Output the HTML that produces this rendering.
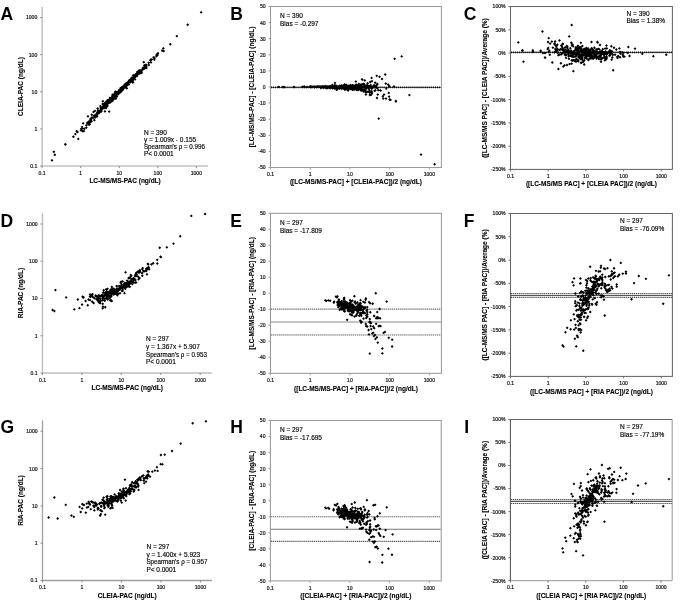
<!DOCTYPE html><html><head><meta charset="utf-8"><style>html,body{margin:0;padding:0;background:#fff}svg{display:block;will-change:transform}text{font-family:"Liberation Sans",sans-serif}</style></head><body>
<svg width="685" height="607" viewBox="0 0 685 607">
<rect width="685" height="607" fill="#fff"/>
<text x="0.60" y="19.80" font-size="17.5" text-anchor="start" font-weight="bold" fill="#000">A</text>
<line x1="42.15" y1="7.00" x2="42.15" y2="166.60" stroke="#c2c2c2" stroke-width="1.5"/>
<line x1="41.65" y1="166.10" x2="208.00" y2="166.10" stroke="#c2c2c2" stroke-width="1.5"/>
<line x1="42.14" y1="166.10" x2="42.14" y2="168.10" stroke="#808080" stroke-width="0.9"/>
<text x="42.14" y="174.54" font-size="5.1" text-anchor="middle" fill="#111" stroke="#111" stroke-width="0.18">0.1</text>
<line x1="80.70" y1="166.10" x2="80.70" y2="168.10" stroke="#808080" stroke-width="0.9"/>
<text x="80.70" y="174.54" font-size="5.1" text-anchor="middle" fill="#111" stroke="#111" stroke-width="0.18">1</text>
<line x1="119.26" y1="166.10" x2="119.26" y2="168.10" stroke="#808080" stroke-width="0.9"/>
<text x="119.26" y="174.54" font-size="5.1" text-anchor="middle" fill="#111" stroke="#111" stroke-width="0.18">10</text>
<line x1="157.82" y1="166.10" x2="157.82" y2="168.10" stroke="#808080" stroke-width="0.9"/>
<text x="157.82" y="174.54" font-size="5.1" text-anchor="middle" fill="#111" stroke="#111" stroke-width="0.18">100</text>
<line x1="196.38" y1="166.10" x2="196.38" y2="168.10" stroke="#808080" stroke-width="0.9"/>
<text x="196.38" y="174.54" font-size="5.1" text-anchor="middle" fill="#111" stroke="#111" stroke-width="0.18">1000</text>
<line x1="40.15" y1="166.10" x2="42.15" y2="166.10" stroke="#808080" stroke-width="0.9"/>
<text x="37.25" y="168.04" font-size="5.1" text-anchor="end" fill="#111" stroke="#111" stroke-width="0.18">0.1</text>
<line x1="40.15" y1="128.95" x2="42.15" y2="128.95" stroke="#808080" stroke-width="0.9"/>
<text x="37.25" y="130.89" font-size="5.1" text-anchor="end" fill="#111" stroke="#111" stroke-width="0.18">1</text>
<line x1="40.15" y1="91.80" x2="42.15" y2="91.80" stroke="#808080" stroke-width="0.9"/>
<text x="37.25" y="93.74" font-size="5.1" text-anchor="end" fill="#111" stroke="#111" stroke-width="0.18">10</text>
<line x1="40.15" y1="54.65" x2="42.15" y2="54.65" stroke="#808080" stroke-width="0.9"/>
<text x="37.25" y="56.59" font-size="5.1" text-anchor="end" fill="#111" stroke="#111" stroke-width="0.18">100</text>
<line x1="40.15" y1="17.50" x2="42.15" y2="17.50" stroke="#808080" stroke-width="0.9"/>
<text x="37.25" y="19.44" font-size="5.1" text-anchor="end" fill="#111" stroke="#111" stroke-width="0.18">1000</text>
<text x="125.08" y="183.34" font-size="6.5" text-anchor="middle" font-weight="bold" stroke="#000" stroke-width="0.1" fill="#000">LC-MS/MS-PAC (ng/dL)</text>
<text x="22.74" y="86.55" font-size="6.5" text-anchor="middle" font-weight="bold" stroke="#000" stroke-width="0.1" transform="rotate(-90 22.74 86.55)" fill="#000">CLEIA-PAC (ng/dL)</text>
<text x="143.90" y="134.80" font-size="6.5" text-anchor="start" stroke="#000" stroke-width="0.15" fill="#000">N = 390</text>
<text x="143.90" y="141.90" font-size="6.5" text-anchor="start" stroke="#000" stroke-width="0.15" fill="#000">y = 1.009x - 0.155</text>
<text x="143.90" y="149.10" font-size="6.5" textLength="61" lengthAdjust="spacingAndGlyphs" stroke="#000" stroke-width="0.15">Spearman's ρ = 0.996</text>
<text x="143.90" y="156.30" font-size="6.5" text-anchor="start" stroke="#000" stroke-width="0.15" fill="#000">P&lt; 0.0001</text>
<text x="0.60" y="226.80" font-size="17.5" text-anchor="start" font-weight="bold" fill="#000">D</text>
<line x1="42.50" y1="213.20" x2="42.50" y2="373.50" stroke="#bdbdbd" stroke-width="1.4"/>
<line x1="42.00" y1="373.00" x2="211.90" y2="373.00" stroke="#bdbdbd" stroke-width="1.4"/>
<line x1="42.47" y1="373.00" x2="42.47" y2="375.00" stroke="#808080" stroke-width="0.9"/>
<text x="42.47" y="381.74" font-size="5.1" text-anchor="middle" fill="#111" stroke="#111" stroke-width="0.18">0.1</text>
<line x1="81.90" y1="373.00" x2="81.90" y2="375.00" stroke="#808080" stroke-width="0.9"/>
<text x="81.90" y="381.74" font-size="5.1" text-anchor="middle" fill="#111" stroke="#111" stroke-width="0.18">1</text>
<line x1="121.33" y1="373.00" x2="121.33" y2="375.00" stroke="#808080" stroke-width="0.9"/>
<text x="121.33" y="381.74" font-size="5.1" text-anchor="middle" fill="#111" stroke="#111" stroke-width="0.18">10</text>
<line x1="160.76" y1="373.00" x2="160.76" y2="375.00" stroke="#808080" stroke-width="0.9"/>
<text x="160.76" y="381.74" font-size="5.1" text-anchor="middle" fill="#111" stroke="#111" stroke-width="0.18">100</text>
<line x1="200.19" y1="373.00" x2="200.19" y2="375.00" stroke="#808080" stroke-width="0.9"/>
<text x="200.19" y="381.74" font-size="5.1" text-anchor="middle" fill="#111" stroke="#111" stroke-width="0.18">1000</text>
<line x1="40.50" y1="373.00" x2="42.50" y2="373.00" stroke="#808080" stroke-width="0.9"/>
<text x="37.60" y="374.94" font-size="5.1" text-anchor="end" fill="#111" stroke="#111" stroke-width="0.18">0.1</text>
<line x1="40.50" y1="335.75" x2="42.50" y2="335.75" stroke="#808080" stroke-width="0.9"/>
<text x="37.60" y="337.69" font-size="5.1" text-anchor="end" fill="#111" stroke="#111" stroke-width="0.18">1</text>
<line x1="40.50" y1="298.50" x2="42.50" y2="298.50" stroke="#808080" stroke-width="0.9"/>
<text x="37.60" y="300.44" font-size="5.1" text-anchor="end" fill="#111" stroke="#111" stroke-width="0.18">10</text>
<line x1="40.50" y1="261.25" x2="42.50" y2="261.25" stroke="#808080" stroke-width="0.9"/>
<text x="37.60" y="263.19" font-size="5.1" text-anchor="end" fill="#111" stroke="#111" stroke-width="0.18">100</text>
<line x1="40.50" y1="224.00" x2="42.50" y2="224.00" stroke="#808080" stroke-width="0.9"/>
<text x="37.60" y="225.94" font-size="5.1" text-anchor="end" fill="#111" stroke="#111" stroke-width="0.18">1000</text>
<text x="127.20" y="390.34" font-size="6.5" text-anchor="middle" font-weight="bold" stroke="#000" stroke-width="0.1" fill="#000">LC-MS/MS-PAC (ng/dL)</text>
<text x="22.74" y="293.10" font-size="6.5" text-anchor="middle" font-weight="bold" stroke="#000" stroke-width="0.1" transform="rotate(-90 22.74 293.10)" fill="#000">RIA-PAC (ng/dL)</text>
<text x="146.00" y="341.30" font-size="6.5" text-anchor="start" stroke="#000" stroke-width="0.15" fill="#000">N = 297</text>
<text x="146.00" y="349.10" font-size="6.5" text-anchor="start" stroke="#000" stroke-width="0.15" fill="#000">y = 1.367x + 5.907</text>
<text x="146.00" y="356.70" font-size="6.5" textLength="61" lengthAdjust="spacingAndGlyphs" stroke="#000" stroke-width="0.15">Spearman's ρ = 0.953</text>
<text x="146.00" y="364.30" font-size="6.5" text-anchor="start" stroke="#000" stroke-width="0.15" fill="#000">P&lt; 0.0001</text>
<text x="0.60" y="433.00" font-size="17.5" text-anchor="start" font-weight="bold" fill="#000">G</text>
<line x1="42.50" y1="420.40" x2="42.50" y2="581.00" stroke="#a0a0a0" stroke-width="1.3"/>
<line x1="42.00" y1="580.50" x2="211.90" y2="580.50" stroke="#a0a0a0" stroke-width="1.3"/>
<line x1="42.50" y1="580.50" x2="42.50" y2="582.50" stroke="#808080" stroke-width="0.9"/>
<text x="42.50" y="589.14" font-size="5.1" text-anchor="middle" fill="#111" stroke="#111" stroke-width="0.18">0.1</text>
<line x1="81.98" y1="580.50" x2="81.98" y2="582.50" stroke="#808080" stroke-width="0.9"/>
<text x="81.98" y="589.14" font-size="5.1" text-anchor="middle" fill="#111" stroke="#111" stroke-width="0.18">1</text>
<line x1="121.46" y1="580.50" x2="121.46" y2="582.50" stroke="#808080" stroke-width="0.9"/>
<text x="121.46" y="589.14" font-size="5.1" text-anchor="middle" fill="#111" stroke="#111" stroke-width="0.18">10</text>
<line x1="160.94" y1="580.50" x2="160.94" y2="582.50" stroke="#808080" stroke-width="0.9"/>
<text x="160.94" y="589.14" font-size="5.1" text-anchor="middle" fill="#111" stroke="#111" stroke-width="0.18">100</text>
<line x1="200.42" y1="580.50" x2="200.42" y2="582.50" stroke="#808080" stroke-width="0.9"/>
<text x="200.42" y="589.14" font-size="5.1" text-anchor="middle" fill="#111" stroke="#111" stroke-width="0.18">1000</text>
<line x1="40.50" y1="580.50" x2="42.50" y2="580.50" stroke="#808080" stroke-width="0.9"/>
<text x="37.60" y="582.44" font-size="5.1" text-anchor="end" fill="#111" stroke="#111" stroke-width="0.18">0.1</text>
<line x1="40.50" y1="543.20" x2="42.50" y2="543.20" stroke="#808080" stroke-width="0.9"/>
<text x="37.60" y="545.14" font-size="5.1" text-anchor="end" fill="#111" stroke="#111" stroke-width="0.18">1</text>
<line x1="40.50" y1="505.90" x2="42.50" y2="505.90" stroke="#808080" stroke-width="0.9"/>
<text x="37.60" y="507.84" font-size="5.1" text-anchor="end" fill="#111" stroke="#111" stroke-width="0.18">10</text>
<line x1="40.50" y1="468.60" x2="42.50" y2="468.60" stroke="#808080" stroke-width="0.9"/>
<text x="37.60" y="470.54" font-size="5.1" text-anchor="end" fill="#111" stroke="#111" stroke-width="0.18">100</text>
<line x1="40.50" y1="431.30" x2="42.50" y2="431.30" stroke="#808080" stroke-width="0.9"/>
<text x="37.60" y="433.24" font-size="5.1" text-anchor="end" fill="#111" stroke="#111" stroke-width="0.18">1000</text>
<text x="127.20" y="597.94" font-size="6.5" text-anchor="middle" font-weight="bold" stroke="#000" stroke-width="0.1" fill="#000">CLEIA-PAC (ng/dL)</text>
<text x="22.74" y="500.45" font-size="6.5" text-anchor="middle" font-weight="bold" stroke="#000" stroke-width="0.1" transform="rotate(-90 22.74 500.45)" fill="#000">RIA-PAC (ng/dL)</text>
<text x="146.40" y="548.70" font-size="6.5" text-anchor="start" stroke="#000" stroke-width="0.15" fill="#000">N = 297</text>
<text x="146.40" y="556.60" font-size="6.5" text-anchor="start" stroke="#000" stroke-width="0.15" fill="#000">y = 1.400x + 5.923</text>
<text x="146.40" y="564.30" font-size="6.5" textLength="61" lengthAdjust="spacingAndGlyphs" stroke="#000" stroke-width="0.15">Spearman's ρ = 0.957</text>
<text x="146.40" y="571.80" font-size="6.5" text-anchor="start" stroke="#000" stroke-width="0.15" fill="#000">P&lt; 0.0001</text>
<text x="230.30" y="19.80" font-size="17.5" text-anchor="start" font-weight="bold" fill="#000">B</text>
<rect x="270.50" y="6.50" width="170.90" height="161.00" fill="none" stroke="#999" stroke-width="1.05"/>
<line x1="270.47" y1="167.50" x2="270.47" y2="169.50" stroke="#999" stroke-width="0.9"/>
<text x="270.47" y="175.74" font-size="5.1" text-anchor="middle" fill="#111" stroke="#111" stroke-width="0.18">0.1</text>
<line x1="310.20" y1="167.50" x2="310.20" y2="169.50" stroke="#999" stroke-width="0.9"/>
<text x="310.20" y="175.74" font-size="5.1" text-anchor="middle" fill="#111" stroke="#111" stroke-width="0.18">1</text>
<line x1="349.93" y1="167.50" x2="349.93" y2="169.50" stroke="#999" stroke-width="0.9"/>
<text x="349.93" y="175.74" font-size="5.1" text-anchor="middle" fill="#111" stroke="#111" stroke-width="0.18">10</text>
<line x1="389.66" y1="167.50" x2="389.66" y2="169.50" stroke="#999" stroke-width="0.9"/>
<text x="389.66" y="175.74" font-size="5.1" text-anchor="middle" fill="#111" stroke="#111" stroke-width="0.18">100</text>
<line x1="429.39" y1="167.50" x2="429.39" y2="169.50" stroke="#999" stroke-width="0.9"/>
<text x="429.39" y="175.74" font-size="5.1" text-anchor="middle" fill="#111" stroke="#111" stroke-width="0.18">1000</text>
<line x1="268.50" y1="6.50" x2="270.50" y2="6.50" stroke="#999" stroke-width="0.9"/>
<text x="265.60" y="8.44" font-size="5.1" text-anchor="end" fill="#111" stroke="#111" stroke-width="0.18">50</text>
<line x1="268.50" y1="22.60" x2="270.50" y2="22.60" stroke="#999" stroke-width="0.9"/>
<text x="265.60" y="24.54" font-size="5.1" text-anchor="end" fill="#111" stroke="#111" stroke-width="0.18">40</text>
<line x1="268.50" y1="38.70" x2="270.50" y2="38.70" stroke="#999" stroke-width="0.9"/>
<text x="265.60" y="40.64" font-size="5.1" text-anchor="end" fill="#111" stroke="#111" stroke-width="0.18">30</text>
<line x1="268.50" y1="54.80" x2="270.50" y2="54.80" stroke="#999" stroke-width="0.9"/>
<text x="265.60" y="56.74" font-size="5.1" text-anchor="end" fill="#111" stroke="#111" stroke-width="0.18">20</text>
<line x1="268.50" y1="70.90" x2="270.50" y2="70.90" stroke="#999" stroke-width="0.9"/>
<text x="265.60" y="72.84" font-size="5.1" text-anchor="end" fill="#111" stroke="#111" stroke-width="0.18">10</text>
<line x1="268.50" y1="87.00" x2="270.50" y2="87.00" stroke="#999" stroke-width="0.9"/>
<text x="265.60" y="88.94" font-size="5.1" text-anchor="end" fill="#111" stroke="#111" stroke-width="0.18">0</text>
<line x1="268.50" y1="103.10" x2="270.50" y2="103.10" stroke="#999" stroke-width="0.9"/>
<text x="265.60" y="105.04" font-size="5.1" text-anchor="end" fill="#111" stroke="#111" stroke-width="0.18">-10</text>
<line x1="268.50" y1="119.20" x2="270.50" y2="119.20" stroke="#999" stroke-width="0.9"/>
<text x="265.60" y="121.14" font-size="5.1" text-anchor="end" fill="#111" stroke="#111" stroke-width="0.18">-20</text>
<line x1="268.50" y1="135.30" x2="270.50" y2="135.30" stroke="#999" stroke-width="0.9"/>
<text x="265.60" y="137.24" font-size="5.1" text-anchor="end" fill="#111" stroke="#111" stroke-width="0.18">-30</text>
<line x1="268.50" y1="151.40" x2="270.50" y2="151.40" stroke="#999" stroke-width="0.9"/>
<text x="265.60" y="153.34" font-size="5.1" text-anchor="end" fill="#111" stroke="#111" stroke-width="0.18">-40</text>
<line x1="268.50" y1="167.50" x2="270.50" y2="167.50" stroke="#999" stroke-width="0.9"/>
<text x="265.60" y="169.44" font-size="5.1" text-anchor="end" fill="#111" stroke="#111" stroke-width="0.18">-50</text>
<text x="355.95" y="184.34" font-size="6.5" text-anchor="middle" font-weight="bold" stroke="#000" stroke-width="0.1" fill="#000">([LC-MS/MS-PAC] + [CLEIA-PAC])/2 (ng/dL)</text>
<text x="254.44" y="87.00" font-size="6.5" text-anchor="middle" font-weight="bold" stroke="#000" stroke-width="0.1" transform="rotate(-90 254.44 87.00)" fill="#000">[LC-MS/MS-PAC] - [CLEIA-PAC] (ng/dL)</text>
<text x="280.00" y="18.30" font-size="6.5" text-anchor="start" stroke="#000" stroke-width="0.15" fill="#000">N = 390</text>
<text x="280.00" y="26.20" font-size="6.5" text-anchor="start" stroke="#000" stroke-width="0.15" fill="#000">Bias = -0.297</text>
<line x1="271.00" y1="87.40" x2="440.90" y2="87.40" stroke="#333" stroke-width="0.9"/>
<line x1="271.00" y1="87.40" x2="440.90" y2="87.40" stroke="#000" stroke-width="1.6" stroke-dasharray="0.9 1.15"/>
<text x="230.30" y="226.80" font-size="17.5" text-anchor="start" font-weight="bold" fill="#000">E</text>
<rect x="270.50" y="213.30" width="170.90" height="160.00" fill="none" stroke="#999" stroke-width="1.05"/>
<line x1="270.47" y1="373.30" x2="270.47" y2="375.30" stroke="#999" stroke-width="0.9"/>
<text x="270.47" y="382.14" font-size="5.1" text-anchor="middle" fill="#111" stroke="#111" stroke-width="0.18">0.1</text>
<line x1="310.20" y1="373.30" x2="310.20" y2="375.30" stroke="#999" stroke-width="0.9"/>
<text x="310.20" y="382.14" font-size="5.1" text-anchor="middle" fill="#111" stroke="#111" stroke-width="0.18">1</text>
<line x1="349.93" y1="373.30" x2="349.93" y2="375.30" stroke="#999" stroke-width="0.9"/>
<text x="349.93" y="382.14" font-size="5.1" text-anchor="middle" fill="#111" stroke="#111" stroke-width="0.18">10</text>
<line x1="389.66" y1="373.30" x2="389.66" y2="375.30" stroke="#999" stroke-width="0.9"/>
<text x="389.66" y="382.14" font-size="5.1" text-anchor="middle" fill="#111" stroke="#111" stroke-width="0.18">100</text>
<line x1="429.39" y1="373.30" x2="429.39" y2="375.30" stroke="#999" stroke-width="0.9"/>
<text x="429.39" y="382.14" font-size="5.1" text-anchor="middle" fill="#111" stroke="#111" stroke-width="0.18">1000</text>
<line x1="268.50" y1="213.30" x2="270.50" y2="213.30" stroke="#999" stroke-width="0.9"/>
<text x="265.60" y="215.24" font-size="5.1" text-anchor="end" fill="#111" stroke="#111" stroke-width="0.18">50</text>
<line x1="268.50" y1="229.30" x2="270.50" y2="229.30" stroke="#999" stroke-width="0.9"/>
<text x="265.60" y="231.24" font-size="5.1" text-anchor="end" fill="#111" stroke="#111" stroke-width="0.18">40</text>
<line x1="268.50" y1="245.30" x2="270.50" y2="245.30" stroke="#999" stroke-width="0.9"/>
<text x="265.60" y="247.24" font-size="5.1" text-anchor="end" fill="#111" stroke="#111" stroke-width="0.18">30</text>
<line x1="268.50" y1="261.30" x2="270.50" y2="261.30" stroke="#999" stroke-width="0.9"/>
<text x="265.60" y="263.24" font-size="5.1" text-anchor="end" fill="#111" stroke="#111" stroke-width="0.18">20</text>
<line x1="268.50" y1="277.30" x2="270.50" y2="277.30" stroke="#999" stroke-width="0.9"/>
<text x="265.60" y="279.24" font-size="5.1" text-anchor="end" fill="#111" stroke="#111" stroke-width="0.18">10</text>
<line x1="268.50" y1="293.30" x2="270.50" y2="293.30" stroke="#999" stroke-width="0.9"/>
<text x="265.60" y="295.24" font-size="5.1" text-anchor="end" fill="#111" stroke="#111" stroke-width="0.18">0</text>
<line x1="268.50" y1="309.30" x2="270.50" y2="309.30" stroke="#999" stroke-width="0.9"/>
<text x="265.60" y="311.24" font-size="5.1" text-anchor="end" fill="#111" stroke="#111" stroke-width="0.18">-10</text>
<line x1="268.50" y1="325.30" x2="270.50" y2="325.30" stroke="#999" stroke-width="0.9"/>
<text x="265.60" y="327.24" font-size="5.1" text-anchor="end" fill="#111" stroke="#111" stroke-width="0.18">-20</text>
<line x1="268.50" y1="341.30" x2="270.50" y2="341.30" stroke="#999" stroke-width="0.9"/>
<text x="265.60" y="343.24" font-size="5.1" text-anchor="end" fill="#111" stroke="#111" stroke-width="0.18">-30</text>
<line x1="268.50" y1="357.30" x2="270.50" y2="357.30" stroke="#999" stroke-width="0.9"/>
<text x="265.60" y="359.24" font-size="5.1" text-anchor="end" fill="#111" stroke="#111" stroke-width="0.18">-40</text>
<line x1="268.50" y1="373.30" x2="270.50" y2="373.30" stroke="#999" stroke-width="0.9"/>
<text x="265.60" y="375.24" font-size="5.1" text-anchor="end" fill="#111" stroke="#111" stroke-width="0.18">-50</text>
<text x="355.95" y="390.74" font-size="6.5" text-anchor="middle" font-weight="bold" stroke="#000" stroke-width="0.1" fill="#000">([LC-MS/MS-PAC] + [RIA-PAC])/2 (ng/dL)</text>
<text x="254.44" y="293.30" font-size="6.5" text-anchor="middle" font-weight="bold" stroke="#000" stroke-width="0.1" transform="rotate(-90 254.44 293.30)" fill="#000">[LC-MS/MS-PAC] - [RIA-PAC] (ng/dL)</text>
<text x="279.90" y="224.90" font-size="6.5" text-anchor="start" stroke="#000" stroke-width="0.15" fill="#000">N = 297</text>
<text x="279.90" y="232.70" font-size="6.5" text-anchor="start" stroke="#000" stroke-width="0.15" fill="#000">Bias = -17.809</text>
<line x1="271.00" y1="309.15" x2="440.90" y2="309.15" stroke="#cdcdcd" stroke-width="1.0"/>
<line x1="271.00" y1="309.15" x2="440.90" y2="309.15" stroke="#707070" stroke-width="1.1" stroke-dasharray="1 1.05"/>
<line x1="271.00" y1="322.00" x2="440.90" y2="322.00" stroke="#8a8a8a" stroke-width="1.1"/>
<line x1="271.00" y1="334.95" x2="440.90" y2="334.95" stroke="#cdcdcd" stroke-width="1.0"/>
<line x1="271.00" y1="334.95" x2="440.90" y2="334.95" stroke="#707070" stroke-width="1.1" stroke-dasharray="1 1.05"/>
<text x="230.30" y="433.00" font-size="17.5" text-anchor="start" font-weight="bold" fill="#000">H</text>
<rect x="270.40" y="420.50" width="170.80" height="160.40" fill="none" stroke="#999" stroke-width="1.05"/>
<line x1="270.37" y1="580.90" x2="270.37" y2="582.90" stroke="#999" stroke-width="0.9"/>
<text x="270.37" y="589.54" font-size="5.1" text-anchor="middle" fill="#111" stroke="#111" stroke-width="0.18">0.1</text>
<line x1="310.10" y1="580.90" x2="310.10" y2="582.90" stroke="#999" stroke-width="0.9"/>
<text x="310.10" y="589.54" font-size="5.1" text-anchor="middle" fill="#111" stroke="#111" stroke-width="0.18">1</text>
<line x1="349.83" y1="580.90" x2="349.83" y2="582.90" stroke="#999" stroke-width="0.9"/>
<text x="349.83" y="589.54" font-size="5.1" text-anchor="middle" fill="#111" stroke="#111" stroke-width="0.18">10</text>
<line x1="389.56" y1="580.90" x2="389.56" y2="582.90" stroke="#999" stroke-width="0.9"/>
<text x="389.56" y="589.54" font-size="5.1" text-anchor="middle" fill="#111" stroke="#111" stroke-width="0.18">100</text>
<line x1="429.29" y1="580.90" x2="429.29" y2="582.90" stroke="#999" stroke-width="0.9"/>
<text x="429.29" y="589.54" font-size="5.1" text-anchor="middle" fill="#111" stroke="#111" stroke-width="0.18">1000</text>
<line x1="268.40" y1="420.50" x2="270.40" y2="420.50" stroke="#999" stroke-width="0.9"/>
<text x="265.50" y="422.44" font-size="5.1" text-anchor="end" fill="#111" stroke="#111" stroke-width="0.18">50</text>
<line x1="268.40" y1="436.54" x2="270.40" y2="436.54" stroke="#999" stroke-width="0.9"/>
<text x="265.50" y="438.48" font-size="5.1" text-anchor="end" fill="#111" stroke="#111" stroke-width="0.18">40</text>
<line x1="268.40" y1="452.58" x2="270.40" y2="452.58" stroke="#999" stroke-width="0.9"/>
<text x="265.50" y="454.52" font-size="5.1" text-anchor="end" fill="#111" stroke="#111" stroke-width="0.18">30</text>
<line x1="268.40" y1="468.62" x2="270.40" y2="468.62" stroke="#999" stroke-width="0.9"/>
<text x="265.50" y="470.56" font-size="5.1" text-anchor="end" fill="#111" stroke="#111" stroke-width="0.18">20</text>
<line x1="268.40" y1="484.66" x2="270.40" y2="484.66" stroke="#999" stroke-width="0.9"/>
<text x="265.50" y="486.60" font-size="5.1" text-anchor="end" fill="#111" stroke="#111" stroke-width="0.18">10</text>
<line x1="268.40" y1="500.70" x2="270.40" y2="500.70" stroke="#999" stroke-width="0.9"/>
<text x="265.50" y="502.64" font-size="5.1" text-anchor="end" fill="#111" stroke="#111" stroke-width="0.18">0</text>
<line x1="268.40" y1="516.74" x2="270.40" y2="516.74" stroke="#999" stroke-width="0.9"/>
<text x="265.50" y="518.68" font-size="5.1" text-anchor="end" fill="#111" stroke="#111" stroke-width="0.18">-10</text>
<line x1="268.40" y1="532.78" x2="270.40" y2="532.78" stroke="#999" stroke-width="0.9"/>
<text x="265.50" y="534.72" font-size="5.1" text-anchor="end" fill="#111" stroke="#111" stroke-width="0.18">-20</text>
<line x1="268.40" y1="548.82" x2="270.40" y2="548.82" stroke="#999" stroke-width="0.9"/>
<text x="265.50" y="550.76" font-size="5.1" text-anchor="end" fill="#111" stroke="#111" stroke-width="0.18">-30</text>
<line x1="268.40" y1="564.86" x2="270.40" y2="564.86" stroke="#999" stroke-width="0.9"/>
<text x="265.50" y="566.80" font-size="5.1" text-anchor="end" fill="#111" stroke="#111" stroke-width="0.18">-40</text>
<line x1="268.40" y1="580.90" x2="270.40" y2="580.90" stroke="#999" stroke-width="0.9"/>
<text x="265.50" y="582.84" font-size="5.1" text-anchor="end" fill="#111" stroke="#111" stroke-width="0.18">-50</text>
<text x="355.80" y="598.34" font-size="6.5" text-anchor="middle" font-weight="bold" stroke="#000" stroke-width="0.1" fill="#000">([CLEIA-PAC] + [RIA-PAC])/2 (ng/dL)</text>
<text x="254.44" y="500.70" font-size="6.5" text-anchor="middle" font-weight="bold" stroke="#000" stroke-width="0.1" transform="rotate(-90 254.44 500.70)" fill="#000">[CLEIA-PAC] - [RIA-PAC] (ng/dL)</text>
<text x="279.90" y="432.30" font-size="6.5" text-anchor="start" stroke="#000" stroke-width="0.15" fill="#000">N = 297</text>
<text x="279.90" y="439.90" font-size="6.5" text-anchor="start" stroke="#000" stroke-width="0.15" fill="#000">Bias = -17.695</text>
<line x1="270.90" y1="516.80" x2="440.70" y2="516.80" stroke="#cdcdcd" stroke-width="1.0"/>
<line x1="270.90" y1="516.80" x2="440.70" y2="516.80" stroke="#707070" stroke-width="1.1" stroke-dasharray="1 1.05"/>
<line x1="270.90" y1="529.20" x2="440.70" y2="529.20" stroke="#777" stroke-width="1.1"/>
<line x1="270.90" y1="541.40" x2="440.70" y2="541.40" stroke="#cdcdcd" stroke-width="1.0"/>
<line x1="270.90" y1="541.40" x2="440.70" y2="541.40" stroke="#505050" stroke-width="1.1" stroke-dasharray="1 1.05"/>
<text x="463.80" y="19.80" font-size="17.5" text-anchor="start" font-weight="bold" fill="#000">C</text>
<rect x="510.50" y="6.50" width="161.90" height="162.90" fill="none" stroke="#666" stroke-width="1.05"/>
<line x1="510.50" y1="169.40" x2="510.50" y2="171.40" stroke="#666" stroke-width="0.9"/>
<text x="510.50" y="177.94" font-size="5.1" text-anchor="middle" fill="#111" stroke="#111" stroke-width="0.18">0.1</text>
<line x1="548.20" y1="169.40" x2="548.20" y2="171.40" stroke="#666" stroke-width="0.9"/>
<text x="548.20" y="177.94" font-size="5.1" text-anchor="middle" fill="#111" stroke="#111" stroke-width="0.18">1</text>
<line x1="585.90" y1="169.40" x2="585.90" y2="171.40" stroke="#666" stroke-width="0.9"/>
<text x="585.90" y="177.94" font-size="5.1" text-anchor="middle" fill="#111" stroke="#111" stroke-width="0.18">10</text>
<line x1="623.60" y1="169.40" x2="623.60" y2="171.40" stroke="#666" stroke-width="0.9"/>
<text x="623.60" y="177.94" font-size="5.1" text-anchor="middle" fill="#111" stroke="#111" stroke-width="0.18">100</text>
<line x1="661.30" y1="169.40" x2="661.30" y2="171.40" stroke="#666" stroke-width="0.9"/>
<text x="661.30" y="177.94" font-size="5.1" text-anchor="middle" fill="#111" stroke="#111" stroke-width="0.18">1000</text>
<line x1="508.50" y1="6.53" x2="510.50" y2="6.53" stroke="#666" stroke-width="0.9"/>
<text x="505.60" y="8.47" font-size="5.1" text-anchor="end" fill="#111" stroke="#111" stroke-width="0.18">100%</text>
<line x1="508.50" y1="29.80" x2="510.50" y2="29.80" stroke="#666" stroke-width="0.9"/>
<text x="505.60" y="31.74" font-size="5.1" text-anchor="end" fill="#111" stroke="#111" stroke-width="0.18">50%</text>
<line x1="508.50" y1="53.07" x2="510.50" y2="53.07" stroke="#666" stroke-width="0.9"/>
<text x="505.60" y="55.01" font-size="5.1" text-anchor="end" fill="#111" stroke="#111" stroke-width="0.18">0%</text>
<line x1="508.50" y1="76.34" x2="510.50" y2="76.34" stroke="#666" stroke-width="0.9"/>
<text x="505.60" y="78.28" font-size="5.1" text-anchor="end" fill="#111" stroke="#111" stroke-width="0.18">-50%</text>
<line x1="508.50" y1="99.61" x2="510.50" y2="99.61" stroke="#666" stroke-width="0.9"/>
<text x="505.60" y="101.55" font-size="5.1" text-anchor="end" fill="#111" stroke="#111" stroke-width="0.18">-100%</text>
<line x1="508.50" y1="122.88" x2="510.50" y2="122.88" stroke="#666" stroke-width="0.9"/>
<text x="505.60" y="124.82" font-size="5.1" text-anchor="end" fill="#111" stroke="#111" stroke-width="0.18">-150%</text>
<line x1="508.50" y1="146.15" x2="510.50" y2="146.15" stroke="#666" stroke-width="0.9"/>
<text x="505.60" y="148.09" font-size="5.1" text-anchor="end" fill="#111" stroke="#111" stroke-width="0.18">-200%</text>
<line x1="508.50" y1="169.42" x2="510.50" y2="169.42" stroke="#666" stroke-width="0.9"/>
<text x="505.60" y="171.36" font-size="5.1" text-anchor="end" fill="#111" stroke="#111" stroke-width="0.18">-250%</text>
<text x="591.45" y="186.34" font-size="6.5" text-anchor="middle" font-weight="bold" stroke="#000" stroke-width="0.1" fill="#000">([LC-MS/MS PAC] + [CLEIA PAC])/2 (ng/dL)</text>
<text x="487.34" y="87.95" font-size="6.5" text-anchor="middle" font-weight="bold" stroke="#000" stroke-width="0.1" transform="rotate(-90 487.34 87.95)" fill="#000">([LC-MS/MS PAC] - [CLEIA PAC])/Average (%)</text>
<text x="626.60" y="15.90" font-size="6.5" text-anchor="start" stroke="#000" stroke-width="0.15" fill="#000">N = 390</text>
<text x="626.60" y="23.30" font-size="6.5" text-anchor="start" stroke="#000" stroke-width="0.15" fill="#000">Bias = 1.38%</text>
<line x1="511.00" y1="52.40" x2="671.90" y2="52.40" stroke="#333" stroke-width="0.9"/>
<line x1="511.00" y1="52.40" x2="671.90" y2="52.40" stroke="#000" stroke-width="1.6" stroke-dasharray="0.9 1.15"/>
<text x="463.80" y="226.80" font-size="17.5" text-anchor="start" font-weight="bold" fill="#000">F</text>
<rect x="510.50" y="213.50" width="161.90" height="162.90" fill="none" stroke="#666" stroke-width="1.05"/>
<line x1="510.50" y1="376.40" x2="510.50" y2="378.40" stroke="#666" stroke-width="0.9"/>
<text x="510.50" y="384.74" font-size="5.1" text-anchor="middle" fill="#111" stroke="#111" stroke-width="0.18">0.1</text>
<line x1="548.20" y1="376.40" x2="548.20" y2="378.40" stroke="#666" stroke-width="0.9"/>
<text x="548.20" y="384.74" font-size="5.1" text-anchor="middle" fill="#111" stroke="#111" stroke-width="0.18">1</text>
<line x1="585.90" y1="376.40" x2="585.90" y2="378.40" stroke="#666" stroke-width="0.9"/>
<text x="585.90" y="384.74" font-size="5.1" text-anchor="middle" fill="#111" stroke="#111" stroke-width="0.18">10</text>
<line x1="623.60" y1="376.40" x2="623.60" y2="378.40" stroke="#666" stroke-width="0.9"/>
<text x="623.60" y="384.74" font-size="5.1" text-anchor="middle" fill="#111" stroke="#111" stroke-width="0.18">100</text>
<line x1="661.30" y1="376.40" x2="661.30" y2="378.40" stroke="#666" stroke-width="0.9"/>
<text x="661.30" y="384.74" font-size="5.1" text-anchor="middle" fill="#111" stroke="#111" stroke-width="0.18">1000</text>
<line x1="508.50" y1="213.50" x2="510.50" y2="213.50" stroke="#666" stroke-width="0.9"/>
<text x="505.60" y="215.44" font-size="5.1" text-anchor="end" fill="#111" stroke="#111" stroke-width="0.18">100%</text>
<line x1="508.50" y1="236.77" x2="510.50" y2="236.77" stroke="#666" stroke-width="0.9"/>
<text x="505.60" y="238.71" font-size="5.1" text-anchor="end" fill="#111" stroke="#111" stroke-width="0.18">50%</text>
<line x1="508.50" y1="260.04" x2="510.50" y2="260.04" stroke="#666" stroke-width="0.9"/>
<text x="505.60" y="261.98" font-size="5.1" text-anchor="end" fill="#111" stroke="#111" stroke-width="0.18">0%</text>
<line x1="508.50" y1="283.31" x2="510.50" y2="283.31" stroke="#666" stroke-width="0.9"/>
<text x="505.60" y="285.25" font-size="5.1" text-anchor="end" fill="#111" stroke="#111" stroke-width="0.18">-50%</text>
<line x1="508.50" y1="306.58" x2="510.50" y2="306.58" stroke="#666" stroke-width="0.9"/>
<text x="505.60" y="308.52" font-size="5.1" text-anchor="end" fill="#111" stroke="#111" stroke-width="0.18">-100%</text>
<line x1="508.50" y1="329.85" x2="510.50" y2="329.85" stroke="#666" stroke-width="0.9"/>
<text x="505.60" y="331.79" font-size="5.1" text-anchor="end" fill="#111" stroke="#111" stroke-width="0.18">-150%</text>
<line x1="508.50" y1="353.12" x2="510.50" y2="353.12" stroke="#666" stroke-width="0.9"/>
<text x="505.60" y="355.06" font-size="5.1" text-anchor="end" fill="#111" stroke="#111" stroke-width="0.18">-200%</text>
<line x1="508.50" y1="376.39" x2="510.50" y2="376.39" stroke="#666" stroke-width="0.9"/>
<text x="505.60" y="378.33" font-size="5.1" text-anchor="end" fill="#111" stroke="#111" stroke-width="0.18">-250%</text>
<text x="591.45" y="393.94" font-size="6.5" text-anchor="middle" font-weight="bold" stroke="#000" stroke-width="0.1" fill="#000">([LC-MS/MS PAC] + [RIA PAC])/2 (ng/dL)</text>
<text x="487.34" y="294.95" font-size="6.5" text-anchor="middle" font-weight="bold" stroke="#000" stroke-width="0.1" transform="rotate(-90 487.34 294.95)" fill="#000">([LC-MS/MS PAC] - [RIA PAC])/Average (%)</text>
<text x="620.00" y="223.30" font-size="6.5" text-anchor="start" stroke="#000" stroke-width="0.15" fill="#000">N = 297</text>
<text x="620.00" y="231.30" font-size="6.5" text-anchor="start" stroke="#000" stroke-width="0.15" fill="#000">Bias = -76.09%</text>
<line x1="511.00" y1="293.65" x2="671.90" y2="293.65" stroke="#cdcdcd" stroke-width="1.0"/>
<line x1="511.00" y1="293.65" x2="671.90" y2="293.65" stroke="#444" stroke-width="1.1" stroke-dasharray="1 1.05"/>
<line x1="511.00" y1="295.50" x2="671.90" y2="295.50" stroke="#555" stroke-width="1.1"/>
<line x1="511.00" y1="297.40" x2="671.90" y2="297.40" stroke="#cdcdcd" stroke-width="1.0"/>
<line x1="511.00" y1="297.40" x2="671.90" y2="297.40" stroke="#444" stroke-width="1.1" stroke-dasharray="1 1.05"/>
<text x="464.20" y="433.00" font-size="17.5" text-anchor="start" font-weight="bold" fill="#000">I</text>
<line x1="510.40" y1="419.50" x2="672.20" y2="419.50" stroke="#666" stroke-width="1.05"/>
<line x1="672.20" y1="419.50" x2="672.20" y2="580.60" stroke="#9a9a9a" stroke-width="1.05"/>
<line x1="510.40" y1="580.60" x2="672.20" y2="580.60" stroke="#aaaaaa" stroke-width="1.3"/>
<line x1="510.40" y1="419.00" x2="510.40" y2="581.10" stroke="#555" stroke-width="1.05"/>
<line x1="510.45" y1="580.60" x2="510.45" y2="582.60" stroke="#666" stroke-width="0.9"/>
<text x="510.45" y="589.14" font-size="5.1" text-anchor="middle" fill="#111" stroke="#111" stroke-width="0.18">0.1</text>
<line x1="548.10" y1="580.60" x2="548.10" y2="582.60" stroke="#666" stroke-width="0.9"/>
<text x="548.10" y="589.14" font-size="5.1" text-anchor="middle" fill="#111" stroke="#111" stroke-width="0.18">1</text>
<line x1="585.75" y1="580.60" x2="585.75" y2="582.60" stroke="#666" stroke-width="0.9"/>
<text x="585.75" y="589.14" font-size="5.1" text-anchor="middle" fill="#111" stroke="#111" stroke-width="0.18">10</text>
<line x1="623.40" y1="580.60" x2="623.40" y2="582.60" stroke="#666" stroke-width="0.9"/>
<text x="623.40" y="589.14" font-size="5.1" text-anchor="middle" fill="#111" stroke="#111" stroke-width="0.18">100</text>
<line x1="661.05" y1="580.60" x2="661.05" y2="582.60" stroke="#666" stroke-width="0.9"/>
<text x="661.05" y="589.14" font-size="5.1" text-anchor="middle" fill="#111" stroke="#111" stroke-width="0.18">1000</text>
<line x1="508.40" y1="419.50" x2="510.40" y2="419.50" stroke="#666" stroke-width="0.9"/>
<text x="505.50" y="421.44" font-size="5.1" text-anchor="end" fill="#111" stroke="#111" stroke-width="0.18">100%</text>
<line x1="508.40" y1="442.51" x2="510.40" y2="442.51" stroke="#666" stroke-width="0.9"/>
<text x="505.50" y="444.45" font-size="5.1" text-anchor="end" fill="#111" stroke="#111" stroke-width="0.18">50%</text>
<line x1="508.40" y1="465.53" x2="510.40" y2="465.53" stroke="#666" stroke-width="0.9"/>
<text x="505.50" y="467.47" font-size="5.1" text-anchor="end" fill="#111" stroke="#111" stroke-width="0.18">0%</text>
<line x1="508.40" y1="488.54" x2="510.40" y2="488.54" stroke="#666" stroke-width="0.9"/>
<text x="505.50" y="490.48" font-size="5.1" text-anchor="end" fill="#111" stroke="#111" stroke-width="0.18">-50%</text>
<line x1="508.40" y1="511.56" x2="510.40" y2="511.56" stroke="#666" stroke-width="0.9"/>
<text x="505.50" y="513.50" font-size="5.1" text-anchor="end" fill="#111" stroke="#111" stroke-width="0.18">-100%</text>
<line x1="508.40" y1="534.57" x2="510.40" y2="534.57" stroke="#666" stroke-width="0.9"/>
<text x="505.50" y="536.51" font-size="5.1" text-anchor="end" fill="#111" stroke="#111" stroke-width="0.18">-150%</text>
<line x1="508.40" y1="557.59" x2="510.40" y2="557.59" stroke="#666" stroke-width="0.9"/>
<text x="505.50" y="559.53" font-size="5.1" text-anchor="end" fill="#111" stroke="#111" stroke-width="0.18">-200%</text>
<line x1="508.40" y1="580.61" x2="510.40" y2="580.61" stroke="#666" stroke-width="0.9"/>
<text x="505.50" y="582.54" font-size="5.1" text-anchor="end" fill="#111" stroke="#111" stroke-width="0.18">-250%</text>
<text x="591.30" y="597.94" font-size="6.5" text-anchor="middle" font-weight="bold" stroke="#000" stroke-width="0.1" fill="#000">([CLEIA PAC] + [RIA PAC])/2 (ng/dL)</text>
<text x="487.34" y="500.05" font-size="6.5" text-anchor="middle" font-weight="bold" stroke="#000" stroke-width="0.1" transform="rotate(-90 487.34 500.05)" fill="#000">([CLEIA PAC] - [RIA PAC])/Average (%)</text>
<text x="620.00" y="429.30" font-size="6.5" text-anchor="start" stroke="#000" stroke-width="0.15" fill="#000">N = 297</text>
<text x="620.00" y="437.30" font-size="6.5" text-anchor="start" stroke="#000" stroke-width="0.15" fill="#000">Bias = -77.19%</text>
<line x1="510.90" y1="499.56" x2="671.70" y2="499.56" stroke="#cdcdcd" stroke-width="1.0"/>
<line x1="510.90" y1="499.56" x2="671.70" y2="499.56" stroke="#444" stroke-width="1.1" stroke-dasharray="1 1.05"/>
<line x1="510.90" y1="501.40" x2="671.70" y2="501.40" stroke="#555" stroke-width="1.1"/>
<line x1="510.90" y1="503.50" x2="671.70" y2="503.50" stroke="#cdcdcd" stroke-width="1.0"/>
<line x1="510.90" y1="503.50" x2="671.70" y2="503.50" stroke="#444" stroke-width="1.1" stroke-dasharray="1 1.05"/>
<path d="M50.56 160.33l1.42 -1.42l1.42 1.42l-1.42 1.42zM52.41 151.84l1.42 -1.42l1.42 1.42l-1.42 1.42zM53.38 154.92l1.42 -1.42l1.42 1.42l-1.42 1.42zM63.89 144.22l1.42 -1.42l1.42 1.42l-1.42 1.42zM71.88 136.69l1.42 -1.42l1.42 1.42l-1.42 1.42zM75.29 131.16l1.42 -1.42l1.42 1.42l-1.42 1.42zM76.87 138.89l1.42 -1.42l1.42 1.42l-1.42 1.42zM199.74 12.33l1.42 -1.42l1.42 1.42l-1.42 1.42zM186.27 24.78l1.42 -1.42l1.42 1.42l-1.42 1.42zM175.40 36.09l1.42 -1.42l1.42 1.42l-1.42 1.42zM168.82 44.21l1.42 -1.42l1.42 1.42l-1.42 1.42zM162.32 51.06l1.42 -1.42l1.42 1.42l-1.42 1.42zM155.36 54.65l1.42 -1.42l1.42 1.42l-1.42 1.42zM156.57 53.26l1.42 -1.42l1.42 1.42l-1.42 1.42zM102.09 107.05l1.42 -1.42l1.42 1.42l-1.42 1.42zM99.58 111.84l1.42 -1.42l1.42 1.42l-1.42 1.42zM99.93 111.26l1.42 -1.42l1.42 1.42l-1.42 1.42zM107.63 100.75l1.42 -1.42l1.42 1.42l-1.42 1.42zM116.59 92.42l1.42 -1.42l1.42 1.42l-1.42 1.42zM119.14 89.64l1.42 -1.42l1.42 1.42l-1.42 1.42zM126.11 84.38l1.42 -1.42l1.42 1.42l-1.42 1.42zM130.20 79.68l1.42 -1.42l1.42 1.42l-1.42 1.42zM134.76 76.06l1.42 -1.42l1.42 1.42l-1.42 1.42zM138.40 70.32l1.42 -1.42l1.42 1.42l-1.42 1.42zM142.91 68.63l1.42 -1.42l1.42 1.42l-1.42 1.42zM153.01 57.71l1.42 -1.42l1.42 1.42l-1.42 1.42zM143.71 67.21l1.42 -1.42l1.42 1.42l-1.42 1.42zM144.25 66.11l1.42 -1.42l1.42 1.42l-1.42 1.42zM138.76 71.18l1.42 -1.42l1.42 1.42l-1.42 1.42zM135.96 74.61l1.42 -1.42l1.42 1.42l-1.42 1.42zM138.33 72.60l1.42 -1.42l1.42 1.42l-1.42 1.42zM135.94 74.03l1.42 -1.42l1.42 1.42l-1.42 1.42zM134.31 75.64l1.42 -1.42l1.42 1.42l-1.42 1.42zM133.96 76.79l1.42 -1.42l1.42 1.42l-1.42 1.42zM127.07 81.72l1.42 -1.42l1.42 1.42l-1.42 1.42zM127.72 80.36l1.42 -1.42l1.42 1.42l-1.42 1.42zM132.02 78.40l1.42 -1.42l1.42 1.42l-1.42 1.42zM147.29 62.83l1.42 -1.42l1.42 1.42l-1.42 1.42zM149.00 60.39l1.42 -1.42l1.42 1.42l-1.42 1.42zM124.94 83.79l1.42 -1.42l1.42 1.42l-1.42 1.42zM126.56 82.69l1.42 -1.42l1.42 1.42l-1.42 1.42zM131.70 77.05l1.42 -1.42l1.42 1.42l-1.42 1.42zM135.17 73.57l1.42 -1.42l1.42 1.42l-1.42 1.42zM142.16 68.25l1.42 -1.42l1.42 1.42l-1.42 1.42zM144.42 66.67l1.42 -1.42l1.42 1.42l-1.42 1.42zM139.31 70.78l1.42 -1.42l1.42 1.42l-1.42 1.42zM125.21 83.63l1.42 -1.42l1.42 1.42l-1.42 1.42zM131.13 79.25l1.42 -1.42l1.42 1.42l-1.42 1.42zM132.98 77.79l1.42 -1.42l1.42 1.42l-1.42 1.42zM119.15 89.96l1.42 -1.42l1.42 1.42l-1.42 1.42zM117.16 93.13l1.42 -1.42l1.42 1.42l-1.42 1.42zM123.50 87.56l1.42 -1.42l1.42 1.42l-1.42 1.42zM127.47 82.13l1.42 -1.42l1.42 1.42l-1.42 1.42zM132.20 76.98l1.42 -1.42l1.42 1.42l-1.42 1.42zM140.09 70.48l1.42 -1.42l1.42 1.42l-1.42 1.42zM143.15 67.45l1.42 -1.42l1.42 1.42l-1.42 1.42zM144.79 66.46l1.42 -1.42l1.42 1.42l-1.42 1.42zM138.30 70.87l1.42 -1.42l1.42 1.42l-1.42 1.42zM145.10 64.93l1.42 -1.42l1.42 1.42l-1.42 1.42zM142.15 67.62l1.42 -1.42l1.42 1.42l-1.42 1.42zM137.96 70.81l1.42 -1.42l1.42 1.42l-1.42 1.42zM142.06 68.41l1.42 -1.42l1.42 1.42l-1.42 1.42zM143.26 67.54l1.42 -1.42l1.42 1.42l-1.42 1.42zM131.18 78.02l1.42 -1.42l1.42 1.42l-1.42 1.42zM132.26 79.17l1.42 -1.42l1.42 1.42l-1.42 1.42zM141.52 69.44l1.42 -1.42l1.42 1.42l-1.42 1.42zM121.96 88.53l1.42 -1.42l1.42 1.42l-1.42 1.42zM156.16 54.96l1.42 -1.42l1.42 1.42l-1.42 1.42zM152.92 58.43l1.42 -1.42l1.42 1.42l-1.42 1.42zM79.97 128.66l1.42 -1.42l1.42 1.42l-1.42 1.42zM80.61 127.05l1.42 -1.42l1.42 1.42l-1.42 1.42zM79.47 130.14l1.42 -1.42l1.42 1.42l-1.42 1.42zM85.75 123.01l1.42 -1.42l1.42 1.42l-1.42 1.42zM82.88 128.78l1.42 -1.42l1.42 1.42l-1.42 1.42zM84.98 125.34l1.42 -1.42l1.42 1.42l-1.42 1.42zM80.79 128.31l1.42 -1.42l1.42 1.42l-1.42 1.42zM91.61 118.16l1.42 -1.42l1.42 1.42l-1.42 1.42zM93.90 117.45l1.42 -1.42l1.42 1.42l-1.42 1.42zM87.20 122.71l1.42 -1.42l1.42 1.42l-1.42 1.42zM87.71 121.69l1.42 -1.42l1.42 1.42l-1.42 1.42zM87.13 121.82l1.42 -1.42l1.42 1.42l-1.42 1.42zM89.25 118.62l1.42 -1.42l1.42 1.42l-1.42 1.42zM92.60 115.64l1.42 -1.42l1.42 1.42l-1.42 1.42zM90.80 117.35l1.42 -1.42l1.42 1.42l-1.42 1.42zM93.57 110.92l1.42 -1.42l1.42 1.42l-1.42 1.42zM88.67 122.09l1.42 -1.42l1.42 1.42l-1.42 1.42zM89.42 120.66l1.42 -1.42l1.42 1.42l-1.42 1.42zM94.54 116.39l1.42 -1.42l1.42 1.42l-1.42 1.42zM94.25 115.66l1.42 -1.42l1.42 1.42l-1.42 1.42zM89.62 120.15l1.42 -1.42l1.42 1.42l-1.42 1.42zM89.42 119.36l1.42 -1.42l1.42 1.42l-1.42 1.42zM92.75 117.33l1.42 -1.42l1.42 1.42l-1.42 1.42zM87.30 124.29l1.42 -1.42l1.42 1.42l-1.42 1.42zM87.51 124.46l1.42 -1.42l1.42 1.42l-1.42 1.42zM90.11 121.43l1.42 -1.42l1.42 1.42l-1.42 1.42zM101.22 104.12l1.42 -1.42l1.42 1.42l-1.42 1.42zM100.42 109.65l1.42 -1.42l1.42 1.42l-1.42 1.42zM98.91 110.25l1.42 -1.42l1.42 1.42l-1.42 1.42zM99.81 110.94l1.42 -1.42l1.42 1.42l-1.42 1.42zM100.04 108.85l1.42 -1.42l1.42 1.42l-1.42 1.42zM100.73 108.74l1.42 -1.42l1.42 1.42l-1.42 1.42zM101.86 104.66l1.42 -1.42l1.42 1.42l-1.42 1.42zM95.86 114.05l1.42 -1.42l1.42 1.42l-1.42 1.42zM99.53 108.82l1.42 -1.42l1.42 1.42l-1.42 1.42zM95.81 113.93l1.42 -1.42l1.42 1.42l-1.42 1.42zM100.77 108.13l1.42 -1.42l1.42 1.42l-1.42 1.42zM101.60 108.02l1.42 -1.42l1.42 1.42l-1.42 1.42zM100.56 108.52l1.42 -1.42l1.42 1.42l-1.42 1.42zM94.98 115.46l1.42 -1.42l1.42 1.42l-1.42 1.42zM97.48 112.51l1.42 -1.42l1.42 1.42l-1.42 1.42zM102.41 105.66l1.42 -1.42l1.42 1.42l-1.42 1.42zM95.81 116.28l1.42 -1.42l1.42 1.42l-1.42 1.42zM96.59 112.38l1.42 -1.42l1.42 1.42l-1.42 1.42zM97.46 113.35l1.42 -1.42l1.42 1.42l-1.42 1.42zM101.42 106.71l1.42 -1.42l1.42 1.42l-1.42 1.42zM99.61 108.22l1.42 -1.42l1.42 1.42l-1.42 1.42zM98.55 111.01l1.42 -1.42l1.42 1.42l-1.42 1.42zM95.31 114.88l1.42 -1.42l1.42 1.42l-1.42 1.42zM99.42 107.54l1.42 -1.42l1.42 1.42l-1.42 1.42zM96.49 111.65l1.42 -1.42l1.42 1.42l-1.42 1.42zM95.00 114.00l1.42 -1.42l1.42 1.42l-1.42 1.42zM95.59 116.26l1.42 -1.42l1.42 1.42l-1.42 1.42zM98.99 106.12l1.42 -1.42l1.42 1.42l-1.42 1.42zM99.62 110.24l1.42 -1.42l1.42 1.42l-1.42 1.42zM97.21 111.01l1.42 -1.42l1.42 1.42l-1.42 1.42zM99.67 110.17l1.42 -1.42l1.42 1.42l-1.42 1.42zM97.42 110.88l1.42 -1.42l1.42 1.42l-1.42 1.42zM103.42 106.30l1.42 -1.42l1.42 1.42l-1.42 1.42zM104.85 106.91l1.42 -1.42l1.42 1.42l-1.42 1.42zM109.45 100.51l1.42 -1.42l1.42 1.42l-1.42 1.42zM103.31 106.42l1.42 -1.42l1.42 1.42l-1.42 1.42zM103.08 104.74l1.42 -1.42l1.42 1.42l-1.42 1.42zM106.75 103.34l1.42 -1.42l1.42 1.42l-1.42 1.42zM109.85 99.10l1.42 -1.42l1.42 1.42l-1.42 1.42zM109.41 98.55l1.42 -1.42l1.42 1.42l-1.42 1.42zM107.82 101.34l1.42 -1.42l1.42 1.42l-1.42 1.42zM102.93 105.77l1.42 -1.42l1.42 1.42l-1.42 1.42zM108.63 101.83l1.42 -1.42l1.42 1.42l-1.42 1.42zM107.69 101.46l1.42 -1.42l1.42 1.42l-1.42 1.42zM103.53 104.68l1.42 -1.42l1.42 1.42l-1.42 1.42zM106.00 105.58l1.42 -1.42l1.42 1.42l-1.42 1.42zM102.80 107.97l1.42 -1.42l1.42 1.42l-1.42 1.42zM108.60 102.70l1.42 -1.42l1.42 1.42l-1.42 1.42zM107.96 102.26l1.42 -1.42l1.42 1.42l-1.42 1.42zM108.62 100.44l1.42 -1.42l1.42 1.42l-1.42 1.42zM108.28 100.27l1.42 -1.42l1.42 1.42l-1.42 1.42zM104.48 104.19l1.42 -1.42l1.42 1.42l-1.42 1.42zM108.51 102.27l1.42 -1.42l1.42 1.42l-1.42 1.42zM104.34 104.98l1.42 -1.42l1.42 1.42l-1.42 1.42zM103.48 103.11l1.42 -1.42l1.42 1.42l-1.42 1.42zM105.43 103.67l1.42 -1.42l1.42 1.42l-1.42 1.42zM106.26 100.58l1.42 -1.42l1.42 1.42l-1.42 1.42zM104.62 104.79l1.42 -1.42l1.42 1.42l-1.42 1.42zM107.09 100.14l1.42 -1.42l1.42 1.42l-1.42 1.42zM107.06 100.06l1.42 -1.42l1.42 1.42l-1.42 1.42zM104.27 105.06l1.42 -1.42l1.42 1.42l-1.42 1.42zM107.22 101.86l1.42 -1.42l1.42 1.42l-1.42 1.42zM105.17 101.21l1.42 -1.42l1.42 1.42l-1.42 1.42zM108.08 102.36l1.42 -1.42l1.42 1.42l-1.42 1.42zM104.66 108.11l1.42 -1.42l1.42 1.42l-1.42 1.42zM108.58 98.27l1.42 -1.42l1.42 1.42l-1.42 1.42zM106.68 101.38l1.42 -1.42l1.42 1.42l-1.42 1.42zM107.61 100.80l1.42 -1.42l1.42 1.42l-1.42 1.42zM106.41 102.47l1.42 -1.42l1.42 1.42l-1.42 1.42zM109.97 101.39l1.42 -1.42l1.42 1.42l-1.42 1.42zM103.16 106.78l1.42 -1.42l1.42 1.42l-1.42 1.42zM104.92 102.96l1.42 -1.42l1.42 1.42l-1.42 1.42zM106.65 102.08l1.42 -1.42l1.42 1.42l-1.42 1.42zM102.64 103.86l1.42 -1.42l1.42 1.42l-1.42 1.42zM103.61 104.91l1.42 -1.42l1.42 1.42l-1.42 1.42zM108.58 102.18l1.42 -1.42l1.42 1.42l-1.42 1.42zM107.33 101.17l1.42 -1.42l1.42 1.42l-1.42 1.42zM109.37 100.13l1.42 -1.42l1.42 1.42l-1.42 1.42zM108.24 102.69l1.42 -1.42l1.42 1.42l-1.42 1.42zM112.43 99.02l1.42 -1.42l1.42 1.42l-1.42 1.42zM115.10 93.62l1.42 -1.42l1.42 1.42l-1.42 1.42zM112.75 95.45l1.42 -1.42l1.42 1.42l-1.42 1.42zM115.91 94.21l1.42 -1.42l1.42 1.42l-1.42 1.42zM113.10 95.70l1.42 -1.42l1.42 1.42l-1.42 1.42zM116.89 94.20l1.42 -1.42l1.42 1.42l-1.42 1.42zM115.45 96.54l1.42 -1.42l1.42 1.42l-1.42 1.42zM115.87 93.97l1.42 -1.42l1.42 1.42l-1.42 1.42zM114.44 94.66l1.42 -1.42l1.42 1.42l-1.42 1.42zM116.17 94.14l1.42 -1.42l1.42 1.42l-1.42 1.42zM113.58 92.87l1.42 -1.42l1.42 1.42l-1.42 1.42zM114.49 94.88l1.42 -1.42l1.42 1.42l-1.42 1.42zM110.61 97.00l1.42 -1.42l1.42 1.42l-1.42 1.42zM114.41 98.66l1.42 -1.42l1.42 1.42l-1.42 1.42zM115.57 94.08l1.42 -1.42l1.42 1.42l-1.42 1.42zM116.32 92.84l1.42 -1.42l1.42 1.42l-1.42 1.42zM113.95 91.55l1.42 -1.42l1.42 1.42l-1.42 1.42zM116.88 91.49l1.42 -1.42l1.42 1.42l-1.42 1.42zM112.99 97.43l1.42 -1.42l1.42 1.42l-1.42 1.42zM110.83 99.62l1.42 -1.42l1.42 1.42l-1.42 1.42zM114.90 92.14l1.42 -1.42l1.42 1.42l-1.42 1.42zM113.64 97.19l1.42 -1.42l1.42 1.42l-1.42 1.42zM113.43 98.04l1.42 -1.42l1.42 1.42l-1.42 1.42zM116.70 93.11l1.42 -1.42l1.42 1.42l-1.42 1.42zM111.19 98.02l1.42 -1.42l1.42 1.42l-1.42 1.42zM114.89 95.73l1.42 -1.42l1.42 1.42l-1.42 1.42zM113.32 93.66l1.42 -1.42l1.42 1.42l-1.42 1.42zM114.20 95.34l1.42 -1.42l1.42 1.42l-1.42 1.42zM113.98 97.03l1.42 -1.42l1.42 1.42l-1.42 1.42zM114.08 96.84l1.42 -1.42l1.42 1.42l-1.42 1.42zM116.78 92.06l1.42 -1.42l1.42 1.42l-1.42 1.42zM111.45 94.59l1.42 -1.42l1.42 1.42l-1.42 1.42zM110.22 98.90l1.42 -1.42l1.42 1.42l-1.42 1.42zM110.65 97.10l1.42 -1.42l1.42 1.42l-1.42 1.42zM113.67 96.20l1.42 -1.42l1.42 1.42l-1.42 1.42zM117.64 90.10l1.42 -1.42l1.42 1.42l-1.42 1.42zM110.47 100.50l1.42 -1.42l1.42 1.42l-1.42 1.42zM117.77 90.62l1.42 -1.42l1.42 1.42l-1.42 1.42zM114.26 95.68l1.42 -1.42l1.42 1.42l-1.42 1.42zM111.05 97.31l1.42 -1.42l1.42 1.42l-1.42 1.42zM111.73 99.48l1.42 -1.42l1.42 1.42l-1.42 1.42zM115.64 94.12l1.42 -1.42l1.42 1.42l-1.42 1.42zM114.30 94.48l1.42 -1.42l1.42 1.42l-1.42 1.42zM112.35 95.04l1.42 -1.42l1.42 1.42l-1.42 1.42zM116.81 93.75l1.42 -1.42l1.42 1.42l-1.42 1.42zM113.49 96.26l1.42 -1.42l1.42 1.42l-1.42 1.42zM113.26 94.51l1.42 -1.42l1.42 1.42l-1.42 1.42zM117.61 90.64l1.42 -1.42l1.42 1.42l-1.42 1.42zM110.74 99.12l1.42 -1.42l1.42 1.42l-1.42 1.42zM111.35 98.43l1.42 -1.42l1.42 1.42l-1.42 1.42zM120.63 87.92l1.42 -1.42l1.42 1.42l-1.42 1.42zM121.76 88.88l1.42 -1.42l1.42 1.42l-1.42 1.42zM118.39 92.27l1.42 -1.42l1.42 1.42l-1.42 1.42zM118.25 91.51l1.42 -1.42l1.42 1.42l-1.42 1.42zM119.53 91.51l1.42 -1.42l1.42 1.42l-1.42 1.42zM123.54 86.01l1.42 -1.42l1.42 1.42l-1.42 1.42zM122.54 87.75l1.42 -1.42l1.42 1.42l-1.42 1.42zM118.07 91.38l1.42 -1.42l1.42 1.42l-1.42 1.42zM118.19 92.49l1.42 -1.42l1.42 1.42l-1.42 1.42zM121.33 86.57l1.42 -1.42l1.42 1.42l-1.42 1.42zM124.59 86.96l1.42 -1.42l1.42 1.42l-1.42 1.42zM124.90 83.87l1.42 -1.42l1.42 1.42l-1.42 1.42zM124.68 83.31l1.42 -1.42l1.42 1.42l-1.42 1.42zM125.01 85.50l1.42 -1.42l1.42 1.42l-1.42 1.42zM120.66 90.10l1.42 -1.42l1.42 1.42l-1.42 1.42zM119.02 88.26l1.42 -1.42l1.42 1.42l-1.42 1.42zM122.28 86.33l1.42 -1.42l1.42 1.42l-1.42 1.42zM122.96 85.49l1.42 -1.42l1.42 1.42l-1.42 1.42zM124.08 87.08l1.42 -1.42l1.42 1.42l-1.42 1.42zM124.90 85.08l1.42 -1.42l1.42 1.42l-1.42 1.42zM121.30 88.29l1.42 -1.42l1.42 1.42l-1.42 1.42zM118.75 91.49l1.42 -1.42l1.42 1.42l-1.42 1.42zM124.80 83.74l1.42 -1.42l1.42 1.42l-1.42 1.42zM124.55 84.03l1.42 -1.42l1.42 1.42l-1.42 1.42zM125.30 83.36l1.42 -1.42l1.42 1.42l-1.42 1.42zM122.42 87.90l1.42 -1.42l1.42 1.42l-1.42 1.42zM123.03 87.10l1.42 -1.42l1.42 1.42l-1.42 1.42zM120.72 89.68l1.42 -1.42l1.42 1.42l-1.42 1.42zM119.25 91.84l1.42 -1.42l1.42 1.42l-1.42 1.42zM120.09 87.57l1.42 -1.42l1.42 1.42l-1.42 1.42zM123.40 85.56l1.42 -1.42l1.42 1.42l-1.42 1.42zM120.35 89.44l1.42 -1.42l1.42 1.42l-1.42 1.42zM121.71 87.20l1.42 -1.42l1.42 1.42l-1.42 1.42zM121.30 89.71l1.42 -1.42l1.42 1.42l-1.42 1.42zM125.30 85.84l1.42 -1.42l1.42 1.42l-1.42 1.42zM119.12 91.97l1.42 -1.42l1.42 1.42l-1.42 1.42zM121.60 88.09l1.42 -1.42l1.42 1.42l-1.42 1.42zM119.07 90.16l1.42 -1.42l1.42 1.42l-1.42 1.42zM125.07 86.04l1.42 -1.42l1.42 1.42l-1.42 1.42zM121.61 87.51l1.42 -1.42l1.42 1.42l-1.42 1.42zM120.40 89.66l1.42 -1.42l1.42 1.42l-1.42 1.42zM119.14 92.31l1.42 -1.42l1.42 1.42l-1.42 1.42zM120.92 87.84l1.42 -1.42l1.42 1.42l-1.42 1.42zM118.82 90.69l1.42 -1.42l1.42 1.42l-1.42 1.42zM118.09 92.30l1.42 -1.42l1.42 1.42l-1.42 1.42zM120.86 89.41l1.42 -1.42l1.42 1.42l-1.42 1.42zM129.55 80.98l1.42 -1.42l1.42 1.42l-1.42 1.42zM132.49 75.91l1.42 -1.42l1.42 1.42l-1.42 1.42zM132.77 77.43l1.42 -1.42l1.42 1.42l-1.42 1.42zM131.72 77.31l1.42 -1.42l1.42 1.42l-1.42 1.42zM129.59 78.99l1.42 -1.42l1.42 1.42l-1.42 1.42zM128.62 80.22l1.42 -1.42l1.42 1.42l-1.42 1.42zM128.63 81.05l1.42 -1.42l1.42 1.42l-1.42 1.42zM125.87 82.66l1.42 -1.42l1.42 1.42l-1.42 1.42zM131.71 78.53l1.42 -1.42l1.42 1.42l-1.42 1.42zM127.45 84.39l1.42 -1.42l1.42 1.42l-1.42 1.42zM125.78 83.82l1.42 -1.42l1.42 1.42l-1.42 1.42zM129.15 82.19l1.42 -1.42l1.42 1.42l-1.42 1.42zM131.09 79.19l1.42 -1.42l1.42 1.42l-1.42 1.42zM128.36 81.22l1.42 -1.42l1.42 1.42l-1.42 1.42zM130.63 78.27l1.42 -1.42l1.42 1.42l-1.42 1.42zM126.81 83.93l1.42 -1.42l1.42 1.42l-1.42 1.42zM130.12 81.26l1.42 -1.42l1.42 1.42l-1.42 1.42zM132.23 75.72l1.42 -1.42l1.42 1.42l-1.42 1.42zM128.76 82.02l1.42 -1.42l1.42 1.42l-1.42 1.42zM131.61 80.00l1.42 -1.42l1.42 1.42l-1.42 1.42zM125.69 83.11l1.42 -1.42l1.42 1.42l-1.42 1.42zM125.76 85.23l1.42 -1.42l1.42 1.42l-1.42 1.42zM130.17 77.81l1.42 -1.42l1.42 1.42l-1.42 1.42zM127.30 82.84l1.42 -1.42l1.42 1.42l-1.42 1.42zM134.25 76.30l1.42 -1.42l1.42 1.42l-1.42 1.42zM136.23 74.48l1.42 -1.42l1.42 1.42l-1.42 1.42zM135.71 75.93l1.42 -1.42l1.42 1.42l-1.42 1.42zM161.91 48.32l1.42 -1.42l1.42 1.42l-1.42 1.42zM142.34 62.16l1.42 -1.42l1.42 1.42l-1.42 1.42zM107.73 111.58l1.42 -1.42l1.42 1.42l-1.42 1.42zM103.52 111.44l1.42 -1.42l1.42 1.42l-1.42 1.42zM82.38 131.17l1.42 -1.42l1.42 1.42l-1.42 1.42zM88.32 124.31l1.42 -1.42l1.42 1.42l-1.42 1.42zM92.96 120.16l1.42 -1.42l1.42 1.42l-1.42 1.42zM84.91 127.52l1.42 -1.42l1.42 1.42l-1.42 1.42zM80.96 131.19l1.42 -1.42l1.42 1.42l-1.42 1.42zM53.41 154.69l1.42 -1.42l1.42 1.42l-1.42 1.42zM64.02 144.61l1.42 -1.42l1.42 1.42l-1.42 1.42zM72.03 136.76l1.42 -1.42l1.42 1.42l-1.42 1.42zM75.21 131.37l1.42 -1.42l1.42 1.42l-1.42 1.42zM86.57 116.35l1.42 -1.42l1.42 1.42l-1.42 1.42zM92.09 111.88l1.42 -1.42l1.42 1.42l-1.42 1.42zM96.21 108.48l1.42 -1.42l1.42 1.42l-1.42 1.42zM101.43 101.25l1.42 -1.42l1.42 1.42l-1.42 1.42zM106.08 100.13l1.42 -1.42l1.42 1.42l-1.42 1.42zM110.88 95.12l1.42 -1.42l1.42 1.42l-1.42 1.42zM125.45 88.32l1.42 -1.42l1.42 1.42l-1.42 1.42zM131.68 82.08l1.42 -1.42l1.42 1.42l-1.42 1.42zM152.89 59.65l1.42 -1.42l1.42 1.42l-1.42 1.42zM145.01 68.00l1.42 -1.42l1.42 1.42l-1.42 1.42zM147.47 65.10l1.42 -1.42l1.42 1.42l-1.42 1.42zM149.60 62.45l1.42 -1.42l1.42 1.42l-1.42 1.42zM140.17 72.89l1.42 -1.42l1.42 1.42l-1.42 1.42zM131.43 82.55l1.42 -1.42l1.42 1.42l-1.42 1.42zM133.66 79.36l1.42 -1.42l1.42 1.42l-1.42 1.42zM138.30 73.64l1.42 -1.42l1.42 1.42l-1.42 1.42zM155.12 56.15l1.42 -1.42l1.42 1.42l-1.42 1.42zM131.70 75.42l1.42 -1.42l1.42 1.42l-1.42 1.42zM137.39 70.75l1.42 -1.42l1.42 1.42l-1.42 1.42zM144.08 65.00l1.42 -1.42l1.42 1.42l-1.42 1.42zM142.88 65.38l1.42 -1.42l1.42 1.42l-1.42 1.42zM150.35 59.42l1.42 -1.42l1.42 1.42l-1.42 1.42zM149.33 59.78l1.42 -1.42l1.42 1.42l-1.42 1.42zM152.08 57.37l1.42 -1.42l1.42 1.42l-1.42 1.42zM155.14 55.24l1.42 -1.42l1.42 1.42l-1.42 1.42zM155.68 54.09l1.42 -1.42l1.42 1.42l-1.42 1.42zM161.84 48.43l1.42 -1.42l1.42 1.42l-1.42 1.42zM141.30 68.28l1.42 -1.42l1.42 1.42l-1.42 1.42zM76.10 132.01l1.42 -1.42l1.42 1.42l-1.42 1.42zM73.95 134.09l1.42 -1.42l1.42 1.42l-1.42 1.42zM81.73 123.31l1.42 -1.42l1.42 1.42l-1.42 1.42zM80.26 129.80l1.42 -1.42l1.42 1.42l-1.42 1.42zM87.47 121.55l1.42 -1.42l1.42 1.42l-1.42 1.42zM93.20 115.39l1.42 -1.42l1.42 1.42l-1.42 1.42zM88.46 122.70l1.42 -1.42l1.42 1.42l-1.42 1.42zM88.98 119.81l1.42 -1.42l1.42 1.42l-1.42 1.42zM90.35 114.74l1.42 -1.42l1.42 1.42l-1.42 1.42zM96.59 110.59l1.42 -1.42l1.42 1.42l-1.42 1.42zM98.12 111.78l1.42 -1.42l1.42 1.42l-1.42 1.42zM95.96 112.27l1.42 -1.42l1.42 1.42l-1.42 1.42zM95.17 114.65l1.42 -1.42l1.42 1.42l-1.42 1.42zM95.94 113.42l1.42 -1.42l1.42 1.42l-1.42 1.42zM105.46 104.28l1.42 -1.42l1.42 1.42l-1.42 1.42zM105.62 106.57l1.42 -1.42l1.42 1.42l-1.42 1.42zM104.40 102.30l1.42 -1.42l1.42 1.42l-1.42 1.42zM108.46 98.00l1.42 -1.42l1.42 1.42l-1.42 1.42zM111.31 97.52l1.42 -1.42l1.42 1.42l-1.42 1.42zM116.41 94.13l1.42 -1.42l1.42 1.42l-1.42 1.42zM116.92 93.61l1.42 -1.42l1.42 1.42l-1.42 1.42zM110.96 100.93l1.42 -1.42l1.42 1.42l-1.42 1.42zM111.16 96.18l1.42 -1.42l1.42 1.42l-1.42 1.42zM113.36 95.51l1.42 -1.42l1.42 1.42l-1.42 1.42zM112.10 99.06l1.42 -1.42l1.42 1.42l-1.42 1.42zM116.04 92.91l1.42 -1.42l1.42 1.42l-1.42 1.42zM115.82 92.08l1.42 -1.42l1.42 1.42l-1.42 1.42zM120.82 88.38l1.42 -1.42l1.42 1.42l-1.42 1.42zM120.66 88.71l1.42 -1.42l1.42 1.42l-1.42 1.42zM120.98 90.39l1.42 -1.42l1.42 1.42l-1.42 1.42zM123.59 87.50l1.42 -1.42l1.42 1.42l-1.42 1.42zM118.51 90.33l1.42 -1.42l1.42 1.42l-1.42 1.42zM123.17 84.74l1.42 -1.42l1.42 1.42l-1.42 1.42zM122.42 86.75l1.42 -1.42l1.42 1.42l-1.42 1.42zM122.34 87.53l1.42 -1.42l1.42 1.42l-1.42 1.42zM132.58 76.58l1.42 -1.42l1.42 1.42l-1.42 1.42zM129.24 79.17l1.42 -1.42l1.42 1.42l-1.42 1.42zM128.91 79.72l1.42 -1.42l1.42 1.42l-1.42 1.42zM125.64 82.71l1.42 -1.42l1.42 1.42l-1.42 1.42zM129.64 80.92l1.42 -1.42l1.42 1.42l-1.42 1.42zM133.78 74.67l1.42 -1.42l1.42 1.42l-1.42 1.42zM136.15 72.40l1.42 -1.42l1.42 1.42l-1.42 1.42zM135.86 71.90l1.42 -1.42l1.42 1.42l-1.42 1.42zM137.61 72.94l1.42 -1.42l1.42 1.42l-1.42 1.42zM140.11 71.96l1.42 -1.42l1.42 1.42l-1.42 1.42zM136.08 73.54l1.42 -1.42l1.42 1.42l-1.42 1.42zM134.68 76.21l1.42 -1.42l1.42 1.42l-1.42 1.42zM137.72 72.59l1.42 -1.42l1.42 1.42l-1.42 1.42zM133.28 76.46l1.42 -1.42l1.42 1.42l-1.42 1.42zM136.25 72.81l1.42 -1.42l1.42 1.42l-1.42 1.42zM141.37 69.40l1.42 -1.42l1.42 1.42l-1.42 1.42zM160.67 50.58l1.42 -1.42l1.42 1.42l-1.42 1.42z" fill="#000"/>
<path d="M51.12 310.04l1.42 -1.42l1.42 1.42l-1.42 1.42zM53.01 311.06l1.42 -1.42l1.42 1.42l-1.42 1.42zM54.00 290.11l1.42 -1.42l1.42 1.42l-1.42 1.42zM64.75 297.41l1.42 -1.42l1.42 1.42l-1.42 1.42zM72.92 309.39l1.42 -1.42l1.42 1.42l-1.42 1.42zM76.40 299.50l1.42 -1.42l1.42 1.42l-1.42 1.42zM78.02 308.17l1.42 -1.42l1.42 1.42l-1.42 1.42zM203.65 214.01l1.42 -1.42l1.42 1.42l-1.42 1.42zM189.88 215.92l1.42 -1.42l1.42 1.42l-1.42 1.42zM178.77 236.28l1.42 -1.42l1.42 1.42l-1.42 1.42zM172.05 243.64l1.42 -1.42l1.42 1.42l-1.42 1.42zM165.39 247.36l1.42 -1.42l1.42 1.42l-1.42 1.42zM158.28 247.71l1.42 -1.42l1.42 1.42l-1.42 1.42zM159.51 257.01l1.42 -1.42l1.42 1.42l-1.42 1.42zM103.81 307.25l1.42 -1.42l1.42 1.42l-1.42 1.42zM101.24 308.29l1.42 -1.42l1.42 1.42l-1.42 1.42zM101.60 306.76l1.42 -1.42l1.42 1.42l-1.42 1.42zM109.47 300.14l1.42 -1.42l1.42 1.42l-1.42 1.42zM118.63 293.20l1.42 -1.42l1.42 1.42l-1.42 1.42zM121.24 290.89l1.42 -1.42l1.42 1.42l-1.42 1.42zM128.37 286.75l1.42 -1.42l1.42 1.42l-1.42 1.42zM132.55 282.62l1.42 -1.42l1.42 1.42l-1.42 1.42zM137.21 279.21l1.42 -1.42l1.42 1.42l-1.42 1.42zM140.93 275.80l1.42 -1.42l1.42 1.42l-1.42 1.42zM145.54 274.30l1.42 -1.42l1.42 1.42l-1.42 1.42zM155.88 263.53l1.42 -1.42l1.42 1.42l-1.42 1.42zM146.36 263.99l1.42 -1.42l1.42 1.42l-1.42 1.42zM146.92 264.28l1.42 -1.42l1.42 1.42l-1.42 1.42zM141.31 268.05l1.42 -1.42l1.42 1.42l-1.42 1.42zM138.44 270.06l1.42 -1.42l1.42 1.42l-1.42 1.42zM140.86 269.12l1.42 -1.42l1.42 1.42l-1.42 1.42zM138.42 270.76l1.42 -1.42l1.42 1.42l-1.42 1.42zM136.75 271.37l1.42 -1.42l1.42 1.42l-1.42 1.42zM136.39 272.19l1.42 -1.42l1.42 1.42l-1.42 1.42zM129.35 274.89l1.42 -1.42l1.42 1.42l-1.42 1.42zM130.01 275.68l1.42 -1.42l1.42 1.42l-1.42 1.42zM134.41 273.92l1.42 -1.42l1.42 1.42l-1.42 1.42zM150.02 264.32l1.42 -1.42l1.42 1.42l-1.42 1.42zM151.77 263.25l1.42 -1.42l1.42 1.42l-1.42 1.42zM127.17 277.88l1.42 -1.42l1.42 1.42l-1.42 1.42zM128.83 277.08l1.42 -1.42l1.42 1.42l-1.42 1.42zM134.09 274.76l1.42 -1.42l1.42 1.42l-1.42 1.42zM137.63 272.82l1.42 -1.42l1.42 1.42l-1.42 1.42zM144.78 268.66l1.42 -1.42l1.42 1.42l-1.42 1.42zM147.09 267.16l1.42 -1.42l1.42 1.42l-1.42 1.42zM141.86 270.89l1.42 -1.42l1.42 1.42l-1.42 1.42zM127.44 278.40l1.42 -1.42l1.42 1.42l-1.42 1.42zM133.50 276.05l1.42 -1.42l1.42 1.42l-1.42 1.42zM135.39 274.85l1.42 -1.42l1.42 1.42l-1.42 1.42zM121.25 281.42l1.42 -1.42l1.42 1.42l-1.42 1.42zM119.22 282.63l1.42 -1.42l1.42 1.42l-1.42 1.42zM125.69 280.78l1.42 -1.42l1.42 1.42l-1.42 1.42zM129.76 279.05l1.42 -1.42l1.42 1.42l-1.42 1.42zM134.59 276.20l1.42 -1.42l1.42 1.42l-1.42 1.42zM142.66 271.40l1.42 -1.42l1.42 1.42l-1.42 1.42zM145.79 269.34l1.42 -1.42l1.42 1.42l-1.42 1.42zM147.46 268.07l1.42 -1.42l1.42 1.42l-1.42 1.42zM140.83 273.06l1.42 -1.42l1.42 1.42l-1.42 1.42zM147.78 269.32l1.42 -1.42l1.42 1.42l-1.42 1.42zM144.77 271.09l1.42 -1.42l1.42 1.42l-1.42 1.42zM140.49 273.31l1.42 -1.42l1.42 1.42l-1.42 1.42zM144.68 270.03l1.42 -1.42l1.42 1.42l-1.42 1.42zM145.91 267.97l1.42 -1.42l1.42 1.42l-1.42 1.42zM133.55 275.93l1.42 -1.42l1.42 1.42l-1.42 1.42zM134.66 275.20l1.42 -1.42l1.42 1.42l-1.42 1.42zM144.13 270.63l1.42 -1.42l1.42 1.42l-1.42 1.42zM124.12 272.31l1.42 -1.42l1.42 1.42l-1.42 1.42zM159.09 256.78l1.42 -1.42l1.42 1.42l-1.42 1.42zM155.78 259.85l1.42 -1.42l1.42 1.42l-1.42 1.42zM81.18 296.78l1.42 -1.42l1.42 1.42l-1.42 1.42zM81.84 297.63l1.42 -1.42l1.42 1.42l-1.42 1.42zM80.67 304.59l1.42 -1.42l1.42 1.42l-1.42 1.42zM87.10 299.52l1.42 -1.42l1.42 1.42l-1.42 1.42zM84.16 301.03l1.42 -1.42l1.42 1.42l-1.42 1.42zM86.31 305.26l1.42 -1.42l1.42 1.42l-1.42 1.42zM82.02 297.05l1.42 -1.42l1.42 1.42l-1.42 1.42zM93.08 298.32l1.42 -1.42l1.42 1.42l-1.42 1.42zM95.43 299.58l1.42 -1.42l1.42 1.42l-1.42 1.42zM88.58 294.45l1.42 -1.42l1.42 1.42l-1.42 1.42zM89.10 296.73l1.42 -1.42l1.42 1.42l-1.42 1.42zM88.51 296.48l1.42 -1.42l1.42 1.42l-1.42 1.42zM90.68 294.98l1.42 -1.42l1.42 1.42l-1.42 1.42zM94.10 296.05l1.42 -1.42l1.42 1.42l-1.42 1.42zM92.26 303.04l1.42 -1.42l1.42 1.42l-1.42 1.42zM95.09 299.37l1.42 -1.42l1.42 1.42l-1.42 1.42zM90.08 295.75l1.42 -1.42l1.42 1.42l-1.42 1.42zM90.85 301.74l1.42 -1.42l1.42 1.42l-1.42 1.42zM96.08 297.77l1.42 -1.42l1.42 1.42l-1.42 1.42zM95.79 296.71l1.42 -1.42l1.42 1.42l-1.42 1.42zM91.05 294.11l1.42 -1.42l1.42 1.42l-1.42 1.42zM90.84 294.63l1.42 -1.42l1.42 1.42l-1.42 1.42zM94.25 295.44l1.42 -1.42l1.42 1.42l-1.42 1.42zM88.68 300.19l1.42 -1.42l1.42 1.42l-1.42 1.42zM88.90 296.22l1.42 -1.42l1.42 1.42l-1.42 1.42zM91.55 297.16l1.42 -1.42l1.42 1.42l-1.42 1.42zM102.92 296.27l1.42 -1.42l1.42 1.42l-1.42 1.42zM102.10 292.40l1.42 -1.42l1.42 1.42l-1.42 1.42zM100.56 295.21l1.42 -1.42l1.42 1.42l-1.42 1.42zM101.47 298.42l1.42 -1.42l1.42 1.42l-1.42 1.42zM101.71 292.74l1.42 -1.42l1.42 1.42l-1.42 1.42zM102.41 296.70l1.42 -1.42l1.42 1.42l-1.42 1.42zM103.57 294.04l1.42 -1.42l1.42 1.42l-1.42 1.42zM97.43 302.15l1.42 -1.42l1.42 1.42l-1.42 1.42zM101.19 296.47l1.42 -1.42l1.42 1.42l-1.42 1.42zM97.38 300.41l1.42 -1.42l1.42 1.42l-1.42 1.42zM102.45 298.64l1.42 -1.42l1.42 1.42l-1.42 1.42zM103.31 300.79l1.42 -1.42l1.42 1.42l-1.42 1.42zM102.24 290.23l1.42 -1.42l1.42 1.42l-1.42 1.42zM96.53 298.24l1.42 -1.42l1.42 1.42l-1.42 1.42zM99.09 296.36l1.42 -1.42l1.42 1.42l-1.42 1.42zM104.13 292.53l1.42 -1.42l1.42 1.42l-1.42 1.42zM97.39 297.92l1.42 -1.42l1.42 1.42l-1.42 1.42zM98.18 295.79l1.42 -1.42l1.42 1.42l-1.42 1.42zM99.07 301.05l1.42 -1.42l1.42 1.42l-1.42 1.42zM103.12 295.25l1.42 -1.42l1.42 1.42l-1.42 1.42zM101.27 297.55l1.42 -1.42l1.42 1.42l-1.42 1.42zM100.18 295.31l1.42 -1.42l1.42 1.42l-1.42 1.42zM96.87 297.13l1.42 -1.42l1.42 1.42l-1.42 1.42zM101.07 300.34l1.42 -1.42l1.42 1.42l-1.42 1.42zM98.08 302.89l1.42 -1.42l1.42 1.42l-1.42 1.42zM96.56 300.91l1.42 -1.42l1.42 1.42l-1.42 1.42zM97.16 295.37l1.42 -1.42l1.42 1.42l-1.42 1.42zM100.63 295.40l1.42 -1.42l1.42 1.42l-1.42 1.42zM101.28 295.27l1.42 -1.42l1.42 1.42l-1.42 1.42zM98.81 303.09l1.42 -1.42l1.42 1.42l-1.42 1.42zM101.33 303.87l1.42 -1.42l1.42 1.42l-1.42 1.42zM99.03 298.92l1.42 -1.42l1.42 1.42l-1.42 1.42zM105.17 295.91l1.42 -1.42l1.42 1.42l-1.42 1.42zM106.62 296.04l1.42 -1.42l1.42 1.42l-1.42 1.42zM111.34 291.64l1.42 -1.42l1.42 1.42l-1.42 1.42zM105.05 295.54l1.42 -1.42l1.42 1.42l-1.42 1.42zM104.82 298.26l1.42 -1.42l1.42 1.42l-1.42 1.42zM108.57 295.92l1.42 -1.42l1.42 1.42l-1.42 1.42zM111.74 291.98l1.42 -1.42l1.42 1.42l-1.42 1.42zM111.29 292.35l1.42 -1.42l1.42 1.42l-1.42 1.42zM109.66 293.44l1.42 -1.42l1.42 1.42l-1.42 1.42zM104.66 289.36l1.42 -1.42l1.42 1.42l-1.42 1.42zM110.50 293.53l1.42 -1.42l1.42 1.42l-1.42 1.42zM109.53 293.02l1.42 -1.42l1.42 1.42l-1.42 1.42zM105.27 297.59l1.42 -1.42l1.42 1.42l-1.42 1.42zM107.80 294.94l1.42 -1.42l1.42 1.42l-1.42 1.42zM104.53 293.94l1.42 -1.42l1.42 1.42l-1.42 1.42zM110.46 291.51l1.42 -1.42l1.42 1.42l-1.42 1.42zM109.81 293.59l1.42 -1.42l1.42 1.42l-1.42 1.42zM110.48 291.93l1.42 -1.42l1.42 1.42l-1.42 1.42zM110.13 292.92l1.42 -1.42l1.42 1.42l-1.42 1.42zM106.25 299.47l1.42 -1.42l1.42 1.42l-1.42 1.42zM110.37 301.01l1.42 -1.42l1.42 1.42l-1.42 1.42zM106.10 288.80l1.42 -1.42l1.42 1.42l-1.42 1.42zM105.23 292.90l1.42 -1.42l1.42 1.42l-1.42 1.42zM107.22 294.42l1.42 -1.42l1.42 1.42l-1.42 1.42zM108.06 298.31l1.42 -1.42l1.42 1.42l-1.42 1.42zM106.39 297.86l1.42 -1.42l1.42 1.42l-1.42 1.42zM108.92 290.20l1.42 -1.42l1.42 1.42l-1.42 1.42zM108.89 300.55l1.42 -1.42l1.42 1.42l-1.42 1.42zM106.03 295.58l1.42 -1.42l1.42 1.42l-1.42 1.42zM109.05 291.36l1.42 -1.42l1.42 1.42l-1.42 1.42zM106.96 294.02l1.42 -1.42l1.42 1.42l-1.42 1.42zM109.93 291.28l1.42 -1.42l1.42 1.42l-1.42 1.42zM106.43 294.93l1.42 -1.42l1.42 1.42l-1.42 1.42zM110.44 287.04l1.42 -1.42l1.42 1.42l-1.42 1.42zM108.50 296.33l1.42 -1.42l1.42 1.42l-1.42 1.42zM109.45 296.74l1.42 -1.42l1.42 1.42l-1.42 1.42zM108.23 293.18l1.42 -1.42l1.42 1.42l-1.42 1.42zM111.86 288.81l1.42 -1.42l1.42 1.42l-1.42 1.42zM104.90 295.32l1.42 -1.42l1.42 1.42l-1.42 1.42zM106.70 291.81l1.42 -1.42l1.42 1.42l-1.42 1.42zM108.47 295.10l1.42 -1.42l1.42 1.42l-1.42 1.42zM104.36 298.45l1.42 -1.42l1.42 1.42l-1.42 1.42zM105.36 291.39l1.42 -1.42l1.42 1.42l-1.42 1.42zM110.44 289.07l1.42 -1.42l1.42 1.42l-1.42 1.42zM109.16 289.66l1.42 -1.42l1.42 1.42l-1.42 1.42zM111.25 293.63l1.42 -1.42l1.42 1.42l-1.42 1.42zM110.10 295.93l1.42 -1.42l1.42 1.42l-1.42 1.42zM114.38 293.84l1.42 -1.42l1.42 1.42l-1.42 1.42zM117.11 290.18l1.42 -1.42l1.42 1.42l-1.42 1.42zM114.71 289.54l1.42 -1.42l1.42 1.42l-1.42 1.42zM117.94 288.06l1.42 -1.42l1.42 1.42l-1.42 1.42zM115.06 294.10l1.42 -1.42l1.42 1.42l-1.42 1.42zM118.94 288.23l1.42 -1.42l1.42 1.42l-1.42 1.42zM117.47 289.43l1.42 -1.42l1.42 1.42l-1.42 1.42zM117.90 289.04l1.42 -1.42l1.42 1.42l-1.42 1.42zM116.44 290.08l1.42 -1.42l1.42 1.42l-1.42 1.42zM118.20 289.54l1.42 -1.42l1.42 1.42l-1.42 1.42zM115.56 289.09l1.42 -1.42l1.42 1.42l-1.42 1.42zM116.49 289.70l1.42 -1.42l1.42 1.42l-1.42 1.42zM112.52 291.43l1.42 -1.42l1.42 1.42l-1.42 1.42zM116.40 291.64l1.42 -1.42l1.42 1.42l-1.42 1.42zM117.59 288.50l1.42 -1.42l1.42 1.42l-1.42 1.42zM118.36 289.26l1.42 -1.42l1.42 1.42l-1.42 1.42zM115.94 295.21l1.42 -1.42l1.42 1.42l-1.42 1.42zM118.93 287.58l1.42 -1.42l1.42 1.42l-1.42 1.42zM114.95 291.41l1.42 -1.42l1.42 1.42l-1.42 1.42zM112.74 289.64l1.42 -1.42l1.42 1.42l-1.42 1.42zM116.91 290.15l1.42 -1.42l1.42 1.42l-1.42 1.42zM115.61 290.67l1.42 -1.42l1.42 1.42l-1.42 1.42zM115.40 290.06l1.42 -1.42l1.42 1.42l-1.42 1.42zM118.74 288.80l1.42 -1.42l1.42 1.42l-1.42 1.42zM113.11 292.76l1.42 -1.42l1.42 1.42l-1.42 1.42zM116.89 293.92l1.42 -1.42l1.42 1.42l-1.42 1.42zM115.29 286.30l1.42 -1.42l1.42 1.42l-1.42 1.42zM116.19 293.82l1.42 -1.42l1.42 1.42l-1.42 1.42zM115.96 291.06l1.42 -1.42l1.42 1.42l-1.42 1.42zM116.06 288.70l1.42 -1.42l1.42 1.42l-1.42 1.42zM118.82 287.87l1.42 -1.42l1.42 1.42l-1.42 1.42zM113.37 290.21l1.42 -1.42l1.42 1.42l-1.42 1.42zM112.11 290.30l1.42 -1.42l1.42 1.42l-1.42 1.42zM112.56 288.91l1.42 -1.42l1.42 1.42l-1.42 1.42zM115.65 289.74l1.42 -1.42l1.42 1.42l-1.42 1.42zM119.71 281.72l1.42 -1.42l1.42 1.42l-1.42 1.42zM112.37 294.49l1.42 -1.42l1.42 1.42l-1.42 1.42zM119.84 287.65l1.42 -1.42l1.42 1.42l-1.42 1.42zM116.25 290.96l1.42 -1.42l1.42 1.42l-1.42 1.42zM112.97 293.07l1.42 -1.42l1.42 1.42l-1.42 1.42zM113.66 290.74l1.42 -1.42l1.42 1.42l-1.42 1.42zM117.66 286.03l1.42 -1.42l1.42 1.42l-1.42 1.42zM116.29 291.74l1.42 -1.42l1.42 1.42l-1.42 1.42zM114.29 292.80l1.42 -1.42l1.42 1.42l-1.42 1.42zM118.86 287.07l1.42 -1.42l1.42 1.42l-1.42 1.42zM115.46 289.25l1.42 -1.42l1.42 1.42l-1.42 1.42zM115.22 286.06l1.42 -1.42l1.42 1.42l-1.42 1.42zM119.68 285.95l1.42 -1.42l1.42 1.42l-1.42 1.42zM112.65 291.36l1.42 -1.42l1.42 1.42l-1.42 1.42zM113.28 292.40l1.42 -1.42l1.42 1.42l-1.42 1.42zM122.77 285.95l1.42 -1.42l1.42 1.42l-1.42 1.42zM123.91 286.11l1.42 -1.42l1.42 1.42l-1.42 1.42zM120.47 290.84l1.42 -1.42l1.42 1.42l-1.42 1.42zM120.33 287.86l1.42 -1.42l1.42 1.42l-1.42 1.42zM121.64 287.50l1.42 -1.42l1.42 1.42l-1.42 1.42zM125.74 285.08l1.42 -1.42l1.42 1.42l-1.42 1.42zM124.72 286.17l1.42 -1.42l1.42 1.42l-1.42 1.42zM120.14 284.21l1.42 -1.42l1.42 1.42l-1.42 1.42zM120.26 286.36l1.42 -1.42l1.42 1.42l-1.42 1.42zM123.47 283.91l1.42 -1.42l1.42 1.42l-1.42 1.42zM126.81 285.21l1.42 -1.42l1.42 1.42l-1.42 1.42zM127.13 285.92l1.42 -1.42l1.42 1.42l-1.42 1.42zM126.91 284.43l1.42 -1.42l1.42 1.42l-1.42 1.42zM127.24 283.05l1.42 -1.42l1.42 1.42l-1.42 1.42zM122.79 287.18l1.42 -1.42l1.42 1.42l-1.42 1.42zM121.12 287.83l1.42 -1.42l1.42 1.42l-1.42 1.42zM124.45 283.26l1.42 -1.42l1.42 1.42l-1.42 1.42zM125.14 284.29l1.42 -1.42l1.42 1.42l-1.42 1.42zM126.29 286.38l1.42 -1.42l1.42 1.42l-1.42 1.42zM127.13 284.60l1.42 -1.42l1.42 1.42l-1.42 1.42zM123.44 287.48l1.42 -1.42l1.42 1.42l-1.42 1.42zM120.84 287.18l1.42 -1.42l1.42 1.42l-1.42 1.42zM127.03 286.30l1.42 -1.42l1.42 1.42l-1.42 1.42zM126.77 284.29l1.42 -1.42l1.42 1.42l-1.42 1.42zM127.54 281.86l1.42 -1.42l1.42 1.42l-1.42 1.42zM124.59 285.23l1.42 -1.42l1.42 1.42l-1.42 1.42zM125.22 286.92l1.42 -1.42l1.42 1.42l-1.42 1.42zM122.85 287.75l1.42 -1.42l1.42 1.42l-1.42 1.42zM121.35 287.00l1.42 -1.42l1.42 1.42l-1.42 1.42zM122.21 285.69l1.42 -1.42l1.42 1.42l-1.42 1.42zM125.59 282.81l1.42 -1.42l1.42 1.42l-1.42 1.42zM122.47 286.93l1.42 -1.42l1.42 1.42l-1.42 1.42zM123.87 288.67l1.42 -1.42l1.42 1.42l-1.42 1.42zM123.45 282.84l1.42 -1.42l1.42 1.42l-1.42 1.42zM127.54 282.73l1.42 -1.42l1.42 1.42l-1.42 1.42zM121.22 286.45l1.42 -1.42l1.42 1.42l-1.42 1.42zM123.75 285.15l1.42 -1.42l1.42 1.42l-1.42 1.42zM121.17 289.70l1.42 -1.42l1.42 1.42l-1.42 1.42zM127.30 284.25l1.42 -1.42l1.42 1.42l-1.42 1.42zM123.76 285.25l1.42 -1.42l1.42 1.42l-1.42 1.42zM122.53 284.28l1.42 -1.42l1.42 1.42l-1.42 1.42zM121.24 287.21l1.42 -1.42l1.42 1.42l-1.42 1.42zM123.06 293.19l1.42 -1.42l1.42 1.42l-1.42 1.42zM120.91 288.07l1.42 -1.42l1.42 1.42l-1.42 1.42zM120.17 287.18l1.42 -1.42l1.42 1.42l-1.42 1.42zM123.00 283.41l1.42 -1.42l1.42 1.42l-1.42 1.42zM131.89 278.83l1.42 -1.42l1.42 1.42l-1.42 1.42zM134.89 272.77l1.42 -1.42l1.42 1.42l-1.42 1.42zM135.18 274.88l1.42 -1.42l1.42 1.42l-1.42 1.42zM134.10 275.84l1.42 -1.42l1.42 1.42l-1.42 1.42zM131.93 278.29l1.42 -1.42l1.42 1.42l-1.42 1.42zM130.93 284.09l1.42 -1.42l1.42 1.42l-1.42 1.42zM130.95 279.19l1.42 -1.42l1.42 1.42l-1.42 1.42zM128.12 281.67l1.42 -1.42l1.42 1.42l-1.42 1.42zM134.10 279.93l1.42 -1.42l1.42 1.42l-1.42 1.42zM129.74 280.60l1.42 -1.42l1.42 1.42l-1.42 1.42zM128.03 282.14l1.42 -1.42l1.42 1.42l-1.42 1.42zM131.47 281.70l1.42 -1.42l1.42 1.42l-1.42 1.42zM133.46 279.52l1.42 -1.42l1.42 1.42l-1.42 1.42zM130.67 281.82l1.42 -1.42l1.42 1.42l-1.42 1.42zM132.99 279.09l1.42 -1.42l1.42 1.42l-1.42 1.42zM129.08 283.28l1.42 -1.42l1.42 1.42l-1.42 1.42zM132.47 278.78l1.42 -1.42l1.42 1.42l-1.42 1.42zM134.62 282.57l1.42 -1.42l1.42 1.42l-1.42 1.42zM131.08 281.58l1.42 -1.42l1.42 1.42l-1.42 1.42zM134.00 282.53l1.42 -1.42l1.42 1.42l-1.42 1.42zM127.94 284.18l1.42 -1.42l1.42 1.42l-1.42 1.42zM128.01 281.93l1.42 -1.42l1.42 1.42l-1.42 1.42zM132.52 279.88l1.42 -1.42l1.42 1.42l-1.42 1.42zM129.58 282.24l1.42 -1.42l1.42 1.42l-1.42 1.42zM136.69 276.70l1.42 -1.42l1.42 1.42l-1.42 1.42zM138.72 271.89l1.42 -1.42l1.42 1.42l-1.42 1.42zM138.18 278.10l1.42 -1.42l1.42 1.42l-1.42 1.42z" fill="#000"/>
<path d="M47.21 517.46l1.42 -1.42l1.42 1.42l-1.42 1.42zM56.23 518.48l1.42 -1.42l1.42 1.42l-1.42 1.42zM52.96 497.50l1.42 -1.42l1.42 1.42l-1.42 1.42zM64.33 504.80l1.42 -1.42l1.42 1.42l-1.42 1.42zM72.34 516.81l1.42 -1.42l1.42 1.42l-1.42 1.42zM78.21 506.90l1.42 -1.42l1.42 1.42l-1.42 1.42zM69.99 515.58l1.42 -1.42l1.42 1.42l-1.42 1.42zM204.50 421.30l1.42 -1.42l1.42 1.42l-1.42 1.42zM191.27 423.21l1.42 -1.42l1.42 1.42l-1.42 1.42zM179.25 443.60l1.42 -1.42l1.42 1.42l-1.42 1.42zM170.62 450.97l1.42 -1.42l1.42 1.42l-1.42 1.42zM163.33 454.69l1.42 -1.42l1.42 1.42l-1.42 1.42zM159.52 455.04l1.42 -1.42l1.42 1.42l-1.42 1.42zM161.00 464.35l1.42 -1.42l1.42 1.42l-1.42 1.42zM103.84 514.66l1.42 -1.42l1.42 1.42l-1.42 1.42zM98.74 515.70l1.42 -1.42l1.42 1.42l-1.42 1.42zM99.36 514.17l1.42 -1.42l1.42 1.42l-1.42 1.42zM110.52 507.54l1.42 -1.42l1.42 1.42l-1.42 1.42zM119.38 500.59l1.42 -1.42l1.42 1.42l-1.42 1.42zM122.34 498.28l1.42 -1.42l1.42 1.42l-1.42 1.42zM127.93 494.14l1.42 -1.42l1.42 1.42l-1.42 1.42zM132.92 490.00l1.42 -1.42l1.42 1.42l-1.42 1.42zM136.77 486.58l1.42 -1.42l1.42 1.42l-1.42 1.42zM142.87 483.17l1.42 -1.42l1.42 1.42l-1.42 1.42zM144.66 481.67l1.42 -1.42l1.42 1.42l-1.42 1.42zM156.27 470.88l1.42 -1.42l1.42 1.42l-1.42 1.42zM146.17 471.34l1.42 -1.42l1.42 1.42l-1.42 1.42zM147.34 471.64l1.42 -1.42l1.42 1.42l-1.42 1.42zM141.95 475.41l1.42 -1.42l1.42 1.42l-1.42 1.42zM138.31 477.42l1.42 -1.42l1.42 1.42l-1.42 1.42zM140.45 476.48l1.42 -1.42l1.42 1.42l-1.42 1.42zM138.93 478.13l1.42 -1.42l1.42 1.42l-1.42 1.42zM137.22 478.73l1.42 -1.42l1.42 1.42l-1.42 1.42zM135.99 479.55l1.42 -1.42l1.42 1.42l-1.42 1.42zM130.75 482.26l1.42 -1.42l1.42 1.42l-1.42 1.42zM132.19 483.05l1.42 -1.42l1.42 1.42l-1.42 1.42zM134.28 481.29l1.42 -1.42l1.42 1.42l-1.42 1.42zM150.83 471.67l1.42 -1.42l1.42 1.42l-1.42 1.42zM153.42 470.60l1.42 -1.42l1.42 1.42l-1.42 1.42zM128.55 485.25l1.42 -1.42l1.42 1.42l-1.42 1.42zM129.73 484.45l1.42 -1.42l1.42 1.42l-1.42 1.42zM135.71 482.13l1.42 -1.42l1.42 1.42l-1.42 1.42zM139.42 480.19l1.42 -1.42l1.42 1.42l-1.42 1.42zM145.07 476.02l1.42 -1.42l1.42 1.42l-1.42 1.42zM146.74 474.52l1.42 -1.42l1.42 1.42l-1.42 1.42zM142.38 478.25l1.42 -1.42l1.42 1.42l-1.42 1.42zM128.73 485.77l1.42 -1.42l1.42 1.42l-1.42 1.42zM133.38 483.42l1.42 -1.42l1.42 1.42l-1.42 1.42zM134.93 482.22l1.42 -1.42l1.42 1.42l-1.42 1.42zM122.00 488.79l1.42 -1.42l1.42 1.42l-1.42 1.42zM118.63 490.01l1.42 -1.42l1.42 1.42l-1.42 1.42zM124.54 488.16l1.42 -1.42l1.42 1.42l-1.42 1.42zM130.32 486.42l1.42 -1.42l1.42 1.42l-1.42 1.42zM135.78 483.57l1.42 -1.42l1.42 1.42l-1.42 1.42zM142.69 478.77l1.42 -1.42l1.42 1.42l-1.42 1.42zM145.92 476.70l1.42 -1.42l1.42 1.42l-1.42 1.42zM146.97 475.43l1.42 -1.42l1.42 1.42l-1.42 1.42zM142.28 480.43l1.42 -1.42l1.42 1.42l-1.42 1.42zM148.59 476.68l1.42 -1.42l1.42 1.42l-1.42 1.42zM145.74 478.45l1.42 -1.42l1.42 1.42l-1.42 1.42zM142.35 480.68l1.42 -1.42l1.42 1.42l-1.42 1.42zM144.90 477.40l1.42 -1.42l1.42 1.42l-1.42 1.42zM145.82 475.33l1.42 -1.42l1.42 1.42l-1.42 1.42zM134.68 483.30l1.42 -1.42l1.42 1.42l-1.42 1.42zM133.46 482.57l1.42 -1.42l1.42 1.42l-1.42 1.42zM143.80 477.99l1.42 -1.42l1.42 1.42l-1.42 1.42zM123.51 479.68l1.42 -1.42l1.42 1.42l-1.42 1.42zM159.19 464.13l1.42 -1.42l1.42 1.42l-1.42 1.42zM155.51 467.20l1.42 -1.42l1.42 1.42l-1.42 1.42zM80.87 504.18l1.42 -1.42l1.42 1.42l-1.42 1.42zM82.58 505.03l1.42 -1.42l1.42 1.42l-1.42 1.42zM79.30 512.00l1.42 -1.42l1.42 1.42l-1.42 1.42zM86.87 506.93l1.42 -1.42l1.42 1.42l-1.42 1.42zM80.74 508.43l1.42 -1.42l1.42 1.42l-1.42 1.42zM84.40 512.67l1.42 -1.42l1.42 1.42l-1.42 1.42zM81.25 504.45l1.42 -1.42l1.42 1.42l-1.42 1.42zM92.02 505.72l1.42 -1.42l1.42 1.42l-1.42 1.42zM92.78 506.98l1.42 -1.42l1.42 1.42l-1.42 1.42zM87.19 501.85l1.42 -1.42l1.42 1.42l-1.42 1.42zM88.28 504.12l1.42 -1.42l1.42 1.42l-1.42 1.42zM88.13 503.88l1.42 -1.42l1.42 1.42l-1.42 1.42zM91.54 502.38l1.42 -1.42l1.42 1.42l-1.42 1.42zM94.70 503.44l1.42 -1.42l1.42 1.42l-1.42 1.42zM92.89 510.45l1.42 -1.42l1.42 1.42l-1.42 1.42zM99.72 506.77l1.42 -1.42l1.42 1.42l-1.42 1.42zM87.85 503.14l1.42 -1.42l1.42 1.42l-1.42 1.42zM89.37 509.15l1.42 -1.42l1.42 1.42l-1.42 1.42zM93.91 505.17l1.42 -1.42l1.42 1.42l-1.42 1.42zM94.68 504.11l1.42 -1.42l1.42 1.42l-1.42 1.42zM89.91 501.50l1.42 -1.42l1.42 1.42l-1.42 1.42zM90.75 502.02l1.42 -1.42l1.42 1.42l-1.42 1.42zM92.91 502.83l1.42 -1.42l1.42 1.42l-1.42 1.42zM85.51 507.59l1.42 -1.42l1.42 1.42l-1.42 1.42zM85.34 503.62l1.42 -1.42l1.42 1.42l-1.42 1.42zM88.56 504.56l1.42 -1.42l1.42 1.42l-1.42 1.42zM106.95 503.67l1.42 -1.42l1.42 1.42l-1.42 1.42zM101.08 499.79l1.42 -1.42l1.42 1.42l-1.42 1.42zM100.43 502.60l1.42 -1.42l1.42 1.42l-1.42 1.42zM99.70 505.82l1.42 -1.42l1.42 1.42l-1.42 1.42zM101.92 500.14l1.42 -1.42l1.42 1.42l-1.42 1.42zM102.03 504.10l1.42 -1.42l1.42 1.42l-1.42 1.42zM106.37 501.44l1.42 -1.42l1.42 1.42l-1.42 1.42zM96.40 509.55l1.42 -1.42l1.42 1.42l-1.42 1.42zM101.95 503.86l1.42 -1.42l1.42 1.42l-1.42 1.42zM96.52 507.81l1.42 -1.42l1.42 1.42l-1.42 1.42zM102.69 506.04l1.42 -1.42l1.42 1.42l-1.42 1.42zM102.80 508.19l1.42 -1.42l1.42 1.42l-1.42 1.42zM102.28 497.62l1.42 -1.42l1.42 1.42l-1.42 1.42zM94.89 505.64l1.42 -1.42l1.42 1.42l-1.42 1.42zM98.03 503.76l1.42 -1.42l1.42 1.42l-1.42 1.42zM105.31 499.92l1.42 -1.42l1.42 1.42l-1.42 1.42zM94.02 505.31l1.42 -1.42l1.42 1.42l-1.42 1.42zM98.17 503.19l1.42 -1.42l1.42 1.42l-1.42 1.42zM97.13 508.45l1.42 -1.42l1.42 1.42l-1.42 1.42zM104.20 502.65l1.42 -1.42l1.42 1.42l-1.42 1.42zM102.59 504.95l1.42 -1.42l1.42 1.42l-1.42 1.42zM99.63 502.70l1.42 -1.42l1.42 1.42l-1.42 1.42zM95.51 504.53l1.42 -1.42l1.42 1.42l-1.42 1.42zM103.31 507.74l1.42 -1.42l1.42 1.42l-1.42 1.42zM98.95 510.30l1.42 -1.42l1.42 1.42l-1.42 1.42zM96.45 508.31l1.42 -1.42l1.42 1.42l-1.42 1.42zM94.04 502.76l1.42 -1.42l1.42 1.42l-1.42 1.42zM104.82 502.79l1.42 -1.42l1.42 1.42l-1.42 1.42zM100.45 502.67l1.42 -1.42l1.42 1.42l-1.42 1.42zM99.62 510.50l1.42 -1.42l1.42 1.42l-1.42 1.42zM100.51 511.28l1.42 -1.42l1.42 1.42l-1.42 1.42zM99.76 506.32l1.42 -1.42l1.42 1.42l-1.42 1.42zM104.63 503.31l1.42 -1.42l1.42 1.42l-1.42 1.42zM103.98 503.43l1.42 -1.42l1.42 1.42l-1.42 1.42zM110.79 499.03l1.42 -1.42l1.42 1.42l-1.42 1.42zM104.50 502.94l1.42 -1.42l1.42 1.42l-1.42 1.42zM106.29 505.66l1.42 -1.42l1.42 1.42l-1.42 1.42zM107.78 503.32l1.42 -1.42l1.42 1.42l-1.42 1.42zM112.29 499.37l1.42 -1.42l1.42 1.42l-1.42 1.42zM112.87 499.74l1.42 -1.42l1.42 1.42l-1.42 1.42zM109.90 500.83l1.42 -1.42l1.42 1.42l-1.42 1.42zM105.19 496.75l1.42 -1.42l1.42 1.42l-1.42 1.42zM109.38 500.93l1.42 -1.42l1.42 1.42l-1.42 1.42zM109.77 500.41l1.42 -1.42l1.42 1.42l-1.42 1.42zM106.35 504.99l1.42 -1.42l1.42 1.42l-1.42 1.42zM105.39 502.34l1.42 -1.42l1.42 1.42l-1.42 1.42zM102.85 501.33l1.42 -1.42l1.42 1.42l-1.42 1.42zM108.46 498.91l1.42 -1.42l1.42 1.42l-1.42 1.42zM108.93 500.98l1.42 -1.42l1.42 1.42l-1.42 1.42zM110.85 499.32l1.42 -1.42l1.42 1.42l-1.42 1.42zM111.04 500.31l1.42 -1.42l1.42 1.42l-1.42 1.42zM106.88 506.87l1.42 -1.42l1.42 1.42l-1.42 1.42zM108.91 508.42l1.42 -1.42l1.42 1.42l-1.42 1.42zM106.04 496.18l1.42 -1.42l1.42 1.42l-1.42 1.42zM108.02 500.30l1.42 -1.42l1.42 1.42l-1.42 1.42zM107.43 501.82l1.42 -1.42l1.42 1.42l-1.42 1.42zM110.71 505.71l1.42 -1.42l1.42 1.42l-1.42 1.42zM106.23 505.26l1.42 -1.42l1.42 1.42l-1.42 1.42zM111.18 497.59l1.42 -1.42l1.42 1.42l-1.42 1.42zM111.26 507.95l1.42 -1.42l1.42 1.42l-1.42 1.42zM105.95 502.97l1.42 -1.42l1.42 1.42l-1.42 1.42zM109.35 498.75l1.42 -1.42l1.42 1.42l-1.42 1.42zM110.04 501.41l1.42 -1.42l1.42 1.42l-1.42 1.42zM108.81 498.67l1.42 -1.42l1.42 1.42l-1.42 1.42zM102.71 502.32l1.42 -1.42l1.42 1.42l-1.42 1.42zM113.17 494.43l1.42 -1.42l1.42 1.42l-1.42 1.42zM109.86 503.73l1.42 -1.42l1.42 1.42l-1.42 1.42zM110.48 504.14l1.42 -1.42l1.42 1.42l-1.42 1.42zM108.70 500.57l1.42 -1.42l1.42 1.42l-1.42 1.42zM109.85 496.20l1.42 -1.42l1.42 1.42l-1.42 1.42zM104.12 502.71l1.42 -1.42l1.42 1.42l-1.42 1.42zM108.18 499.20l1.42 -1.42l1.42 1.42l-1.42 1.42zM109.11 502.50l1.42 -1.42l1.42 1.42l-1.42 1.42zM107.23 505.85l1.42 -1.42l1.42 1.42l-1.42 1.42zM106.11 498.78l1.42 -1.42l1.42 1.42l-1.42 1.42zM109.01 496.45l1.42 -1.42l1.42 1.42l-1.42 1.42zM110.09 497.05l1.42 -1.42l1.42 1.42l-1.42 1.42zM111.19 501.02l1.42 -1.42l1.42 1.42l-1.42 1.42zM108.46 503.32l1.42 -1.42l1.42 1.42l-1.42 1.42zM112.36 501.23l1.42 -1.42l1.42 1.42l-1.42 1.42zM118.11 497.57l1.42 -1.42l1.42 1.42l-1.42 1.42zM116.16 496.93l1.42 -1.42l1.42 1.42l-1.42 1.42zM117.48 495.44l1.42 -1.42l1.42 1.42l-1.42 1.42zM115.89 501.50l1.42 -1.42l1.42 1.42l-1.42 1.42zM117.49 495.61l1.42 -1.42l1.42 1.42l-1.42 1.42zM115.00 496.82l1.42 -1.42l1.42 1.42l-1.42 1.42zM117.73 496.42l1.42 -1.42l1.42 1.42l-1.42 1.42zM117.00 497.47l1.42 -1.42l1.42 1.42l-1.42 1.42zM117.55 496.92l1.42 -1.42l1.42 1.42l-1.42 1.42zM118.90 496.48l1.42 -1.42l1.42 1.42l-1.42 1.42zM116.76 497.09l1.42 -1.42l1.42 1.42l-1.42 1.42zM114.51 498.82l1.42 -1.42l1.42 1.42l-1.42 1.42zM112.75 499.03l1.42 -1.42l1.42 1.42l-1.42 1.42zM117.62 495.89l1.42 -1.42l1.42 1.42l-1.42 1.42zM118.94 496.65l1.42 -1.42l1.42 1.42l-1.42 1.42zM120.30 502.60l1.42 -1.42l1.42 1.42l-1.42 1.42zM120.37 494.96l1.42 -1.42l1.42 1.42l-1.42 1.42zM114.05 498.80l1.42 -1.42l1.42 1.42l-1.42 1.42zM111.73 497.03l1.42 -1.42l1.42 1.42l-1.42 1.42zM119.68 497.54l1.42 -1.42l1.42 1.42l-1.42 1.42zM114.31 498.06l1.42 -1.42l1.42 1.42l-1.42 1.42zM113.41 497.45l1.42 -1.42l1.42 1.42l-1.42 1.42zM118.65 496.19l1.42 -1.42l1.42 1.42l-1.42 1.42zM113.43 500.16l1.42 -1.42l1.42 1.42l-1.42 1.42zM115.86 501.31l1.42 -1.42l1.42 1.42l-1.42 1.42zM118.06 493.68l1.42 -1.42l1.42 1.42l-1.42 1.42zM116.28 501.21l1.42 -1.42l1.42 1.42l-1.42 1.42zM114.48 498.45l1.42 -1.42l1.42 1.42l-1.42 1.42zM114.68 496.09l1.42 -1.42l1.42 1.42l-1.42 1.42zM119.77 495.26l1.42 -1.42l1.42 1.42l-1.42 1.42zM117.08 497.60l1.42 -1.42l1.42 1.42l-1.42 1.42zM112.49 497.69l1.42 -1.42l1.42 1.42l-1.42 1.42zM114.40 496.30l1.42 -1.42l1.42 1.42l-1.42 1.42zM115.37 497.12l1.42 -1.42l1.42 1.42l-1.42 1.42zM121.85 489.10l1.42 -1.42l1.42 1.42l-1.42 1.42zM110.80 501.88l1.42 -1.42l1.42 1.42l-1.42 1.42zM121.29 495.03l1.42 -1.42l1.42 1.42l-1.42 1.42zM115.92 498.35l1.42 -1.42l1.42 1.42l-1.42 1.42zM114.18 500.46l1.42 -1.42l1.42 1.42l-1.42 1.42zM111.88 498.13l1.42 -1.42l1.42 1.42l-1.42 1.42zM117.57 493.42l1.42 -1.42l1.42 1.42l-1.42 1.42zM117.19 499.14l1.42 -1.42l1.42 1.42l-1.42 1.42zM116.60 500.19l1.42 -1.42l1.42 1.42l-1.42 1.42zM117.97 494.46l1.42 -1.42l1.42 1.42l-1.42 1.42zM115.30 496.64l1.42 -1.42l1.42 1.42l-1.42 1.42zM117.16 493.44l1.42 -1.42l1.42 1.42l-1.42 1.42zM121.27 493.33l1.42 -1.42l1.42 1.42l-1.42 1.42zM112.26 498.75l1.42 -1.42l1.42 1.42l-1.42 1.42zM112.99 499.79l1.42 -1.42l1.42 1.42l-1.42 1.42zM124.16 493.33l1.42 -1.42l1.42 1.42l-1.42 1.42zM123.14 493.50l1.42 -1.42l1.42 1.42l-1.42 1.42zM119.54 498.23l1.42 -1.42l1.42 1.42l-1.42 1.42zM120.35 495.24l1.42 -1.42l1.42 1.42l-1.42 1.42zM120.35 494.88l1.42 -1.42l1.42 1.42l-1.42 1.42zM126.19 492.46l1.42 -1.42l1.42 1.42l-1.42 1.42zM124.34 493.55l1.42 -1.42l1.42 1.42l-1.42 1.42zM120.48 491.59l1.42 -1.42l1.42 1.42l-1.42 1.42zM119.31 493.74l1.42 -1.42l1.42 1.42l-1.42 1.42zM125.60 491.29l1.42 -1.42l1.42 1.42l-1.42 1.42zM125.18 492.59l1.42 -1.42l1.42 1.42l-1.42 1.42zM128.47 493.30l1.42 -1.42l1.42 1.42l-1.42 1.42zM129.06 491.81l1.42 -1.42l1.42 1.42l-1.42 1.42zM126.73 490.43l1.42 -1.42l1.42 1.42l-1.42 1.42zM121.85 494.57l1.42 -1.42l1.42 1.42l-1.42 1.42zM123.81 495.22l1.42 -1.42l1.42 1.42l-1.42 1.42zM125.86 490.64l1.42 -1.42l1.42 1.42l-1.42 1.42zM126.75 491.67l1.42 -1.42l1.42 1.42l-1.42 1.42zM125.05 493.77l1.42 -1.42l1.42 1.42l-1.42 1.42zM127.18 491.98l1.42 -1.42l1.42 1.42l-1.42 1.42zM123.77 494.86l1.42 -1.42l1.42 1.42l-1.42 1.42zM120.37 494.56l1.42 -1.42l1.42 1.42l-1.42 1.42zM128.60 493.69l1.42 -1.42l1.42 1.42l-1.42 1.42zM128.30 491.67l1.42 -1.42l1.42 1.42l-1.42 1.42zM129.01 489.23l1.42 -1.42l1.42 1.42l-1.42 1.42zM124.18 492.62l1.42 -1.42l1.42 1.42l-1.42 1.42zM125.04 494.31l1.42 -1.42l1.42 1.42l-1.42 1.42zM122.29 495.13l1.42 -1.42l1.42 1.42l-1.42 1.42zM119.99 494.38l1.42 -1.42l1.42 1.42l-1.42 1.42zM124.54 493.07l1.42 -1.42l1.42 1.42l-1.42 1.42zM126.67 490.19l1.42 -1.42l1.42 1.42l-1.42 1.42zM122.54 494.32l1.42 -1.42l1.42 1.42l-1.42 1.42zM124.93 496.06l1.42 -1.42l1.42 1.42l-1.42 1.42zM122.26 490.22l1.42 -1.42l1.42 1.42l-1.42 1.42zM126.38 490.11l1.42 -1.42l1.42 1.42l-1.42 1.42zM119.86 493.83l1.42 -1.42l1.42 1.42l-1.42 1.42zM123.98 492.53l1.42 -1.42l1.42 1.42l-1.42 1.42zM121.78 497.09l1.42 -1.42l1.42 1.42l-1.42 1.42zM126.16 491.63l1.42 -1.42l1.42 1.42l-1.42 1.42zM124.60 492.63l1.42 -1.42l1.42 1.42l-1.42 1.42zM122.31 491.66l1.42 -1.42l1.42 1.42l-1.42 1.42zM119.49 494.60l1.42 -1.42l1.42 1.42l-1.42 1.42zM124.25 500.58l1.42 -1.42l1.42 1.42l-1.42 1.42zM121.22 495.46l1.42 -1.42l1.42 1.42l-1.42 1.42zM119.51 494.57l1.42 -1.42l1.42 1.42l-1.42 1.42zM122.58 490.79l1.42 -1.42l1.42 1.42l-1.42 1.42zM131.53 486.20l1.42 -1.42l1.42 1.42l-1.42 1.42zM136.93 480.13l1.42 -1.42l1.42 1.42l-1.42 1.42zM135.31 482.25l1.42 -1.42l1.42 1.42l-1.42 1.42zM135.43 483.21l1.42 -1.42l1.42 1.42l-1.42 1.42zM133.65 485.66l1.42 -1.42l1.42 1.42l-1.42 1.42zM132.34 491.47l1.42 -1.42l1.42 1.42l-1.42 1.42zM131.46 486.57l1.42 -1.42l1.42 1.42l-1.42 1.42zM129.76 489.05l1.42 -1.42l1.42 1.42l-1.42 1.42zM134.14 487.31l1.42 -1.42l1.42 1.42l-1.42 1.42zM127.91 487.98l1.42 -1.42l1.42 1.42l-1.42 1.42zM128.52 489.51l1.42 -1.42l1.42 1.42l-1.42 1.42zM130.26 489.07l1.42 -1.42l1.42 1.42l-1.42 1.42zM133.44 486.89l1.42 -1.42l1.42 1.42l-1.42 1.42zM131.28 489.20l1.42 -1.42l1.42 1.42l-1.42 1.42zM134.42 486.46l1.42 -1.42l1.42 1.42l-1.42 1.42zM128.40 490.66l1.42 -1.42l1.42 1.42l-1.42 1.42zM131.24 486.15l1.42 -1.42l1.42 1.42l-1.42 1.42zM137.13 489.95l1.42 -1.42l1.42 1.42l-1.42 1.42zM130.43 488.95l1.42 -1.42l1.42 1.42l-1.42 1.42zM132.58 489.91l1.42 -1.42l1.42 1.42l-1.42 1.42zM129.27 491.56l1.42 -1.42l1.42 1.42l-1.42 1.42zM127.02 489.31l1.42 -1.42l1.42 1.42l-1.42 1.42zM134.90 487.26l1.42 -1.42l1.42 1.42l-1.42 1.42zM129.56 489.62l1.42 -1.42l1.42 1.42l-1.42 1.42zM136.51 484.07l1.42 -1.42l1.42 1.42l-1.42 1.42zM138.44 479.26l1.42 -1.42l1.42 1.42l-1.42 1.42zM136.90 485.47l1.42 -1.42l1.42 1.42l-1.42 1.42z" fill="#000"/>
<path d="M277.32 86.94l1.42 -1.42l1.42 1.42l-1.42 1.42zM282.77 87.07l1.42 -1.42l1.42 1.42l-1.42 1.42zM281.56 86.98l1.42 -1.42l1.42 1.42l-1.42 1.42zM292.69 86.98l1.42 -1.42l1.42 1.42l-1.42 1.42zM300.84 86.96l1.42 -1.42l1.42 1.42l-1.42 1.42zM305.56 87.14l1.42 -1.42l1.42 1.42l-1.42 1.42zM302.70 86.48l1.42 -1.42l1.42 1.42l-1.42 1.42zM433.20 164.28l1.42 -1.42l1.42 1.42l-1.42 1.42zM419.61 154.62l1.42 -1.42l1.42 1.42l-1.42 1.42zM407.96 95.05l1.42 -1.42l1.42 1.42l-1.42 1.42zM400.24 56.41l1.42 -1.42l1.42 1.42l-1.42 1.42zM393.24 58.83l1.42 -1.42l1.42 1.42l-1.42 1.42zM387.71 96.66l1.42 -1.42l1.42 1.42l-1.42 1.42zM389.08 99.88l1.42 -1.42l1.42 1.42l-1.42 1.42zM332.24 86.97l1.42 -1.42l1.42 1.42l-1.42 1.42zM328.44 86.24l1.42 -1.42l1.42 1.42l-1.42 1.42zM328.92 86.29l1.42 -1.42l1.42 1.42l-1.42 1.42zM338.47 87.49l1.42 -1.42l1.42 1.42l-1.42 1.42zM347.54 87.55l1.42 -1.42l1.42 1.42l-1.42 1.42zM350.34 88.01l1.42 -1.42l1.42 1.42l-1.42 1.42zM356.74 86.12l1.42 -1.42l1.42 1.42l-1.42 1.42zM361.36 87.44l1.42 -1.42l1.42 1.42l-1.42 1.42zM365.65 85.50l1.42 -1.42l1.42 1.42l-1.42 1.42zM370.61 93.01l1.42 -1.42l1.42 1.42l-1.42 1.42zM373.82 82.77l1.42 -1.42l1.42 1.42l-1.42 1.42zM384.86 88.69l1.42 -1.42l1.42 1.42l-1.42 1.42zM374.99 85.45l1.42 -1.42l1.42 1.42l-1.42 1.42zM375.85 88.19l1.42 -1.42l1.42 1.42l-1.42 1.42zM370.31 88.61l1.42 -1.42l1.42 1.42l-1.42 1.42zM367.04 86.21l1.42 -1.42l1.42 1.42l-1.42 1.42zM369.33 85.22l1.42 -1.42l1.42 1.42l-1.42 1.42zM367.34 87.99l1.42 -1.42l1.42 1.42l-1.42 1.42zM365.64 87.79l1.42 -1.42l1.42 1.42l-1.42 1.42zM364.84 85.67l1.42 -1.42l1.42 1.42l-1.42 1.42zM358.67 89.13l1.42 -1.42l1.42 1.42l-1.42 1.42zM359.74 90.67l1.42 -1.42l1.42 1.42l-1.42 1.42zM362.98 86.40l1.42 -1.42l1.42 1.42l-1.42 1.42zM379.17 90.52l1.42 -1.42l1.42 1.42l-1.42 1.42zM381.37 96.31l1.42 -1.42l1.42 1.42l-1.42 1.42zM356.46 88.85l1.42 -1.42l1.42 1.42l-1.42 1.42zM357.88 88.22l1.42 -1.42l1.42 1.42l-1.42 1.42zM363.55 90.32l1.42 -1.42l1.42 1.42l-1.42 1.42zM367.21 91.53l1.42 -1.42l1.42 1.42l-1.42 1.42zM373.64 87.52l1.42 -1.42l1.42 1.42l-1.42 1.42zM375.64 84.69l1.42 -1.42l1.42 1.42l-1.42 1.42zM370.81 88.21l1.42 -1.42l1.42 1.42l-1.42 1.42zM356.68 88.73l1.42 -1.42l1.42 1.42l-1.42 1.42zM362.07 86.43l1.42 -1.42l1.42 1.42l-1.42 1.42zM363.80 85.62l1.42 -1.42l1.42 1.42l-1.42 1.42zM350.17 87.64l1.42 -1.42l1.42 1.42l-1.42 1.42zM347.45 86.37l1.42 -1.42l1.42 1.42l-1.42 1.42zM353.70 85.37l1.42 -1.42l1.42 1.42l-1.42 1.42zM358.65 87.70l1.42 -1.42l1.42 1.42l-1.42 1.42zM363.84 89.38l1.42 -1.42l1.42 1.42l-1.42 1.42zM371.37 86.55l1.42 -1.42l1.42 1.42l-1.42 1.42zM374.57 86.87l1.42 -1.42l1.42 1.42l-1.42 1.42zM375.95 83.98l1.42 -1.42l1.42 1.42l-1.42 1.42zM370.25 91.27l1.42 -1.42l1.42 1.42l-1.42 1.42zM376.92 90.14l1.42 -1.42l1.42 1.42l-1.42 1.42zM373.97 90.31l1.42 -1.42l1.42 1.42l-1.42 1.42zM370.12 92.60l1.42 -1.42l1.42 1.42l-1.42 1.42zM373.50 87.24l1.42 -1.42l1.42 1.42l-1.42 1.42zM374.58 85.96l1.42 -1.42l1.42 1.42l-1.42 1.42zM362.75 89.12l1.42 -1.42l1.42 1.42l-1.42 1.42zM362.70 84.12l1.42 -1.42l1.42 1.42l-1.42 1.42zM372.67 85.15l1.42 -1.42l1.42 1.42l-1.42 1.42zM352.38 86.12l1.42 -1.42l1.42 1.42l-1.42 1.42zM387.95 86.25l1.42 -1.42l1.42 1.42l-1.42 1.42zM384.43 83.61l1.42 -1.42l1.42 1.42l-1.42 1.42zM309.29 86.96l1.42 -1.42l1.42 1.42l-1.42 1.42zM310.49 87.07l1.42 -1.42l1.42 1.42l-1.42 1.42zM308.26 86.87l1.42 -1.42l1.42 1.42l-1.42 1.42zM315.29 86.96l1.42 -1.42l1.42 1.42l-1.42 1.42zM310.81 86.63l1.42 -1.42l1.42 1.42l-1.42 1.42zM313.68 86.75l1.42 -1.42l1.42 1.42l-1.42 1.42zM309.91 86.91l1.42 -1.42l1.42 1.42l-1.42 1.42zM320.91 86.78l1.42 -1.42l1.42 1.42l-1.42 1.42zM322.52 86.43l1.42 -1.42l1.42 1.42l-1.42 1.42zM316.21 86.79l1.42 -1.42l1.42 1.42l-1.42 1.42zM317.01 86.86l1.42 -1.42l1.42 1.42l-1.42 1.42zM316.64 86.93l1.42 -1.42l1.42 1.42l-1.42 1.42zM319.45 87.13l1.42 -1.42l1.42 1.42l-1.42 1.42zM322.76 87.11l1.42 -1.42l1.42 1.42l-1.42 1.42zM320.92 87.10l1.42 -1.42l1.42 1.42l-1.42 1.42zM325.94 88.14l1.42 -1.42l1.42 1.42l-1.42 1.42zM317.32 86.64l1.42 -1.42l1.42 1.42l-1.42 1.42zM318.46 86.74l1.42 -1.42l1.42 1.42l-1.42 1.42zM323.39 86.50l1.42 -1.42l1.42 1.42l-1.42 1.42zM323.61 86.73l1.42 -1.42l1.42 1.42l-1.42 1.42zM318.82 86.79l1.42 -1.42l1.42 1.42l-1.42 1.42zM319.13 86.97l1.42 -1.42l1.42 1.42l-1.42 1.42zM321.95 86.71l1.42 -1.42l1.42 1.42l-1.42 1.42zM315.48 86.55l1.42 -1.42l1.42 1.42l-1.42 1.42zM315.52 86.50l1.42 -1.42l1.42 1.42l-1.42 1.42zM318.45 86.49l1.42 -1.42l1.42 1.42l-1.42 1.42zM333.47 88.53l1.42 -1.42l1.42 1.42l-1.42 1.42zM330.01 86.64l1.42 -1.42l1.42 1.42l-1.42 1.42zM328.89 86.93l1.42 -1.42l1.42 1.42l-1.42 1.42zM329.01 86.43l1.42 -1.42l1.42 1.42l-1.42 1.42zM330.23 87.03l1.42 -1.42l1.42 1.42l-1.42 1.42zM330.64 86.84l1.42 -1.42l1.42 1.42l-1.42 1.42zM333.45 88.05l1.42 -1.42l1.42 1.42l-1.42 1.42zM325.30 86.72l1.42 -1.42l1.42 1.42l-1.42 1.42zM329.98 87.21l1.42 -1.42l1.42 1.42l-1.42 1.42zM325.33 86.76l1.42 -1.42l1.42 1.42l-1.42 1.42zM330.98 87.04l1.42 -1.42l1.42 1.42l-1.42 1.42zM331.47 86.78l1.42 -1.42l1.42 1.42l-1.42 1.42zM330.67 86.98l1.42 -1.42l1.42 1.42l-1.42 1.42zM324.10 86.60l1.42 -1.42l1.42 1.42l-1.42 1.42zM326.96 86.69l1.42 -1.42l1.42 1.42l-1.42 1.42zM333.15 87.41l1.42 -1.42l1.42 1.42l-1.42 1.42zM324.16 86.21l1.42 -1.42l1.42 1.42l-1.42 1.42zM326.56 86.97l1.42 -1.42l1.42 1.42l-1.42 1.42zM326.52 86.47l1.42 -1.42l1.42 1.42l-1.42 1.42zM332.08 87.35l1.42 -1.42l1.42 1.42l-1.42 1.42zM330.35 87.40l1.42 -1.42l1.42 1.42l-1.42 1.42zM328.30 86.81l1.42 -1.42l1.42 1.42l-1.42 1.42zM324.58 86.66l1.42 -1.42l1.42 1.42l-1.42 1.42zM330.63 87.71l1.42 -1.42l1.42 1.42l-1.42 1.42zM326.90 87.21l1.42 -1.42l1.42 1.42l-1.42 1.42zM324.87 86.95l1.42 -1.42l1.42 1.42l-1.42 1.42zM324.04 86.27l1.42 -1.42l1.42 1.42l-1.42 1.42zM331.26 88.40l1.42 -1.42l1.42 1.42l-1.42 1.42zM329.27 86.71l1.42 -1.42l1.42 1.42l-1.42 1.42zM327.61 87.20l1.42 -1.42l1.42 1.42l-1.42 1.42zM329.33 86.72l1.42 -1.42l1.42 1.42l-1.42 1.42zM327.79 87.18l1.42 -1.42l1.42 1.42l-1.42 1.42zM333.33 86.75l1.42 -1.42l1.42 1.42l-1.42 1.42zM333.79 85.90l1.42 -1.42l1.42 1.42l-1.42 1.42zM339.54 86.63l1.42 -1.42l1.42 1.42l-1.42 1.42zM333.21 86.74l1.42 -1.42l1.42 1.42l-1.42 1.42zM334.00 87.55l1.42 -1.42l1.42 1.42l-1.42 1.42zM336.63 86.57l1.42 -1.42l1.42 1.42l-1.42 1.42zM340.49 87.25l1.42 -1.42l1.42 1.42l-1.42 1.42zM340.58 87.86l1.42 -1.42l1.42 1.42l-1.42 1.42zM338.24 87.06l1.42 -1.42l1.42 1.42l-1.42 1.42zM333.36 87.16l1.42 -1.42l1.42 1.42l-1.42 1.42zM338.42 86.36l1.42 -1.42l1.42 1.42l-1.42 1.42zM338.11 87.07l1.42 -1.42l1.42 1.42l-1.42 1.42zM334.25 87.40l1.42 -1.42l1.42 1.42l-1.42 1.42zM335.09 85.91l1.42 -1.42l1.42 1.42l-1.42 1.42zM332.13 86.35l1.42 -1.42l1.42 1.42l-1.42 1.42zM337.95 85.92l1.42 -1.42l1.42 1.42l-1.42 1.42zM337.83 86.50l1.42 -1.42l1.42 1.42l-1.42 1.42zM339.14 87.14l1.42 -1.42l1.42 1.42l-1.42 1.42zM339.06 87.43l1.42 -1.42l1.42 1.42l-1.42 1.42zM335.01 87.22l1.42 -1.42l1.42 1.42l-1.42 1.42zM338.12 86.19l1.42 -1.42l1.42 1.42l-1.42 1.42zM334.51 86.92l1.42 -1.42l1.42 1.42l-1.42 1.42zM335.11 88.16l1.42 -1.42l1.42 1.42l-1.42 1.42zM335.77 87.04l1.42 -1.42l1.42 1.42l-1.42 1.42zM337.89 88.28l1.42 -1.42l1.42 1.42l-1.42 1.42zM334.75 86.88l1.42 -1.42l1.42 1.42l-1.42 1.42zM338.55 88.13l1.42 -1.42l1.42 1.42l-1.42 1.42zM338.58 88.19l1.42 -1.42l1.42 1.42l-1.42 1.42zM334.43 86.92l1.42 -1.42l1.42 1.42l-1.42 1.42zM337.66 87.09l1.42 -1.42l1.42 1.42l-1.42 1.42zM337.02 88.43l1.42 -1.42l1.42 1.42l-1.42 1.42zM337.85 86.37l1.42 -1.42l1.42 1.42l-1.42 1.42zM333.11 85.53l1.42 -1.42l1.42 1.42l-1.42 1.42zM340.33 88.52l1.42 -1.42l1.42 1.42l-1.42 1.42zM337.65 87.62l1.42 -1.42l1.42 1.42l-1.42 1.42zM338.43 87.48l1.42 -1.42l1.42 1.42l-1.42 1.42zM336.92 87.17l1.42 -1.42l1.42 1.42l-1.42 1.42zM339.36 85.82l1.42 -1.42l1.42 1.42l-1.42 1.42zM332.94 86.66l1.42 -1.42l1.42 1.42l-1.42 1.42zM335.90 87.62l1.42 -1.42l1.42 1.42l-1.42 1.42zM337.25 87.26l1.42 -1.42l1.42 1.42l-1.42 1.42zM334.29 88.13l1.42 -1.42l1.42 1.42l-1.42 1.42zM334.17 87.26l1.42 -1.42l1.42 1.42l-1.42 1.42zM338.21 86.20l1.42 -1.42l1.42 1.42l-1.42 1.42zM338.09 87.42l1.42 -1.42l1.42 1.42l-1.42 1.42zM339.69 86.90l1.42 -1.42l1.42 1.42l-1.42 1.42zM337.76 86.12l1.42 -1.42l1.42 1.42l-1.42 1.42zM341.89 85.63l1.42 -1.42l1.42 1.42l-1.42 1.42zM346.13 87.71l1.42 -1.42l1.42 1.42l-1.42 1.42zM343.95 87.96l1.42 -1.42l1.42 1.42l-1.42 1.42zM346.23 86.52l1.42 -1.42l1.42 1.42l-1.42 1.42zM343.98 87.51l1.42 -1.42l1.42 1.42l-1.42 1.42zM346.75 85.67l1.42 -1.42l1.42 1.42l-1.42 1.42zM344.79 85.04l1.42 -1.42l1.42 1.42l-1.42 1.42zM346.34 86.76l1.42 -1.42l1.42 1.42l-1.42 1.42zM345.23 87.34l1.42 -1.42l1.42 1.42l-1.42 1.42zM346.40 86.36l1.42 -1.42l1.42 1.42l-1.42 1.42zM345.82 89.58l1.42 -1.42l1.42 1.42l-1.42 1.42zM345.14 87.12l1.42 -1.42l1.42 1.42l-1.42 1.42zM342.03 88.21l1.42 -1.42l1.42 1.42l-1.42 1.42zM343.18 84.41l1.42 -1.42l1.42 1.42l-1.42 1.42zM346.12 86.92l1.42 -1.42l1.42 1.42l-1.42 1.42zM347.18 87.39l1.42 -1.42l1.42 1.42l-1.42 1.42zM346.77 90.58l1.42 -1.42l1.42 1.42l-1.42 1.42zM348.19 88.21l1.42 -1.42l1.42 1.42l-1.42 1.42zM343.01 86.30l1.42 -1.42l1.42 1.42l-1.42 1.42zM340.73 86.32l1.42 -1.42l1.42 1.42l-1.42 1.42zM346.87 89.25l1.42 -1.42l1.42 1.42l-1.42 1.42zM343.48 86.00l1.42 -1.42l1.42 1.42l-1.42 1.42zM342.93 85.56l1.42 -1.42l1.42 1.42l-1.42 1.42zM347.22 86.81l1.42 -1.42l1.42 1.42l-1.42 1.42zM341.76 87.12l1.42 -1.42l1.42 1.42l-1.42 1.42zM344.90 86.12l1.42 -1.42l1.42 1.42l-1.42 1.42zM345.24 89.06l1.42 -1.42l1.42 1.42l-1.42 1.42zM344.75 86.98l1.42 -1.42l1.42 1.42l-1.42 1.42zM343.74 85.85l1.42 -1.42l1.42 1.42l-1.42 1.42zM343.89 85.92l1.42 -1.42l1.42 1.42l-1.42 1.42zM347.83 87.73l1.42 -1.42l1.42 1.42l-1.42 1.42zM343.82 89.55l1.42 -1.42l1.42 1.42l-1.42 1.42zM340.79 87.16l1.42 -1.42l1.42 1.42l-1.42 1.42zM341.99 88.11l1.42 -1.42l1.42 1.42l-1.42 1.42zM344.01 86.70l1.42 -1.42l1.42 1.42l-1.42 1.42zM349.35 88.98l1.42 -1.42l1.42 1.42l-1.42 1.42zM340.08 86.02l1.42 -1.42l1.42 1.42l-1.42 1.42zM349.12 88.29l1.42 -1.42l1.42 1.42l-1.42 1.42zM344.59 86.66l1.42 -1.42l1.42 1.42l-1.42 1.42zM342.07 87.70l1.42 -1.42l1.42 1.42l-1.42 1.42zM341.28 85.83l1.42 -1.42l1.42 1.42l-1.42 1.42zM346.13 86.83l1.42 -1.42l1.42 1.42l-1.42 1.42zM345.26 87.60l1.42 -1.42l1.42 1.42l-1.42 1.42zM343.99 88.58l1.42 -1.42l1.42 1.42l-1.42 1.42zM346.95 86.12l1.42 -1.42l1.42 1.42l-1.42 1.42zM343.89 86.79l1.42 -1.42l1.42 1.42l-1.42 1.42zM344.72 88.36l1.42 -1.42l1.42 1.42l-1.42 1.42zM349.03 88.42l1.42 -1.42l1.42 1.42l-1.42 1.42zM340.94 86.69l1.42 -1.42l1.42 1.42l-1.42 1.42zM341.63 86.74l1.42 -1.42l1.42 1.42l-1.42 1.42zM352.04 88.46l1.42 -1.42l1.42 1.42l-1.42 1.42zM352.09 85.95l1.42 -1.42l1.42 1.42l-1.42 1.42zM348.55 86.00l1.42 -1.42l1.42 1.42l-1.42 1.42zM348.88 86.89l1.42 -1.42l1.42 1.42l-1.42 1.42zM349.55 85.58l1.42 -1.42l1.42 1.42l-1.42 1.42zM354.54 87.42l1.42 -1.42l1.42 1.42l-1.42 1.42zM353.10 86.37l1.42 -1.42l1.42 1.42l-1.42 1.42zM348.85 87.20l1.42 -1.42l1.42 1.42l-1.42 1.42zM348.33 85.99l1.42 -1.42l1.42 1.42l-1.42 1.42zM353.13 89.44l1.42 -1.42l1.42 1.42l-1.42 1.42zM354.60 84.64l1.42 -1.42l1.42 1.42l-1.42 1.42zM356.40 88.78l1.42 -1.42l1.42 1.42l-1.42 1.42zM356.60 90.02l1.42 -1.42l1.42 1.42l-1.42 1.42zM355.57 86.09l1.42 -1.42l1.42 1.42l-1.42 1.42zM350.88 85.84l1.42 -1.42l1.42 1.42l-1.42 1.42zM351.06 89.78l1.42 -1.42l1.42 1.42l-1.42 1.42zM353.73 88.62l1.42 -1.42l1.42 1.42l-1.42 1.42zM354.54 88.96l1.42 -1.42l1.42 1.42l-1.42 1.42zM354.26 85.20l1.42 -1.42l1.42 1.42l-1.42 1.42zM355.74 86.87l1.42 -1.42l1.42 1.42l-1.42 1.42zM352.17 87.22l1.42 -1.42l1.42 1.42l-1.42 1.42zM349.14 86.42l1.42 -1.42l1.42 1.42l-1.42 1.42zM356.42 89.13l1.42 -1.42l1.42 1.42l-1.42 1.42zM356.14 89.02l1.42 -1.42l1.42 1.42l-1.42 1.42zM356.88 89.02l1.42 -1.42l1.42 1.42l-1.42 1.42zM352.96 86.33l1.42 -1.42l1.42 1.42l-1.42 1.42zM353.70 86.59l1.42 -1.42l1.42 1.42l-1.42 1.42zM351.13 86.24l1.42 -1.42l1.42 1.42l-1.42 1.42zM349.23 85.54l1.42 -1.42l1.42 1.42l-1.42 1.42zM351.97 89.52l1.42 -1.42l1.42 1.42l-1.42 1.42zM354.71 88.26l1.42 -1.42l1.42 1.42l-1.42 1.42zM351.06 86.93l1.42 -1.42l1.42 1.42l-1.42 1.42zM352.97 88.13l1.42 -1.42l1.42 1.42l-1.42 1.42zM351.42 85.53l1.42 -1.42l1.42 1.42l-1.42 1.42zM355.56 85.16l1.42 -1.42l1.42 1.42l-1.42 1.42zM349.09 85.55l1.42 -1.42l1.42 1.42l-1.42 1.42zM352.43 87.11l1.42 -1.42l1.42 1.42l-1.42 1.42zM350.02 87.50l1.42 -1.42l1.42 1.42l-1.42 1.42zM355.33 85.22l1.42 -1.42l1.42 1.42l-1.42 1.42zM352.75 87.84l1.42 -1.42l1.42 1.42l-1.42 1.42zM350.97 86.62l1.42 -1.42l1.42 1.42l-1.42 1.42zM348.93 85.20l1.42 -1.42l1.42 1.42l-1.42 1.42zM352.22 88.23l1.42 -1.42l1.42 1.42l-1.42 1.42zM349.61 87.17l1.42 -1.42l1.42 1.42l-1.42 1.42zM348.38 86.27l1.42 -1.42l1.42 1.42l-1.42 1.42zM351.34 86.39l1.42 -1.42l1.42 1.42l-1.42 1.42zM360.33 86.07l1.42 -1.42l1.42 1.42l-1.42 1.42zM364.58 91.49l1.42 -1.42l1.42 1.42l-1.42 1.42zM363.89 86.96l1.42 -1.42l1.42 1.42l-1.42 1.42zM363.42 89.64l1.42 -1.42l1.42 1.42l-1.42 1.42zM361.43 90.14l1.42 -1.42l1.42 1.42l-1.42 1.42zM360.26 89.36l1.42 -1.42l1.42 1.42l-1.42 1.42zM359.82 87.68l1.42 -1.42l1.42 1.42l-1.42 1.42zM357.55 89.37l1.42 -1.42l1.42 1.42l-1.42 1.42zM362.75 86.78l1.42 -1.42l1.42 1.42l-1.42 1.42zM357.45 83.91l1.42 -1.42l1.42 1.42l-1.42 1.42zM356.87 87.54l1.42 -1.42l1.42 1.42l-1.42 1.42zM359.49 84.58l1.42 -1.42l1.42 1.42l-1.42 1.42zM362.08 86.66l1.42 -1.42l1.42 1.42l-1.42 1.42zM359.59 87.84l1.42 -1.42l1.42 1.42l-1.42 1.42zM362.34 89.68l1.42 -1.42l1.42 1.42l-1.42 1.42zM357.34 85.72l1.42 -1.42l1.42 1.42l-1.42 1.42zM360.48 84.41l1.42 -1.42l1.42 1.42l-1.42 1.42zM364.56 92.61l1.42 -1.42l1.42 1.42l-1.42 1.42zM359.37 85.61l1.42 -1.42l1.42 1.42l-1.42 1.42zM361.93 83.80l1.42 -1.42l1.42 1.42l-1.42 1.42zM357.21 88.86l1.42 -1.42l1.42 1.42l-1.42 1.42zM356.11 85.35l1.42 -1.42l1.42 1.42l-1.42 1.42zM362.38 91.69l1.42 -1.42l1.42 1.42l-1.42 1.42zM358.17 86.74l1.42 -1.42l1.42 1.42l-1.42 1.42zM365.25 86.17l1.42 -1.42l1.42 1.42l-1.42 1.42zM367.25 85.81l1.42 -1.42l1.42 1.42l-1.42 1.42zM366.22 83.24l1.42 -1.42l1.42 1.42l-1.42 1.42zM394.47 101.49l1.42 -1.42l1.42 1.42l-1.42 1.42zM377.29 118.56l1.42 -1.42l1.42 1.42l-1.42 1.42zM333.55 82.92l1.42 -1.42l1.42 1.42l-1.42 1.42zM330.91 84.92l1.42 -1.42l1.42 1.42l-1.42 1.42zM309.41 86.47l1.42 -1.42l1.42 1.42l-1.42 1.42zM316.05 86.38l1.42 -1.42l1.42 1.42l-1.42 1.42zM320.69 86.13l1.42 -1.42l1.42 1.42l-1.42 1.42zM312.57 86.51l1.42 -1.42l1.42 1.42l-1.42 1.42zM308.57 86.62l1.42 -1.42l1.42 1.42l-1.42 1.42zM281.70 86.98l1.42 -1.42l1.42 1.42l-1.42 1.42zM292.55 86.96l1.42 -1.42l1.42 1.42l-1.42 1.42zM300.88 86.95l1.42 -1.42l1.42 1.42l-1.42 1.42zM305.41 87.12l1.42 -1.42l1.42 1.42l-1.42 1.42zM319.53 88.03l1.42 -1.42l1.42 1.42l-1.42 1.42zM324.69 88.18l1.42 -1.42l1.42 1.42l-1.42 1.42zM328.59 88.30l1.42 -1.42l1.42 1.42l-1.42 1.42zM335.34 89.92l1.42 -1.42l1.42 1.42l-1.42 1.42zM338.08 88.63l1.42 -1.42l1.42 1.42l-1.42 1.42zM343.24 89.48l1.42 -1.42l1.42 1.42l-1.42 1.42zM354.41 81.61l1.42 -1.42l1.42 1.42l-1.42 1.42zM360.95 79.62l1.42 -1.42l1.42 1.42l-1.42 1.42zM383.78 74.50l1.42 -1.42l1.42 1.42l-1.42 1.42zM375.28 75.80l1.42 -1.42l1.42 1.42l-1.42 1.42zM378.08 76.80l1.42 -1.42l1.42 1.42l-1.42 1.42zM380.58 79.00l1.42 -1.42l1.42 1.42l-1.42 1.42zM370.18 77.90l1.42 -1.42l1.42 1.42l-1.42 1.42zM360.58 79.30l1.42 -1.42l1.42 1.42l-1.42 1.42zM363.38 80.40l1.42 -1.42l1.42 1.42l-1.42 1.42zM368.78 82.00l1.42 -1.42l1.42 1.42l-1.42 1.42zM386.78 84.60l1.42 -1.42l1.42 1.42l-1.42 1.42zM364.48 94.60l1.42 -1.42l1.42 1.42l-1.42 1.42zM369.88 94.60l1.42 -1.42l1.42 1.42l-1.42 1.42zM376.38 94.60l1.42 -1.42l1.42 1.42l-1.42 1.42zM375.58 98.00l1.42 -1.42l1.42 1.42l-1.42 1.42zM382.58 94.60l1.42 -1.42l1.42 1.42l-1.42 1.42zM381.88 98.60l1.42 -1.42l1.42 1.42l-1.42 1.42zM384.58 98.60l1.42 -1.42l1.42 1.42l-1.42 1.42zM387.28 92.90l1.42 -1.42l1.42 1.42l-1.42 1.42zM388.18 99.50l1.42 -1.42l1.42 1.42l-1.42 1.42zM394.38 100.90l1.42 -1.42l1.42 1.42l-1.42 1.42zM373.18 90.80l1.42 -1.42l1.42 1.42l-1.42 1.42zM305.51 87.00l1.42 -1.42l1.42 1.42l-1.42 1.42zM303.29 87.00l1.42 -1.42l1.42 1.42l-1.42 1.42zM313.14 87.42l1.42 -1.42l1.42 1.42l-1.42 1.42zM308.86 86.82l1.42 -1.42l1.42 1.42l-1.42 1.42zM316.96 86.92l1.42 -1.42l1.42 1.42l-1.42 1.42zM323.20 87.03l1.42 -1.42l1.42 1.42l-1.42 1.42zM316.91 86.59l1.42 -1.42l1.42 1.42l-1.42 1.42zM318.66 86.96l1.42 -1.42l1.42 1.42l-1.42 1.42zM322.19 87.77l1.42 -1.42l1.42 1.42l-1.42 1.42zM327.54 87.50l1.42 -1.42l1.42 1.42l-1.42 1.42zM327.67 86.71l1.42 -1.42l1.42 1.42l-1.42 1.42zM326.30 87.17l1.42 -1.42l1.42 1.42l-1.42 1.42zM324.62 86.75l1.42 -1.42l1.42 1.42l-1.42 1.42zM325.67 86.86l1.42 -1.42l1.42 1.42l-1.42 1.42zM335.46 86.74l1.42 -1.42l1.42 1.42l-1.42 1.42zM334.39 85.69l1.42 -1.42l1.42 1.42l-1.42 1.42zM336.02 88.18l1.42 -1.42l1.42 1.42l-1.42 1.42zM340.43 88.77l1.42 -1.42l1.42 1.42l-1.42 1.42zM342.09 87.40l1.42 -1.42l1.42 1.42l-1.42 1.42zM346.54 86.15l1.42 -1.42l1.42 1.42l-1.42 1.42zM347.08 86.15l1.42 -1.42l1.42 1.42l-1.42 1.42zM340.14 85.47l1.42 -1.42l1.42 1.42l-1.42 1.42zM342.76 88.46l1.42 -1.42l1.42 1.42l-1.42 1.42zM344.22 87.47l1.42 -1.42l1.42 1.42l-1.42 1.42zM341.69 85.84l1.42 -1.42l1.42 1.42l-1.42 1.42zM346.99 87.57l1.42 -1.42l1.42 1.42l-1.42 1.42zM347.34 88.55l1.42 -1.42l1.42 1.42l-1.42 1.42zM351.87 87.66l1.42 -1.42l1.42 1.42l-1.42 1.42zM351.61 87.45l1.42 -1.42l1.42 1.42l-1.42 1.42zM350.90 85.15l1.42 -1.42l1.42 1.42l-1.42 1.42zM353.79 85.31l1.42 -1.42l1.42 1.42l-1.42 1.42zM349.64 87.88l1.42 -1.42l1.42 1.42l-1.42 1.42zM355.06 89.80l1.42 -1.42l1.42 1.42l-1.42 1.42zM353.58 87.86l1.42 -1.42l1.42 1.42l-1.42 1.42zM353.11 86.92l1.42 -1.42l1.42 1.42l-1.42 1.42zM364.25 89.53l1.42 -1.42l1.42 1.42l-1.42 1.42zM361.16 90.43l1.42 -1.42l1.42 1.42l-1.42 1.42zM360.69 89.86l1.42 -1.42l1.42 1.42l-1.42 1.42zM357.41 89.63l1.42 -1.42l1.42 1.42l-1.42 1.42zM360.41 86.02l1.42 -1.42l1.42 1.42l-1.42 1.42zM365.91 91.83l1.42 -1.42l1.42 1.42l-1.42 1.42zM368.34 92.52l1.42 -1.42l1.42 1.42l-1.42 1.42zM368.49 95.04l1.42 -1.42l1.42 1.42l-1.42 1.42zM368.78 86.39l1.42 -1.42l1.42 1.42l-1.42 1.42zM370.61 81.20l1.42 -1.42l1.42 1.42l-1.42 1.42zM367.68 89.07l1.42 -1.42l1.42 1.42l-1.42 1.42zM365.53 85.30l1.42 -1.42l1.42 1.42l-1.42 1.42zM369.02 87.18l1.42 -1.42l1.42 1.42l-1.42 1.42zM364.67 88.19l1.42 -1.42l1.42 1.42l-1.42 1.42zM368.16 90.91l1.42 -1.42l1.42 1.42l-1.42 1.42zM372.61 85.92l1.42 -1.42l1.42 1.42l-1.42 1.42zM392.62 86.44l1.42 -1.42l1.42 1.42l-1.42 1.42z" fill="#000"/>
<path d="M324.86 300.85l1.42 -1.42l1.42 1.42l-1.42 1.42zM323.89 300.34l1.42 -1.42l1.42 1.42l-1.42 1.42zM345.72 319.84l1.42 -1.42l1.42 1.42l-1.42 1.42zM338.35 309.78l1.42 -1.42l1.42 1.42l-1.42 1.42zM326.98 300.43l1.42 -1.42l1.42 1.42l-1.42 1.42zM336.87 307.08l1.42 -1.42l1.42 1.42l-1.42 1.42zM328.76 300.71l1.42 -1.42l1.42 1.42l-1.42 1.42zM390.73 339.70l1.42 -1.42l1.42 1.42l-1.42 1.42zM336.07 296.37l1.42 -1.42l1.42 1.42l-1.42 1.42zM334.39 296.66l1.42 -1.42l1.42 1.42l-1.42 1.42zM335.55 297.41l1.42 -1.42l1.42 1.42l-1.42 1.42zM342.92 299.06l1.42 -1.42l1.42 1.42l-1.42 1.42zM351.04 300.65l1.42 -1.42l1.42 1.42l-1.42 1.42zM353.57 301.62l1.42 -1.42l1.42 1.42l-1.42 1.42zM359.15 300.16l1.42 -1.42l1.42 1.42l-1.42 1.42zM363.47 302.51l1.42 -1.42l1.42 1.42l-1.42 1.42zM367.58 302.09l1.42 -1.42l1.42 1.42l-1.42 1.42zM371.27 303.79l1.42 -1.42l1.42 1.42l-1.42 1.42zM374.33 293.24l1.42 -1.42l1.42 1.42l-1.42 1.42zM385.29 301.59l1.42 -1.42l1.42 1.42l-1.42 1.42zM380.98 353.40l1.42 -1.42l1.42 1.42l-1.42 1.42zM380.98 348.50l1.42 -1.42l1.42 1.42l-1.42 1.42zM376.38 342.60l1.42 -1.42l1.42 1.42l-1.42 1.42zM373.98 338.90l1.42 -1.42l1.42 1.42l-1.42 1.42zM375.48 337.30l1.42 -1.42l1.42 1.42l-1.42 1.42zM373.48 335.00l1.42 -1.42l1.42 1.42l-1.42 1.42zM372.48 336.10l1.42 -1.42l1.42 1.42l-1.42 1.42zM371.78 332.80l1.42 -1.42l1.42 1.42l-1.42 1.42zM367.58 334.40l1.42 -1.42l1.42 1.42l-1.42 1.42zM367.18 330.00l1.42 -1.42l1.42 1.42l-1.42 1.42zM369.88 329.10l1.42 -1.42l1.42 1.42l-1.42 1.42zM382.18 332.80l1.42 -1.42l1.42 1.42l-1.42 1.42zM383.58 331.90l1.42 -1.42l1.42 1.42l-1.42 1.42zM364.68 326.10l1.42 -1.42l1.42 1.42l-1.42 1.42zM365.78 326.50l1.42 -1.42l1.42 1.42l-1.42 1.42zM369.18 326.10l1.42 -1.42l1.42 1.42l-1.42 1.42zM371.78 326.50l1.42 -1.42l1.42 1.42l-1.42 1.42zM377.28 326.10l1.42 -1.42l1.42 1.42l-1.42 1.42zM379.18 326.10l1.42 -1.42l1.42 1.42l-1.42 1.42zM374.68 323.80l1.42 -1.42l1.42 1.42l-1.42 1.42zM364.38 323.90l1.42 -1.42l1.42 1.42l-1.42 1.42zM368.08 322.00l1.42 -1.42l1.42 1.42l-1.42 1.42zM369.58 322.80l1.42 -1.42l1.42 1.42l-1.42 1.42zM360.28 322.00l1.42 -1.42l1.42 1.42l-1.42 1.42zM358.78 320.60l1.42 -1.42l1.42 1.42l-1.42 1.42zM362.08 318.70l1.42 -1.42l1.42 1.42l-1.42 1.42zM364.68 318.10l1.42 -1.42l1.42 1.42l-1.42 1.42zM368.38 319.10l1.42 -1.42l1.42 1.42l-1.42 1.42zM374.68 318.30l1.42 -1.42l1.42 1.42l-1.42 1.42zM377.28 317.80l1.42 -1.42l1.42 1.42l-1.42 1.42zM378.78 318.30l1.42 -1.42l1.42 1.42l-1.42 1.42zM372.88 316.10l1.42 -1.42l1.42 1.42l-1.42 1.42zM378.18 309.00l1.42 -1.42l1.42 1.42l-1.42 1.42zM375.78 312.10l1.42 -1.42l1.42 1.42l-1.42 1.42zM372.58 316.00l1.42 -1.42l1.42 1.42l-1.42 1.42zM376.38 318.30l1.42 -1.42l1.42 1.42l-1.42 1.42zM378.18 325.90l1.42 -1.42l1.42 1.42l-1.42 1.42zM368.18 322.40l1.42 -1.42l1.42 1.42l-1.42 1.42zM369.08 323.00l1.42 -1.42l1.42 1.42l-1.42 1.42zM375.78 317.10l1.42 -1.42l1.42 1.42l-1.42 1.42zM368.38 353.60l1.42 -1.42l1.42 1.42l-1.42 1.42zM390.68 346.50l1.42 -1.42l1.42 1.42l-1.42 1.42zM387.38 337.80l1.42 -1.42l1.42 1.42l-1.42 1.42zM339.93 309.43l1.42 -1.42l1.42 1.42l-1.42 1.42zM339.16 308.45l1.42 -1.42l1.42 1.42l-1.42 1.42zM332.43 302.66l1.42 -1.42l1.42 1.42l-1.42 1.42zM337.97 305.96l1.42 -1.42l1.42 1.42l-1.42 1.42zM336.19 305.00l1.42 -1.42l1.42 1.42l-1.42 1.42zM332.67 301.58l1.42 -1.42l1.42 1.42l-1.42 1.42zM339.74 309.05l1.42 -1.42l1.42 1.42l-1.42 1.42zM339.98 306.14l1.42 -1.42l1.42 1.42l-1.42 1.42zM339.33 304.44l1.42 -1.42l1.42 1.42l-1.42 1.42zM342.90 311.28l1.42 -1.42l1.42 1.42l-1.42 1.42zM340.83 308.51l1.42 -1.42l1.42 1.42l-1.42 1.42zM340.98 308.87l1.42 -1.42l1.42 1.42l-1.42 1.42zM342.65 310.28l1.42 -1.42l1.42 1.42l-1.42 1.42zM342.17 308.37l1.42 -1.42l1.42 1.42l-1.42 1.42zM335.74 302.20l1.42 -1.42l1.42 1.42l-1.42 1.42zM339.44 304.71l1.42 -1.42l1.42 1.42l-1.42 1.42zM341.86 309.46l1.42 -1.42l1.42 1.42l-1.42 1.42zM336.58 303.46l1.42 -1.42l1.42 1.42l-1.42 1.42zM341.01 306.06l1.42 -1.42l1.42 1.42l-1.42 1.42zM341.87 307.26l1.42 -1.42l1.42 1.42l-1.42 1.42zM343.51 311.32l1.42 -1.42l1.42 1.42l-1.42 1.42zM343.01 310.70l1.42 -1.42l1.42 1.42l-1.42 1.42zM342.74 309.06l1.42 -1.42l1.42 1.42l-1.42 1.42zM337.59 305.13l1.42 -1.42l1.42 1.42l-1.42 1.42zM341.27 309.10l1.42 -1.42l1.42 1.42l-1.42 1.42zM340.77 307.63l1.42 -1.42l1.42 1.42l-1.42 1.42zM343.76 305.73l1.42 -1.42l1.42 1.42l-1.42 1.42zM346.81 310.98l1.42 -1.42l1.42 1.42l-1.42 1.42zM344.10 307.74l1.42 -1.42l1.42 1.42l-1.42 1.42zM341.67 303.93l1.42 -1.42l1.42 1.42l-1.42 1.42zM346.43 310.61l1.42 -1.42l1.42 1.42l-1.42 1.42zM343.29 305.42l1.42 -1.42l1.42 1.42l-1.42 1.42zM345.73 308.21l1.42 -1.42l1.42 1.42l-1.42 1.42zM337.67 301.77l1.42 -1.42l1.42 1.42l-1.42 1.42zM343.19 306.08l1.42 -1.42l1.42 1.42l-1.42 1.42zM339.06 303.22l1.42 -1.42l1.42 1.42l-1.42 1.42zM341.76 303.39l1.42 -1.42l1.42 1.42l-1.42 1.42zM340.36 301.12l1.42 -1.42l1.42 1.42l-1.42 1.42zM348.72 314.28l1.42 -1.42l1.42 1.42l-1.42 1.42zM340.70 305.48l1.42 -1.42l1.42 1.42l-1.42 1.42zM342.81 306.81l1.42 -1.42l1.42 1.42l-1.42 1.42zM347.11 310.07l1.42 -1.42l1.42 1.42l-1.42 1.42zM341.15 305.59l1.42 -1.42l1.42 1.42l-1.42 1.42zM343.12 307.72l1.42 -1.42l1.42 1.42l-1.42 1.42zM338.97 302.23l1.42 -1.42l1.42 1.42l-1.42 1.42zM344.63 306.85l1.42 -1.42l1.42 1.42l-1.42 1.42zM342.32 304.88l1.42 -1.42l1.42 1.42l-1.42 1.42zM343.94 307.74l1.42 -1.42l1.42 1.42l-1.42 1.42zM341.71 306.54l1.42 -1.42l1.42 1.42l-1.42 1.42zM340.06 302.26l1.42 -1.42l1.42 1.42l-1.42 1.42zM337.25 301.02l1.42 -1.42l1.42 1.42l-1.42 1.42zM338.47 303.00l1.42 -1.42l1.42 1.42l-1.42 1.42zM343.30 308.48l1.42 -1.42l1.42 1.42l-1.42 1.42zM343.95 307.49l1.42 -1.42l1.42 1.42l-1.42 1.42zM344.20 307.45l1.42 -1.42l1.42 1.42l-1.42 1.42zM337.30 300.68l1.42 -1.42l1.42 1.42l-1.42 1.42zM337.48 299.38l1.42 -1.42l1.42 1.42l-1.42 1.42zM340.67 304.17l1.42 -1.42l1.42 1.42l-1.42 1.42zM344.62 305.31l1.42 -1.42l1.42 1.42l-1.42 1.42zM344.93 304.57l1.42 -1.42l1.42 1.42l-1.42 1.42zM349.63 308.05l1.42 -1.42l1.42 1.42l-1.42 1.42zM344.88 305.79l1.42 -1.42l1.42 1.42l-1.42 1.42zM342.71 302.91l1.42 -1.42l1.42 1.42l-1.42 1.42zM345.59 303.82l1.42 -1.42l1.42 1.42l-1.42 1.42zM349.49 307.32l1.42 -1.42l1.42 1.42l-1.42 1.42zM349.08 307.02l1.42 -1.42l1.42 1.42l-1.42 1.42zM347.78 306.38l1.42 -1.42l1.42 1.42l-1.42 1.42zM349.92 314.88l1.42 -1.42l1.42 1.42l-1.42 1.42zM347.95 305.81l1.42 -1.42l1.42 1.42l-1.42 1.42zM348.06 307.03l1.42 -1.42l1.42 1.42l-1.42 1.42zM343.35 303.42l1.42 -1.42l1.42 1.42l-1.42 1.42zM346.10 305.35l1.42 -1.42l1.42 1.42l-1.42 1.42zM346.04 308.00l1.42 -1.42l1.42 1.42l-1.42 1.42zM349.48 308.72l1.42 -1.42l1.42 1.42l-1.42 1.42zM347.71 306.11l1.42 -1.42l1.42 1.42l-1.42 1.42zM349.17 308.09l1.42 -1.42l1.42 1.42l-1.42 1.42zM348.31 306.85l1.42 -1.42l1.42 1.42l-1.42 1.42zM342.26 301.16l1.42 -1.42l1.42 1.42l-1.42 1.42zM342.71 297.83l1.42 -1.42l1.42 1.42l-1.42 1.42zM350.68 315.30l1.42 -1.42l1.42 1.42l-1.42 1.42zM347.05 309.13l1.42 -1.42l1.42 1.42l-1.42 1.42zM346.33 306.26l1.42 -1.42l1.42 1.42l-1.42 1.42zM343.69 301.48l1.42 -1.42l1.42 1.42l-1.42 1.42zM343.48 302.68l1.42 -1.42l1.42 1.42l-1.42 1.42zM350.13 311.61l1.42 -1.42l1.42 1.42l-1.42 1.42zM342.43 298.99l1.42 -1.42l1.42 1.42l-1.42 1.42zM345.11 305.36l1.42 -1.42l1.42 1.42l-1.42 1.42zM349.23 309.69l1.42 -1.42l1.42 1.42l-1.42 1.42zM346.58 306.90l1.42 -1.42l1.42 1.42l-1.42 1.42zM349.52 309.36l1.42 -1.42l1.42 1.42l-1.42 1.42zM345.73 305.97l1.42 -1.42l1.42 1.42l-1.42 1.42zM353.08 316.59l1.42 -1.42l1.42 1.42l-1.42 1.42zM345.26 303.38l1.42 -1.42l1.42 1.42l-1.42 1.42zM345.27 302.46l1.42 -1.42l1.42 1.42l-1.42 1.42zM347.58 307.44l1.42 -1.42l1.42 1.42l-1.42 1.42zM351.97 312.42l1.42 -1.42l1.42 1.42l-1.42 1.42zM345.02 306.12l1.42 -1.42l1.42 1.42l-1.42 1.42zM348.29 310.09l1.42 -1.42l1.42 1.42l-1.42 1.42zM346.17 304.84l1.42 -1.42l1.42 1.42l-1.42 1.42zM342.44 302.90l1.42 -1.42l1.42 1.42l-1.42 1.42zM348.33 311.29l1.42 -1.42l1.42 1.42l-1.42 1.42zM351.42 312.76l1.42 -1.42l1.42 1.42l-1.42 1.42zM350.62 312.39l1.42 -1.42l1.42 1.42l-1.42 1.42zM348.11 305.27l1.42 -1.42l1.42 1.42l-1.42 1.42zM346.07 303.04l1.42 -1.42l1.42 1.42l-1.42 1.42zM349.00 303.06l1.42 -1.42l1.42 1.42l-1.42 1.42zM352.51 306.47l1.42 -1.42l1.42 1.42l-1.42 1.42zM352.21 309.34l1.42 -1.42l1.42 1.42l-1.42 1.42zM354.30 309.55l1.42 -1.42l1.42 1.42l-1.42 1.42zM349.07 302.24l1.42 -1.42l1.42 1.42l-1.42 1.42zM354.51 308.38l1.42 -1.42l1.42 1.42l-1.42 1.42zM353.16 307.45l1.42 -1.42l1.42 1.42l-1.42 1.42zM353.59 307.80l1.42 -1.42l1.42 1.42l-1.42 1.42zM352.36 307.17l1.42 -1.42l1.42 1.42l-1.42 1.42zM353.34 306.67l1.42 -1.42l1.42 1.42l-1.42 1.42zM352.80 309.51l1.42 -1.42l1.42 1.42l-1.42 1.42zM352.64 307.76l1.42 -1.42l1.42 1.42l-1.42 1.42zM350.13 307.68l1.42 -1.42l1.42 1.42l-1.42 1.42zM351.24 304.71l1.42 -1.42l1.42 1.42l-1.42 1.42zM353.87 309.01l1.42 -1.42l1.42 1.42l-1.42 1.42zM353.58 307.01l1.42 -1.42l1.42 1.42l-1.42 1.42zM348.67 300.22l1.42 -1.42l1.42 1.42l-1.42 1.42zM354.97 309.62l1.42 -1.42l1.42 1.42l-1.42 1.42zM350.91 306.12l1.42 -1.42l1.42 1.42l-1.42 1.42zM351.56 310.44l1.42 -1.42l1.42 1.42l-1.42 1.42zM352.46 306.69l1.42 -1.42l1.42 1.42l-1.42 1.42zM351.66 306.81l1.42 -1.42l1.42 1.42l-1.42 1.42zM352.03 307.96l1.42 -1.42l1.42 1.42l-1.42 1.42zM354.04 307.49l1.42 -1.42l1.42 1.42l-1.42 1.42zM349.33 305.35l1.42 -1.42l1.42 1.42l-1.42 1.42zM349.88 301.13l1.42 -1.42l1.42 1.42l-1.42 1.42zM354.86 315.10l1.42 -1.42l1.42 1.42l-1.42 1.42zM349.68 301.79l1.42 -1.42l1.42 1.42l-1.42 1.42zM351.49 305.93l1.42 -1.42l1.42 1.42l-1.42 1.42zM353.25 309.85l1.42 -1.42l1.42 1.42l-1.42 1.42zM354.73 309.15l1.42 -1.42l1.42 1.42l-1.42 1.42zM351.31 309.09l1.42 -1.42l1.42 1.42l-1.42 1.42zM350.88 309.71l1.42 -1.42l1.42 1.42l-1.42 1.42zM352.08 311.82l1.42 -1.42l1.42 1.42l-1.42 1.42zM352.35 308.33l1.42 -1.42l1.42 1.42l-1.42 1.42zM359.63 322.63l1.42 -1.42l1.42 1.42l-1.42 1.42zM347.85 303.50l1.42 -1.42l1.42 1.42l-1.42 1.42zM355.23 308.66l1.42 -1.42l1.42 1.42l-1.42 1.42zM351.67 305.88l1.42 -1.42l1.42 1.42l-1.42 1.42zM349.07 305.02l1.42 -1.42l1.42 1.42l-1.42 1.42zM350.99 308.04l1.42 -1.42l1.42 1.42l-1.42 1.42zM355.72 313.85l1.42 -1.42l1.42 1.42l-1.42 1.42zM351.13 304.64l1.42 -1.42l1.42 1.42l-1.42 1.42zM349.70 304.53l1.42 -1.42l1.42 1.42l-1.42 1.42zM355.32 310.68l1.42 -1.42l1.42 1.42l-1.42 1.42zM352.65 309.30l1.42 -1.42l1.42 1.42l-1.42 1.42zM355.03 315.66l1.42 -1.42l1.42 1.42l-1.42 1.42zM356.40 312.28l1.42 -1.42l1.42 1.42l-1.42 1.42zM350.23 307.71l1.42 -1.42l1.42 1.42l-1.42 1.42zM349.65 305.77l1.42 -1.42l1.42 1.42l-1.42 1.42zM357.43 309.15l1.42 -1.42l1.42 1.42l-1.42 1.42zM357.74 307.49l1.42 -1.42l1.42 1.42l-1.42 1.42zM353.29 302.45l1.42 -1.42l1.42 1.42l-1.42 1.42zM355.25 307.79l1.42 -1.42l1.42 1.42l-1.42 1.42zM355.96 307.18l1.42 -1.42l1.42 1.42l-1.42 1.42zM359.11 307.49l1.42 -1.42l1.42 1.42l-1.42 1.42zM358.00 306.40l1.42 -1.42l1.42 1.42l-1.42 1.42zM357.83 315.79l1.42 -1.42l1.42 1.42l-1.42 1.42zM356.29 310.86l1.42 -1.42l1.42 1.42l-1.42 1.42zM359.10 313.01l1.42 -1.42l1.42 1.42l-1.42 1.42zM359.45 305.74l1.42 -1.42l1.42 1.42l-1.42 1.42zM359.13 303.74l1.42 -1.42l1.42 1.42l-1.42 1.42zM359.99 307.41l1.42 -1.42l1.42 1.42l-1.42 1.42zM361.04 310.34l1.42 -1.42l1.42 1.42l-1.42 1.42zM356.60 306.57l1.42 -1.42l1.42 1.42l-1.42 1.42zM355.54 307.06l1.42 -1.42l1.42 1.42l-1.42 1.42zM359.89 313.50l1.42 -1.42l1.42 1.42l-1.42 1.42zM359.42 310.10l1.42 -1.42l1.42 1.42l-1.42 1.42zM358.49 303.91l1.42 -1.42l1.42 1.42l-1.42 1.42zM359.97 306.69l1.42 -1.42l1.42 1.42l-1.42 1.42zM356.65 305.26l1.42 -1.42l1.42 1.42l-1.42 1.42zM355.90 308.63l1.42 -1.42l1.42 1.42l-1.42 1.42zM358.85 303.06l1.42 -1.42l1.42 1.42l-1.42 1.42zM360.04 307.93l1.42 -1.42l1.42 1.42l-1.42 1.42zM361.95 313.08l1.42 -1.42l1.42 1.42l-1.42 1.42zM358.58 308.60l1.42 -1.42l1.42 1.42l-1.42 1.42zM357.71 304.21l1.42 -1.42l1.42 1.42l-1.42 1.42zM356.25 305.40l1.42 -1.42l1.42 1.42l-1.42 1.42zM356.20 308.46l1.42 -1.42l1.42 1.42l-1.42 1.42zM357.42 310.32l1.42 -1.42l1.42 1.42l-1.42 1.42zM360.61 313.21l1.42 -1.42l1.42 1.42l-1.42 1.42zM356.65 307.43l1.42 -1.42l1.42 1.42l-1.42 1.42zM356.05 302.51l1.42 -1.42l1.42 1.42l-1.42 1.42zM359.86 315.74l1.42 -1.42l1.42 1.42l-1.42 1.42zM361.36 310.74l1.42 -1.42l1.42 1.42l-1.42 1.42zM356.54 309.73l1.42 -1.42l1.42 1.42l-1.42 1.42zM358.34 309.80l1.42 -1.42l1.42 1.42l-1.42 1.42zM354.31 303.64l1.42 -1.42l1.42 1.42l-1.42 1.42zM360.27 307.28l1.42 -1.42l1.42 1.42l-1.42 1.42zM358.27 309.57l1.42 -1.42l1.42 1.42l-1.42 1.42zM358.53 313.20l1.42 -1.42l1.42 1.42l-1.42 1.42zM356.02 308.16l1.42 -1.42l1.42 1.42l-1.42 1.42zM352.97 296.29l1.42 -1.42l1.42 1.42l-1.42 1.42zM355.30 306.81l1.42 -1.42l1.42 1.42l-1.42 1.42zM355.67 309.27l1.42 -1.42l1.42 1.42l-1.42 1.42zM359.30 314.80l1.42 -1.42l1.42 1.42l-1.42 1.42zM365.61 315.09l1.42 -1.42l1.42 1.42l-1.42 1.42zM370.86 333.42l1.42 -1.42l1.42 1.42l-1.42 1.42zM369.49 323.17l1.42 -1.42l1.42 1.42l-1.42 1.42zM368.44 321.59l1.42 -1.42l1.42 1.42l-1.42 1.42zM365.98 316.83l1.42 -1.42l1.42 1.42l-1.42 1.42zM361.88 301.83l1.42 -1.42l1.42 1.42l-1.42 1.42zM365.01 315.60l1.42 -1.42l1.42 1.42l-1.42 1.42zM362.29 312.73l1.42 -1.42l1.42 1.42l-1.42 1.42zM365.78 307.09l1.42 -1.42l1.42 1.42l-1.42 1.42zM363.61 313.27l1.42 -1.42l1.42 1.42l-1.42 1.42zM361.94 311.59l1.42 -1.42l1.42 1.42l-1.42 1.42zM363.58 307.08l1.42 -1.42l1.42 1.42l-1.42 1.42zM365.77 309.73l1.42 -1.42l1.42 1.42l-1.42 1.42zM363.17 308.17l1.42 -1.42l1.42 1.42l-1.42 1.42zM365.86 312.08l1.42 -1.42l1.42 1.42l-1.42 1.42zM361.60 306.96l1.42 -1.42l1.42 1.42l-1.42 1.42zM365.86 314.14l1.42 -1.42l1.42 1.42l-1.42 1.42zM364.45 298.34l1.42 -1.42l1.42 1.42l-1.42 1.42zM363.49 308.13l1.42 -1.42l1.42 1.42l-1.42 1.42zM364.18 299.81l1.42 -1.42l1.42 1.42l-1.42 1.42zM360.56 306.50l1.42 -1.42l1.42 1.42l-1.42 1.42zM362.08 312.18l1.42 -1.42l1.42 1.42l-1.42 1.42zM365.16 310.46l1.42 -1.42l1.42 1.42l-1.42 1.42zM362.47 308.86l1.42 -1.42l1.42 1.42l-1.42 1.42zM368.88 312.26l1.42 -1.42l1.42 1.42l-1.42 1.42zM372.81 328.19l1.42 -1.42l1.42 1.42l-1.42 1.42zM368.68 303.26l1.42 -1.42l1.42 1.42l-1.42 1.42z" fill="#000"/>
<path d="M324.64 508.33l1.42 -1.42l1.42 1.42l-1.42 1.42zM323.94 507.69l1.42 -1.42l1.42 1.42l-1.42 1.42zM345.61 527.33l1.42 -1.42l1.42 1.42l-1.42 1.42zM338.23 517.24l1.42 -1.42l1.42 1.42l-1.42 1.42zM326.81 507.89l1.42 -1.42l1.42 1.42l-1.42 1.42zM336.91 514.38l1.42 -1.42l1.42 1.42l-1.42 1.42zM327.75 508.66l1.42 -1.42l1.42 1.42l-1.42 1.42zM391.21 534.38l1.42 -1.42l1.42 1.42l-1.42 1.42zM335.94 503.81l1.42 -1.42l1.42 1.42l-1.42 1.42zM333.34 504.83l1.42 -1.42l1.42 1.42l-1.42 1.42zM334.63 505.53l1.42 -1.42l1.42 1.42l-1.42 1.42zM343.19 505.98l1.42 -1.42l1.42 1.42l-1.42 1.42zM351.19 507.52l1.42 -1.42l1.42 1.42l-1.42 1.42zM353.87 508.04l1.42 -1.42l1.42 1.42l-1.42 1.42zM358.80 508.45l1.42 -1.42l1.42 1.42l-1.42 1.42zM363.47 509.50l1.42 -1.42l1.42 1.42l-1.42 1.42zM367.22 511.00l1.42 -1.42l1.42 1.42l-1.42 1.42zM372.01 505.23l1.42 -1.42l1.42 1.42l-1.42 1.42zM373.71 504.86l1.42 -1.42l1.42 1.42l-1.42 1.42zM385.30 507.32l1.42 -1.42l1.42 1.42l-1.42 1.42zM380.75 562.49l1.42 -1.42l1.42 1.42l-1.42 1.42zM380.98 554.85l1.42 -1.42l1.42 1.42l-1.42 1.42zM376.45 548.51l1.42 -1.42l1.42 1.42l-1.42 1.42zM373.78 547.20l1.42 -1.42l1.42 1.42l-1.42 1.42zM375.18 546.59l1.42 -1.42l1.42 1.42l-1.42 1.42zM373.50 541.52l1.42 -1.42l1.42 1.42l-1.42 1.42zM372.49 542.82l1.42 -1.42l1.42 1.42l-1.42 1.42zM371.49 541.62l1.42 -1.42l1.42 1.42l-1.42 1.42zM367.85 539.78l1.42 -1.42l1.42 1.42l-1.42 1.42zM367.73 533.84l1.42 -1.42l1.42 1.42l-1.42 1.42zM369.69 537.18l1.42 -1.42l1.42 1.42l-1.42 1.42zM382.35 536.80l1.42 -1.42l1.42 1.42l-1.42 1.42zM384.12 530.12l1.42 -1.42l1.42 1.42l-1.42 1.42zM364.96 531.73l1.42 -1.42l1.42 1.42l-1.42 1.42zM365.92 532.76l1.42 -1.42l1.42 1.42l-1.42 1.42zM369.61 530.28l1.42 -1.42l1.42 1.42l-1.42 1.42zM372.30 529.47l1.42 -1.42l1.42 1.42l-1.42 1.42zM377.23 533.06l1.42 -1.42l1.42 1.42l-1.42 1.42zM378.87 535.89l1.42 -1.42l1.42 1.42l-1.42 1.42zM374.72 530.07l1.42 -1.42l1.42 1.42l-1.42 1.42zM364.64 529.66l1.42 -1.42l1.42 1.42l-1.42 1.42zM367.88 530.04l1.42 -1.42l1.42 1.42l-1.42 1.42zM369.26 531.65l1.42 -1.42l1.42 1.42l-1.42 1.42zM360.35 528.83l1.42 -1.42l1.42 1.42l-1.42 1.42zM358.49 528.70l1.42 -1.42l1.42 1.42l-1.42 1.42zM361.58 527.79l1.42 -1.42l1.42 1.42l-1.42 1.42zM364.73 524.86l1.42 -1.42l1.42 1.42l-1.42 1.42zM368.68 524.19l1.42 -1.42l1.42 1.42l-1.42 1.42zM374.53 526.21l1.42 -1.42l1.42 1.42l-1.42 1.42zM377.17 525.39l1.42 -1.42l1.42 1.42l-1.42 1.42zM378.40 528.77l1.42 -1.42l1.42 1.42l-1.42 1.42zM373.33 519.31l1.42 -1.42l1.42 1.42l-1.42 1.42zM378.38 513.31l1.42 -1.42l1.42 1.42l-1.42 1.42zM376.04 516.25l1.42 -1.42l1.42 1.42l-1.42 1.42zM373.21 517.88l1.42 -1.42l1.42 1.42l-1.42 1.42zM376.31 525.52l1.42 -1.42l1.42 1.42l-1.42 1.42zM377.98 534.41l1.42 -1.42l1.42 1.42l-1.42 1.42zM368.44 527.76l1.42 -1.42l1.42 1.42l-1.42 1.42zM368.50 533.34l1.42 -1.42l1.42 1.42l-1.42 1.42zM375.47 526.40l1.42 -1.42l1.42 1.42l-1.42 1.42zM368.13 562.02l1.42 -1.42l1.42 1.42l-1.42 1.42zM390.55 554.78l1.42 -1.42l1.42 1.42l-1.42 1.42zM387.09 548.69l1.42 -1.42l1.42 1.42l-1.42 1.42zM339.80 516.91l1.42 -1.42l1.42 1.42l-1.42 1.42zM339.12 515.82l1.42 -1.42l1.42 1.42l-1.42 1.42zM332.14 510.22l1.42 -1.42l1.42 1.42l-1.42 1.42zM337.83 513.44l1.42 -1.42l1.42 1.42l-1.42 1.42zM335.68 512.80l1.42 -1.42l1.42 1.42l-1.42 1.42zM332.24 509.25l1.42 -1.42l1.42 1.42l-1.42 1.42zM339.56 516.57l1.42 -1.42l1.42 1.42l-1.42 1.42zM339.69 513.79l1.42 -1.42l1.42 1.42l-1.42 1.42zM338.70 512.44l1.42 -1.42l1.42 1.42l-1.42 1.42zM342.64 518.94l1.42 -1.42l1.42 1.42l-1.42 1.42zM340.61 516.08l1.42 -1.42l1.42 1.42l-1.42 1.42zM340.83 516.38l1.42 -1.42l1.42 1.42l-1.42 1.42zM342.65 517.59l1.42 -1.42l1.42 1.42l-1.42 1.42zM342.15 515.71l1.42 -1.42l1.42 1.42l-1.42 1.42zM335.75 509.52l1.42 -1.42l1.42 1.42l-1.42 1.42zM340.35 511.00l1.42 -1.42l1.42 1.42l-1.42 1.42zM341.48 517.26l1.42 -1.42l1.42 1.42l-1.42 1.42zM336.20 511.14l1.42 -1.42l1.42 1.42l-1.42 1.42zM340.49 513.99l1.42 -1.42l1.42 1.42l-1.42 1.42zM341.56 514.96l1.42 -1.42l1.42 1.42l-1.42 1.42zM343.26 518.97l1.42 -1.42l1.42 1.42l-1.42 1.42zM342.88 518.17l1.42 -1.42l1.42 1.42l-1.42 1.42zM342.43 516.79l1.42 -1.42l1.42 1.42l-1.42 1.42zM337.03 513.01l1.42 -1.42l1.42 1.42l-1.42 1.42zM340.76 517.05l1.42 -1.42l1.42 1.42l-1.42 1.42zM340.24 515.57l1.42 -1.42l1.42 1.42l-1.42 1.42zM344.71 511.64l1.42 -1.42l1.42 1.42l-1.42 1.42zM346.49 518.79l1.42 -1.42l1.42 1.42l-1.42 1.42zM343.95 515.25l1.42 -1.42l1.42 1.42l-1.42 1.42zM341.12 511.92l1.42 -1.42l1.42 1.42l-1.42 1.42zM346.35 518.02l1.42 -1.42l1.42 1.42l-1.42 1.42zM343.07 513.01l1.42 -1.42l1.42 1.42l-1.42 1.42zM346.28 514.60l1.42 -1.42l1.42 1.42l-1.42 1.42zM337.29 509.46l1.42 -1.42l1.42 1.42l-1.42 1.42zM343.24 513.30l1.42 -1.42l1.42 1.42l-1.42 1.42zM338.74 510.88l1.42 -1.42l1.42 1.42l-1.42 1.42zM341.69 510.77l1.42 -1.42l1.42 1.42l-1.42 1.42zM340.08 508.75l1.42 -1.42l1.42 1.42l-1.42 1.42zM348.60 521.76l1.42 -1.42l1.42 1.42l-1.42 1.42zM340.26 513.30l1.42 -1.42l1.42 1.42l-1.42 1.42zM342.48 514.56l1.42 -1.42l1.42 1.42l-1.42 1.42zM347.25 517.10l1.42 -1.42l1.42 1.42l-1.42 1.42zM340.38 513.81l1.42 -1.42l1.42 1.42l-1.42 1.42zM342.99 515.18l1.42 -1.42l1.42 1.42l-1.42 1.42zM338.36 510.19l1.42 -1.42l1.42 1.42l-1.42 1.42zM344.76 513.94l1.42 -1.42l1.42 1.42l-1.42 1.42zM342.53 511.92l1.42 -1.42l1.42 1.42l-1.42 1.42zM343.70 515.36l1.42 -1.42l1.42 1.42l-1.42 1.42zM341.33 514.32l1.42 -1.42l1.42 1.42l-1.42 1.42zM340.57 508.97l1.42 -1.42l1.42 1.42l-1.42 1.42zM337.36 508.24l1.42 -1.42l1.42 1.42l-1.42 1.42zM338.32 510.47l1.42 -1.42l1.42 1.42l-1.42 1.42zM342.66 516.65l1.42 -1.42l1.42 1.42l-1.42 1.42zM344.81 513.53l1.42 -1.42l1.42 1.42l-1.42 1.42zM343.90 515.17l1.42 -1.42l1.42 1.42l-1.42 1.42zM337.40 507.90l1.42 -1.42l1.42 1.42l-1.42 1.42zM337.09 507.07l1.42 -1.42l1.42 1.42l-1.42 1.42zM340.72 511.42l1.42 -1.42l1.42 1.42l-1.42 1.42zM344.35 512.99l1.42 -1.42l1.42 1.42l-1.42 1.42zM344.08 513.09l1.42 -1.42l1.42 1.42l-1.42 1.42zM349.34 515.86l1.42 -1.42l1.42 1.42l-1.42 1.42zM344.61 513.48l1.42 -1.42l1.42 1.42l-1.42 1.42zM343.02 509.79l1.42 -1.42l1.42 1.42l-1.42 1.42zM345.22 511.67l1.42 -1.42l1.42 1.42l-1.42 1.42zM349.52 514.50l1.42 -1.42l1.42 1.42l-1.42 1.42zM349.42 513.60l1.42 -1.42l1.42 1.42l-1.42 1.42zM347.71 513.75l1.42 -1.42l1.42 1.42l-1.42 1.42zM349.90 522.17l1.42 -1.42l1.42 1.42l-1.42 1.42zM347.49 513.89l1.42 -1.42l1.42 1.42l-1.42 1.42zM348.00 514.40l1.42 -1.42l1.42 1.42l-1.42 1.42zM343.53 510.45l1.42 -1.42l1.42 1.42l-1.42 1.42zM345.32 513.86l1.42 -1.42l1.42 1.42l-1.42 1.42zM345.53 516.08l1.42 -1.42l1.42 1.42l-1.42 1.42zM348.83 517.24l1.42 -1.42l1.42 1.42l-1.42 1.42zM347.32 514.04l1.42 -1.42l1.42 1.42l-1.42 1.42zM349.14 515.39l1.42 -1.42l1.42 1.42l-1.42 1.42zM348.44 513.86l1.42 -1.42l1.42 1.42l-1.42 1.42zM342.33 508.36l1.42 -1.42l1.42 1.42l-1.42 1.42zM341.99 506.05l1.42 -1.42l1.42 1.42l-1.42 1.42zM350.55 522.83l1.42 -1.42l1.42 1.42l-1.42 1.42zM347.61 515.42l1.42 -1.42l1.42 1.42l-1.42 1.42zM346.26 513.65l1.42 -1.42l1.42 1.42l-1.42 1.42zM344.47 507.62l1.42 -1.42l1.42 1.42l-1.42 1.42zM343.30 510.22l1.42 -1.42l1.42 1.42l-1.42 1.42zM350.57 517.92l1.42 -1.42l1.42 1.42l-1.42 1.42zM343.22 505.22l1.42 -1.42l1.42 1.42l-1.42 1.42zM344.96 512.87l1.42 -1.42l1.42 1.42l-1.42 1.42zM349.17 517.04l1.42 -1.42l1.42 1.42l-1.42 1.42zM347.32 512.90l1.42 -1.42l1.42 1.42l-1.42 1.42zM349.10 517.42l1.42 -1.42l1.42 1.42l-1.42 1.42zM344.68 514.87l1.42 -1.42l1.42 1.42l-1.42 1.42zM353.59 522.53l1.42 -1.42l1.42 1.42l-1.42 1.42zM345.56 510.18l1.42 -1.42l1.42 1.42l-1.42 1.42zM345.48 509.40l1.42 -1.42l1.42 1.42l-1.42 1.42zM347.57 514.71l1.42 -1.42l1.42 1.42l-1.42 1.42zM351.35 521.04l1.42 -1.42l1.42 1.42l-1.42 1.42zM344.70 513.89l1.42 -1.42l1.42 1.42l-1.42 1.42zM348.52 516.92l1.42 -1.42l1.42 1.42l-1.42 1.42zM346.23 512.01l1.42 -1.42l1.42 1.42l-1.42 1.42zM343.18 509.19l1.42 -1.42l1.42 1.42l-1.42 1.42zM348.37 518.48l1.42 -1.42l1.42 1.42l-1.42 1.42zM350.95 521.01l1.42 -1.42l1.42 1.42l-1.42 1.42zM350.72 519.42l1.42 -1.42l1.42 1.42l-1.42 1.42zM347.96 512.80l1.42 -1.42l1.42 1.42l-1.42 1.42zM345.42 511.34l1.42 -1.42l1.42 1.42l-1.42 1.42zM348.18 511.84l1.42 -1.42l1.42 1.42l-1.42 1.42zM352.71 513.19l1.42 -1.42l1.42 1.42l-1.42 1.42zM352.52 515.82l1.42 -1.42l1.42 1.42l-1.42 1.42zM354.02 517.47l1.42 -1.42l1.42 1.42l-1.42 1.42zM349.23 509.16l1.42 -1.42l1.42 1.42l-1.42 1.42zM353.90 517.15l1.42 -1.42l1.42 1.42l-1.42 1.42zM352.24 516.84l1.42 -1.42l1.42 1.42l-1.42 1.42zM353.39 515.47l1.42 -1.42l1.42 1.42l-1.42 1.42zM352.40 514.26l1.42 -1.42l1.42 1.42l-1.42 1.42zM352.97 514.75l1.42 -1.42l1.42 1.42l-1.42 1.42zM353.74 514.38l1.42 -1.42l1.42 1.42l-1.42 1.42zM352.59 515.08l1.42 -1.42l1.42 1.42l-1.42 1.42zM350.61 513.91l1.42 -1.42l1.42 1.42l-1.42 1.42zM349.91 514.72l1.42 -1.42l1.42 1.42l-1.42 1.42zM353.74 516.53l1.42 -1.42l1.42 1.42l-1.42 1.42zM353.64 514.05l1.42 -1.42l1.42 1.42l-1.42 1.42zM350.37 504.07l1.42 -1.42l1.42 1.42l-1.42 1.42zM355.31 515.86l1.42 -1.42l1.42 1.42l-1.42 1.42zM350.48 514.25l1.42 -1.42l1.42 1.42l-1.42 1.42zM351.16 518.55l1.42 -1.42l1.42 1.42l-1.42 1.42zM353.30 511.88l1.42 -1.42l1.42 1.42l-1.42 1.42zM351.11 515.23l1.42 -1.42l1.42 1.42l-1.42 1.42zM351.29 516.83l1.42 -1.42l1.42 1.42l-1.42 1.42zM353.86 515.12l1.42 -1.42l1.42 1.42l-1.42 1.42zM349.30 512.66l1.42 -1.42l1.42 1.42l-1.42 1.42zM349.34 509.42l1.42 -1.42l1.42 1.42l-1.42 1.42zM355.50 520.51l1.42 -1.42l1.42 1.42l-1.42 1.42zM349.57 509.24l1.42 -1.42l1.42 1.42l-1.42 1.42zM350.87 514.50l1.42 -1.42l1.42 1.42l-1.42 1.42zM352.70 518.36l1.42 -1.42l1.42 1.42l-1.42 1.42zM354.90 515.86l1.42 -1.42l1.42 1.42l-1.42 1.42zM352.33 513.98l1.42 -1.42l1.42 1.42l-1.42 1.42zM350.85 516.99l1.42 -1.42l1.42 1.42l-1.42 1.42zM352.46 518.16l1.42 -1.42l1.42 1.42l-1.42 1.42zM352.12 516.06l1.42 -1.42l1.42 1.42l-1.42 1.42zM360.08 528.13l1.42 -1.42l1.42 1.42l-1.42 1.42zM347.20 511.90l1.42 -1.42l1.42 1.42l-1.42 1.42zM355.59 514.81l1.42 -1.42l1.42 1.42l-1.42 1.42zM351.41 513.66l1.42 -1.42l1.42 1.42l-1.42 1.42zM349.33 511.74l1.42 -1.42l1.42 1.42l-1.42 1.42zM350.34 516.64l1.42 -1.42l1.42 1.42l-1.42 1.42zM355.56 521.47l1.42 -1.42l1.42 1.42l-1.42 1.42zM351.30 511.47l1.42 -1.42l1.42 1.42l-1.42 1.42zM350.37 510.39l1.42 -1.42l1.42 1.42l-1.42 1.42zM354.90 518.99l1.42 -1.42l1.42 1.42l-1.42 1.42zM352.46 516.94l1.42 -1.42l1.42 1.42l-1.42 1.42zM355.42 521.76l1.42 -1.42l1.42 1.42l-1.42 1.42zM356.77 518.32l1.42 -1.42l1.42 1.42l-1.42 1.42zM349.98 515.45l1.42 -1.42l1.42 1.42l-1.42 1.42zM349.42 513.45l1.42 -1.42l1.42 1.42l-1.42 1.42zM357.79 515.14l1.42 -1.42l1.42 1.42l-1.42 1.42zM357.30 515.98l1.42 -1.42l1.42 1.42l-1.42 1.42zM352.78 510.88l1.42 -1.42l1.42 1.42l-1.42 1.42zM355.11 515.34l1.42 -1.42l1.42 1.42l-1.42 1.42zM355.36 516.03l1.42 -1.42l1.42 1.42l-1.42 1.42zM359.14 514.51l1.42 -1.42l1.42 1.42l-1.42 1.42zM357.71 514.46l1.42 -1.42l1.42 1.42l-1.42 1.42zM357.79 523.04l1.42 -1.42l1.42 1.42l-1.42 1.42zM355.84 519.31l1.42 -1.42l1.42 1.42l-1.42 1.42zM359.69 518.04l1.42 -1.42l1.42 1.42l-1.42 1.42zM358.66 515.52l1.42 -1.42l1.42 1.42l-1.42 1.42zM359.54 509.39l1.42 -1.42l1.42 1.42l-1.42 1.42zM360.71 511.84l1.42 -1.42l1.42 1.42l-1.42 1.42zM360.70 518.69l1.42 -1.42l1.42 1.42l-1.42 1.42zM356.10 515.16l1.42 -1.42l1.42 1.42l-1.42 1.42zM356.41 511.73l1.42 -1.42l1.42 1.42l-1.42 1.42zM360.24 519.33l1.42 -1.42l1.42 1.42l-1.42 1.42zM359.87 515.60l1.42 -1.42l1.42 1.42l-1.42 1.42zM357.84 513.14l1.42 -1.42l1.42 1.42l-1.42 1.42zM359.83 514.25l1.42 -1.42l1.42 1.42l-1.42 1.42zM356.63 512.47l1.42 -1.42l1.42 1.42l-1.42 1.42zM355.59 516.65l1.42 -1.42l1.42 1.42l-1.42 1.42zM359.36 508.37l1.42 -1.42l1.42 1.42l-1.42 1.42zM360.48 513.35l1.42 -1.42l1.42 1.42l-1.42 1.42zM362.34 518.52l1.42 -1.42l1.42 1.42l-1.42 1.42zM358.28 516.70l1.42 -1.42l1.42 1.42l-1.42 1.42zM357.48 512.04l1.42 -1.42l1.42 1.42l-1.42 1.42zM355.88 513.59l1.42 -1.42l1.42 1.42l-1.42 1.42zM355.60 517.36l1.42 -1.42l1.42 1.42l-1.42 1.42zM358.10 515.25l1.42 -1.42l1.42 1.42l-1.42 1.42zM360.84 519.41l1.42 -1.42l1.42 1.42l-1.42 1.42zM356.53 514.93l1.42 -1.42l1.42 1.42l-1.42 1.42zM356.33 508.80l1.42 -1.42l1.42 1.42l-1.42 1.42zM359.35 524.66l1.42 -1.42l1.42 1.42l-1.42 1.42zM360.79 520.01l1.42 -1.42l1.42 1.42l-1.42 1.42zM355.95 518.61l1.42 -1.42l1.42 1.42l-1.42 1.42zM358.27 517.13l1.42 -1.42l1.42 1.42l-1.42 1.42zM354.40 510.58l1.42 -1.42l1.42 1.42l-1.42 1.42zM359.68 516.49l1.42 -1.42l1.42 1.42l-1.42 1.42zM358.42 516.17l1.42 -1.42l1.42 1.42l-1.42 1.42zM358.31 521.02l1.42 -1.42l1.42 1.42l-1.42 1.42zM355.28 517.39l1.42 -1.42l1.42 1.42l-1.42 1.42zM353.37 502.47l1.42 -1.42l1.42 1.42l-1.42 1.42zM355.27 514.08l1.42 -1.42l1.42 1.42l-1.42 1.42zM355.31 517.43l1.42 -1.42l1.42 1.42l-1.42 1.42zM359.03 522.86l1.42 -1.42l1.42 1.42l-1.42 1.42zM365.32 523.47l1.42 -1.42l1.42 1.42l-1.42 1.42zM371.41 536.45l1.42 -1.42l1.42 1.42l-1.42 1.42zM369.38 530.69l1.42 -1.42l1.42 1.42l-1.42 1.42zM368.78 526.43l1.42 -1.42l1.42 1.42l-1.42 1.42zM366.48 521.16l1.42 -1.42l1.42 1.42l-1.42 1.42zM362.35 506.91l1.42 -1.42l1.42 1.42l-1.42 1.42zM365.05 522.38l1.42 -1.42l1.42 1.42l-1.42 1.42zM362.75 517.82l1.42 -1.42l1.42 1.42l-1.42 1.42zM365.64 514.74l1.42 -1.42l1.42 1.42l-1.42 1.42zM362.80 523.80l1.42 -1.42l1.42 1.42l-1.42 1.42zM361.97 518.50l1.42 -1.42l1.42 1.42l-1.42 1.42zM362.93 516.92l1.42 -1.42l1.42 1.42l-1.42 1.42zM365.60 517.51l1.42 -1.42l1.42 1.42l-1.42 1.42zM363.26 514.77l1.42 -1.42l1.42 1.42l-1.42 1.42zM366.28 516.86l1.42 -1.42l1.42 1.42l-1.42 1.42zM361.17 515.68l1.42 -1.42l1.42 1.42l-1.42 1.42zM365.25 524.17l1.42 -1.42l1.42 1.42l-1.42 1.42zM365.50 500.17l1.42 -1.42l1.42 1.42l-1.42 1.42zM363.08 516.95l1.42 -1.42l1.42 1.42l-1.42 1.42zM363.38 510.41l1.42 -1.42l1.42 1.42l-1.42 1.42zM360.95 512.08l1.42 -1.42l1.42 1.42l-1.42 1.42zM361.57 521.27l1.42 -1.42l1.42 1.42l-1.42 1.42zM365.99 513.22l1.42 -1.42l1.42 1.42l-1.42 1.42zM362.30 516.56l1.42 -1.42l1.42 1.42l-1.42 1.42zM368.65 520.53l1.42 -1.42l1.42 1.42l-1.42 1.42zM372.55 536.86l1.42 -1.42l1.42 1.42l-1.42 1.42zM367.94 514.43l1.42 -1.42l1.42 1.42l-1.42 1.42z" fill="#000"/>
<path d="M516.93 42.41l1.42 -1.42l1.42 1.42l-1.42 1.42zM522.10 61.68l1.42 -1.42l1.42 1.42l-1.42 1.42zM520.95 50.14l1.42 -1.42l1.42 1.42l-1.42 1.42zM531.51 51.77l1.42 -1.42l1.42 1.42l-1.42 1.42zM539.24 51.30l1.42 -1.42l1.42 1.42l-1.42 1.42zM543.73 57.78l1.42 -1.42l1.42 1.42l-1.42 1.42zM541.01 31.49l1.42 -1.42l1.42 1.42l-1.42 1.42zM664.84 54.72l1.42 -1.42l1.42 1.42l-1.42 1.42zM651.95 56.24l1.42 -1.42l1.42 1.42l-1.42 1.42zM640.89 53.81l1.42 -1.42l1.42 1.42l-1.42 1.42zM633.57 48.66l1.42 -1.42l1.42 1.42l-1.42 1.42zM626.93 46.98l1.42 -1.42l1.42 1.42l-1.42 1.42zM621.68 55.95l1.42 -1.42l1.42 1.42l-1.42 1.42zM622.98 56.62l1.42 -1.42l1.42 1.42l-1.42 1.42zM569.05 52.86l1.42 -1.42l1.42 1.42l-1.42 1.42zM565.43 46.02l1.42 -1.42l1.42 1.42l-1.42 1.42zM565.89 46.73l1.42 -1.42l1.42 1.42l-1.42 1.42zM574.95 55.62l1.42 -1.42l1.42 1.42l-1.42 1.42zM583.56 54.76l1.42 -1.42l1.42 1.42l-1.42 1.42zM586.22 55.70l1.42 -1.42l1.42 1.42l-1.42 1.42zM592.29 51.49l1.42 -1.42l1.42 1.42l-1.42 1.42zM596.68 53.67l1.42 -1.42l1.42 1.42l-1.42 1.42zM600.74 51.47l1.42 -1.42l1.42 1.42l-1.42 1.42zM605.45 57.90l1.42 -1.42l1.42 1.42l-1.42 1.42zM608.50 50.25l1.42 -1.42l1.42 1.42l-1.42 1.42zM618.97 53.66l1.42 -1.42l1.42 1.42l-1.42 1.42zM609.61 52.11l1.42 -1.42l1.42 1.42l-1.42 1.42zM610.42 53.78l1.42 -1.42l1.42 1.42l-1.42 1.42zM605.17 54.39l1.42 -1.42l1.42 1.42l-1.42 1.42zM602.06 52.29l1.42 -1.42l1.42 1.42l-1.42 1.42zM604.24 51.53l1.42 -1.42l1.42 1.42l-1.42 1.42zM602.35 54.03l1.42 -1.42l1.42 1.42l-1.42 1.42zM600.74 53.92l1.42 -1.42l1.42 1.42l-1.42 1.42zM599.98 51.58l1.42 -1.42l1.42 1.42l-1.42 1.42zM594.12 56.48l1.42 -1.42l1.42 1.42l-1.42 1.42zM595.14 58.60l1.42 -1.42l1.42 1.42l-1.42 1.42zM598.21 52.32l1.42 -1.42l1.42 1.42l-1.42 1.42zM613.58 54.79l1.42 -1.42l1.42 1.42l-1.42 1.42zM615.66 57.08l1.42 -1.42l1.42 1.42l-1.42 1.42zM592.02 56.45l1.42 -1.42l1.42 1.42l-1.42 1.42zM593.37 55.12l1.42 -1.42l1.42 1.42l-1.42 1.42zM598.75 57.08l1.42 -1.42l1.42 1.42l-1.42 1.42zM602.22 57.50l1.42 -1.42l1.42 1.42l-1.42 1.42zM608.32 53.42l1.42 -1.42l1.42 1.42l-1.42 1.42zM610.23 51.68l1.42 -1.42l1.42 1.42l-1.42 1.42zM605.64 54.03l1.42 -1.42l1.42 1.42l-1.42 1.42zM592.24 56.18l1.42 -1.42l1.42 1.42l-1.42 1.42zM597.35 52.32l1.42 -1.42l1.42 1.42l-1.42 1.42zM598.99 51.43l1.42 -1.42l1.42 1.42l-1.42 1.42zM586.06 54.75l1.42 -1.42l1.42 1.42l-1.42 1.42zM583.48 51.13l1.42 -1.42l1.42 1.42l-1.42 1.42zM589.41 49.58l1.42 -1.42l1.42 1.42l-1.42 1.42zM594.10 54.20l1.42 -1.42l1.42 1.42l-1.42 1.42zM599.02 55.90l1.42 -1.42l1.42 1.42l-1.42 1.42zM606.17 52.73l1.42 -1.42l1.42 1.42l-1.42 1.42zM609.21 52.99l1.42 -1.42l1.42 1.42l-1.42 1.42zM610.52 51.29l1.42 -1.42l1.42 1.42l-1.42 1.42zM605.11 56.57l1.42 -1.42l1.42 1.42l-1.42 1.42zM611.44 54.82l1.42 -1.42l1.42 1.42l-1.42 1.42zM608.64 55.26l1.42 -1.42l1.42 1.42l-1.42 1.42zM604.99 57.70l1.42 -1.42l1.42 1.42l-1.42 1.42zM608.19 53.23l1.42 -1.42l1.42 1.42l-1.42 1.42zM609.22 52.41l1.42 -1.42l1.42 1.42l-1.42 1.42zM598.00 55.75l1.42 -1.42l1.42 1.42l-1.42 1.42zM597.95 49.41l1.42 -1.42l1.42 1.42l-1.42 1.42zM607.41 51.75l1.42 -1.42l1.42 1.42l-1.42 1.42zM588.16 51.05l1.42 -1.42l1.42 1.42l-1.42 1.42zM621.90 52.85l1.42 -1.42l1.42 1.42l-1.42 1.42zM618.56 51.85l1.42 -1.42l1.42 1.42l-1.42 1.42zM547.27 52.00l1.42 -1.42l1.42 1.42l-1.42 1.42zM548.40 54.85l1.42 -1.42l1.42 1.42l-1.42 1.42zM546.28 49.12l1.42 -1.42l1.42 1.42l-1.42 1.42zM552.96 52.22l1.42 -1.42l1.42 1.42l-1.42 1.42zM548.71 43.60l1.42 -1.42l1.42 1.42l-1.42 1.42zM551.43 47.66l1.42 -1.42l1.42 1.42l-1.42 1.42zM547.85 50.74l1.42 -1.42l1.42 1.42l-1.42 1.42zM558.29 49.93l1.42 -1.42l1.42 1.42l-1.42 1.42zM559.81 45.62l1.42 -1.42l1.42 1.42l-1.42 1.42zM553.83 49.07l1.42 -1.42l1.42 1.42l-1.42 1.42zM554.59 50.59l1.42 -1.42l1.42 1.42l-1.42 1.42zM554.24 51.81l1.42 -1.42l1.42 1.42l-1.42 1.42zM556.90 55.16l1.42 -1.42l1.42 1.42l-1.42 1.42zM560.05 54.44l1.42 -1.42l1.42 1.42l-1.42 1.42zM558.30 54.53l1.42 -1.42l1.42 1.42l-1.42 1.42zM563.06 65.31l1.42 -1.42l1.42 1.42l-1.42 1.42zM554.89 46.77l1.42 -1.42l1.42 1.42l-1.42 1.42zM555.96 48.81l1.42 -1.42l1.42 1.42l-1.42 1.42zM560.65 46.90l1.42 -1.42l1.42 1.42l-1.42 1.42zM560.85 49.81l1.42 -1.42l1.42 1.42l-1.42 1.42zM556.31 49.71l1.42 -1.42l1.42 1.42l-1.42 1.42zM556.60 52.56l1.42 -1.42l1.42 1.42l-1.42 1.42zM559.27 49.15l1.42 -1.42l1.42 1.42l-1.42 1.42zM553.14 44.26l1.42 -1.42l1.42 1.42l-1.42 1.42zM553.18 43.19l1.42 -1.42l1.42 1.42l-1.42 1.42zM555.96 44.71l1.42 -1.42l1.42 1.42l-1.42 1.42zM570.21 63.67l1.42 -1.42l1.42 1.42l-1.42 1.42zM566.92 49.99l1.42 -1.42l1.42 1.42l-1.42 1.42zM565.87 52.45l1.42 -1.42l1.42 1.42l-1.42 1.42zM565.98 47.99l1.42 -1.42l1.42 1.42l-1.42 1.42zM567.13 53.36l1.42 -1.42l1.42 1.42l-1.42 1.42zM567.52 51.76l1.42 -1.42l1.42 1.42l-1.42 1.42zM570.19 60.36l1.42 -1.42l1.42 1.42l-1.42 1.42zM562.45 49.98l1.42 -1.42l1.42 1.42l-1.42 1.42zM566.90 54.85l1.42 -1.42l1.42 1.42l-1.42 1.42zM562.49 50.45l1.42 -1.42l1.42 1.42l-1.42 1.42zM567.85 53.42l1.42 -1.42l1.42 1.42l-1.42 1.42zM568.31 51.40l1.42 -1.42l1.42 1.42l-1.42 1.42zM567.55 52.88l1.42 -1.42l1.42 1.42l-1.42 1.42zM561.32 48.35l1.42 -1.42l1.42 1.42l-1.42 1.42zM564.03 49.93l1.42 -1.42l1.42 1.42l-1.42 1.42zM569.91 55.97l1.42 -1.42l1.42 1.42l-1.42 1.42zM561.37 43.70l1.42 -1.42l1.42 1.42l-1.42 1.42zM563.65 52.76l1.42 -1.42l1.42 1.42l-1.42 1.42zM563.61 47.54l1.42 -1.42l1.42 1.42l-1.42 1.42zM568.89 55.71l1.42 -1.42l1.42 1.42l-1.42 1.42zM567.25 56.35l1.42 -1.42l1.42 1.42l-1.42 1.42zM565.30 51.28l1.42 -1.42l1.42 1.42l-1.42 1.42zM561.77 49.10l1.42 -1.42l1.42 1.42l-1.42 1.42zM567.52 58.86l1.42 -1.42l1.42 1.42l-1.42 1.42zM563.98 55.15l1.42 -1.42l1.42 1.42l-1.42 1.42zM562.05 52.50l1.42 -1.42l1.42 1.42l-1.42 1.42zM561.26 44.36l1.42 -1.42l1.42 1.42l-1.42 1.42zM568.11 64.10l1.42 -1.42l1.42 1.42l-1.42 1.42zM566.22 50.53l1.42 -1.42l1.42 1.42l-1.42 1.42zM564.65 54.98l1.42 -1.42l1.42 1.42l-1.42 1.42zM566.28 50.57l1.42 -1.42l1.42 1.42l-1.42 1.42zM564.82 54.78l1.42 -1.42l1.42 1.42l-1.42 1.42zM570.08 51.32l1.42 -1.42l1.42 1.42l-1.42 1.42zM570.51 45.60l1.42 -1.42l1.42 1.42l-1.42 1.42zM575.97 51.26l1.42 -1.42l1.42 1.42l-1.42 1.42zM569.96 51.27l1.42 -1.42l1.42 1.42l-1.42 1.42zM570.71 56.76l1.42 -1.42l1.42 1.42l-1.42 1.42zM573.21 50.61l1.42 -1.42l1.42 1.42l-1.42 1.42zM576.87 54.24l1.42 -1.42l1.42 1.42l-1.42 1.42zM576.95 57.03l1.42 -1.42l1.42 1.42l-1.42 1.42zM574.74 53.40l1.42 -1.42l1.42 1.42l-1.42 1.42zM570.10 54.20l1.42 -1.42l1.42 1.42l-1.42 1.42zM574.90 49.73l1.42 -1.42l1.42 1.42l-1.42 1.42zM574.61 53.42l1.42 -1.42l1.42 1.42l-1.42 1.42zM570.95 55.69l1.42 -1.42l1.42 1.42l-1.42 1.42zM571.74 46.22l1.42 -1.42l1.42 1.42l-1.42 1.42zM568.94 48.23l1.42 -1.42l1.42 1.42l-1.42 1.42zM574.46 47.32l1.42 -1.42l1.42 1.42l-1.42 1.42zM574.35 50.37l1.42 -1.42l1.42 1.42l-1.42 1.42zM575.59 53.75l1.42 -1.42l1.42 1.42l-1.42 1.42zM575.51 55.20l1.42 -1.42l1.42 1.42l-1.42 1.42zM571.67 54.48l1.42 -1.42l1.42 1.42l-1.42 1.42zM574.62 48.81l1.42 -1.42l1.42 1.42l-1.42 1.42zM571.19 52.58l1.42 -1.42l1.42 1.42l-1.42 1.42zM571.77 60.33l1.42 -1.42l1.42 1.42l-1.42 1.42zM572.39 53.34l1.42 -1.42l1.42 1.42l-1.42 1.42zM574.40 59.92l1.42 -1.42l1.42 1.42l-1.42 1.42zM571.43 52.33l1.42 -1.42l1.42 1.42l-1.42 1.42zM575.03 58.89l1.42 -1.42l1.42 1.42l-1.42 1.42zM575.05 59.18l1.42 -1.42l1.42 1.42l-1.42 1.42zM571.12 52.55l1.42 -1.42l1.42 1.42l-1.42 1.42zM574.18 53.57l1.42 -1.42l1.42 1.42l-1.42 1.42zM573.58 61.13l1.42 -1.42l1.42 1.42l-1.42 1.42zM574.36 49.72l1.42 -1.42l1.42 1.42l-1.42 1.42zM569.86 42.71l1.42 -1.42l1.42 1.42l-1.42 1.42zM576.72 60.15l1.42 -1.42l1.42 1.42l-1.42 1.42zM574.18 56.46l1.42 -1.42l1.42 1.42l-1.42 1.42zM574.92 55.54l1.42 -1.42l1.42 1.42l-1.42 1.42zM573.48 54.03l1.42 -1.42l1.42 1.42l-1.42 1.42zM575.80 47.29l1.42 -1.42l1.42 1.42l-1.42 1.42zM569.71 50.68l1.42 -1.42l1.42 1.42l-1.42 1.42zM572.51 56.76l1.42 -1.42l1.42 1.42l-1.42 1.42zM573.79 54.50l1.42 -1.42l1.42 1.42l-1.42 1.42zM570.98 60.52l1.42 -1.42l1.42 1.42l-1.42 1.42zM570.88 54.80l1.42 -1.42l1.42 1.42l-1.42 1.42zM574.70 48.87l1.42 -1.42l1.42 1.42l-1.42 1.42zM574.59 55.27l1.42 -1.42l1.42 1.42l-1.42 1.42zM576.11 52.58l1.42 -1.42l1.42 1.42l-1.42 1.42zM574.28 48.32l1.42 -1.42l1.42 1.42l-1.42 1.42zM578.20 47.27l1.42 -1.42l1.42 1.42l-1.42 1.42zM582.22 55.43l1.42 -1.42l1.42 1.42l-1.42 1.42zM580.15 56.69l1.42 -1.42l1.42 1.42l-1.42 1.42zM582.32 51.48l1.42 -1.42l1.42 1.42l-1.42 1.42zM580.18 55.00l1.42 -1.42l1.42 1.42l-1.42 1.42zM582.81 48.80l1.42 -1.42l1.42 1.42l-1.42 1.42zM580.95 46.03l1.42 -1.42l1.42 1.42l-1.42 1.42zM582.42 52.28l1.42 -1.42l1.42 1.42l-1.42 1.42zM581.37 54.26l1.42 -1.42l1.42 1.42l-1.42 1.42zM582.48 50.96l1.42 -1.42l1.42 1.42l-1.42 1.42zM581.93 61.78l1.42 -1.42l1.42 1.42l-1.42 1.42zM581.28 53.49l1.42 -1.42l1.42 1.42l-1.42 1.42zM578.33 58.16l1.42 -1.42l1.42 1.42l-1.42 1.42zM579.42 42.86l1.42 -1.42l1.42 1.42l-1.42 1.42zM582.22 52.82l1.42 -1.42l1.42 1.42l-1.42 1.42zM583.21 54.30l1.42 -1.42l1.42 1.42l-1.42 1.42zM582.83 64.52l1.42 -1.42l1.42 1.42l-1.42 1.42zM584.18 56.62l1.42 -1.42l1.42 1.42l-1.42 1.42zM579.26 50.30l1.42 -1.42l1.42 1.42l-1.42 1.42zM577.09 50.00l1.42 -1.42l1.42 1.42l-1.42 1.42zM582.92 60.23l1.42 -1.42l1.42 1.42l-1.42 1.42zM579.70 49.21l1.42 -1.42l1.42 1.42l-1.42 1.42zM579.19 47.33l1.42 -1.42l1.42 1.42l-1.42 1.42zM583.26 52.48l1.42 -1.42l1.42 1.42l-1.42 1.42zM578.07 53.60l1.42 -1.42l1.42 1.42l-1.42 1.42zM581.05 49.94l1.42 -1.42l1.42 1.42l-1.42 1.42zM581.37 60.25l1.42 -1.42l1.42 1.42l-1.42 1.42zM580.91 52.98l1.42 -1.42l1.42 1.42l-1.42 1.42zM579.96 48.71l1.42 -1.42l1.42 1.42l-1.42 1.42zM580.10 48.99l1.42 -1.42l1.42 1.42l-1.42 1.42zM583.83 55.28l1.42 -1.42l1.42 1.42l-1.42 1.42zM580.03 62.76l1.42 -1.42l1.42 1.42l-1.42 1.42zM577.15 53.77l1.42 -1.42l1.42 1.42l-1.42 1.42zM578.29 57.75l1.42 -1.42l1.42 1.42l-1.42 1.42zM580.21 51.96l1.42 -1.42l1.42 1.42l-1.42 1.42zM585.28 58.52l1.42 -1.42l1.42 1.42l-1.42 1.42zM576.48 48.47l1.42 -1.42l1.42 1.42l-1.42 1.42zM585.06 56.66l1.42 -1.42l1.42 1.42l-1.42 1.42zM580.76 51.82l1.42 -1.42l1.42 1.42l-1.42 1.42zM578.37 56.02l1.42 -1.42l1.42 1.42l-1.42 1.42zM577.62 47.92l1.42 -1.42l1.42 1.42l-1.42 1.42zM582.22 52.49l1.42 -1.42l1.42 1.42l-1.42 1.42zM581.39 55.15l1.42 -1.42l1.42 1.42l-1.42 1.42zM580.19 58.99l1.42 -1.42l1.42 1.42l-1.42 1.42zM583.00 50.30l1.42 -1.42l1.42 1.42l-1.42 1.42zM580.09 52.29l1.42 -1.42l1.42 1.42l-1.42 1.42zM580.88 57.98l1.42 -1.42l1.42 1.42l-1.42 1.42zM584.97 57.04l1.42 -1.42l1.42 1.42l-1.42 1.42zM577.30 51.68l1.42 -1.42l1.42 1.42l-1.42 1.42zM577.95 51.97l1.42 -1.42l1.42 1.42l-1.42 1.42zM587.83 56.50l1.42 -1.42l1.42 1.42l-1.42 1.42zM587.88 50.60l1.42 -1.42l1.42 1.42l-1.42 1.42zM584.52 50.18l1.42 -1.42l1.42 1.42l-1.42 1.42zM584.83 52.76l1.42 -1.42l1.42 1.42l-1.42 1.42zM585.47 49.21l1.42 -1.42l1.42 1.42l-1.42 1.42zM590.20 53.92l1.42 -1.42l1.42 1.42l-1.42 1.42zM588.84 51.68l1.42 -1.42l1.42 1.42l-1.42 1.42zM584.80 53.64l1.42 -1.42l1.42 1.42l-1.42 1.42zM584.31 50.12l1.42 -1.42l1.42 1.42l-1.42 1.42zM588.86 58.46l1.42 -1.42l1.42 1.42l-1.42 1.42zM590.26 48.28l1.42 -1.42l1.42 1.42l-1.42 1.42zM591.96 56.34l1.42 -1.42l1.42 1.42l-1.42 1.42zM592.16 58.52l1.42 -1.42l1.42 1.42l-1.42 1.42zM591.18 51.32l1.42 -1.42l1.42 1.42l-1.42 1.42zM586.73 50.14l1.42 -1.42l1.42 1.42l-1.42 1.42zM586.90 59.99l1.42 -1.42l1.42 1.42l-1.42 1.42zM589.44 56.53l1.42 -1.42l1.42 1.42l-1.42 1.42zM590.20 57.06l1.42 -1.42l1.42 1.42l-1.42 1.42zM589.94 49.34l1.42 -1.42l1.42 1.42l-1.42 1.42zM591.34 52.83l1.42 -1.42l1.42 1.42l-1.42 1.42zM587.95 53.60l1.42 -1.42l1.42 1.42l-1.42 1.42zM585.08 51.45l1.42 -1.42l1.42 1.42l-1.42 1.42zM591.98 56.96l1.42 -1.42l1.42 1.42l-1.42 1.42zM591.72 56.83l1.42 -1.42l1.42 1.42l-1.42 1.42zM592.42 56.67l1.42 -1.42l1.42 1.42l-1.42 1.42zM588.70 51.58l1.42 -1.42l1.42 1.42l-1.42 1.42zM589.40 52.20l1.42 -1.42l1.42 1.42l-1.42 1.42zM586.96 51.18l1.42 -1.42l1.42 1.42l-1.42 1.42zM585.16 49.02l1.42 -1.42l1.42 1.42l-1.42 1.42zM587.76 59.03l1.42 -1.42l1.42 1.42l-1.42 1.42zM590.37 55.61l1.42 -1.42l1.42 1.42l-1.42 1.42zM586.90 52.90l1.42 -1.42l1.42 1.42l-1.42 1.42zM588.72 55.59l1.42 -1.42l1.42 1.42l-1.42 1.42zM587.25 49.48l1.42 -1.42l1.42 1.42l-1.42 1.42zM591.17 49.54l1.42 -1.42l1.42 1.42l-1.42 1.42zM585.03 49.01l1.42 -1.42l1.42 1.42l-1.42 1.42zM588.20 53.33l1.42 -1.42l1.42 1.42l-1.42 1.42zM585.92 54.38l1.42 -1.42l1.42 1.42l-1.42 1.42zM590.95 49.60l1.42 -1.42l1.42 1.42l-1.42 1.42zM588.50 54.97l1.42 -1.42l1.42 1.42l-1.42 1.42zM586.82 52.13l1.42 -1.42l1.42 1.42l-1.42 1.42zM584.88 47.98l1.42 -1.42l1.42 1.42l-1.42 1.42zM588.00 55.94l1.42 -1.42l1.42 1.42l-1.42 1.42zM585.52 53.54l1.42 -1.42l1.42 1.42l-1.42 1.42zM584.36 50.95l1.42 -1.42l1.42 1.42l-1.42 1.42zM587.17 51.57l1.42 -1.42l1.42 1.42l-1.42 1.42zM595.70 51.72l1.42 -1.42l1.42 1.42l-1.42 1.42zM599.73 58.18l1.42 -1.42l1.42 1.42l-1.42 1.42zM599.07 53.02l1.42 -1.42l1.42 1.42l-1.42 1.42zM598.63 56.28l1.42 -1.42l1.42 1.42l-1.42 1.42zM596.74 57.36l1.42 -1.42l1.42 1.42l-1.42 1.42zM595.63 56.52l1.42 -1.42l1.42 1.42l-1.42 1.42zM595.21 54.09l1.42 -1.42l1.42 1.42l-1.42 1.42zM593.06 57.12l1.42 -1.42l1.42 1.42l-1.42 1.42zM597.99 52.79l1.42 -1.42l1.42 1.42l-1.42 1.42zM592.96 47.74l1.42 -1.42l1.42 1.42l-1.42 1.42zM592.41 54.02l1.42 -1.42l1.42 1.42l-1.42 1.42zM594.90 49.37l1.42 -1.42l1.42 1.42l-1.42 1.42zM597.35 52.62l1.42 -1.42l1.42 1.42l-1.42 1.42zM594.99 54.35l1.42 -1.42l1.42 1.42l-1.42 1.42zM597.61 56.54l1.42 -1.42l1.42 1.42l-1.42 1.42zM592.86 50.85l1.42 -1.42l1.42 1.42l-1.42 1.42zM595.84 49.34l1.42 -1.42l1.42 1.42l-1.42 1.42zM599.71 59.46l1.42 -1.42l1.42 1.42l-1.42 1.42zM594.78 50.93l1.42 -1.42l1.42 1.42l-1.42 1.42zM597.22 48.83l1.42 -1.42l1.42 1.42l-1.42 1.42zM592.74 56.31l1.42 -1.42l1.42 1.42l-1.42 1.42zM591.69 50.00l1.42 -1.42l1.42 1.42l-1.42 1.42zM597.64 59.14l1.42 -1.42l1.42 1.42l-1.42 1.42zM593.65 52.64l1.42 -1.42l1.42 1.42l-1.42 1.42zM600.36 52.16l1.42 -1.42l1.42 1.42l-1.42 1.42zM602.26 51.91l1.42 -1.42l1.42 1.42l-1.42 1.42zM601.28 49.18l1.42 -1.42l1.42 1.42l-1.42 1.42zM628.09 55.99l1.42 -1.42l1.42 1.42l-1.42 1.42zM611.79 70.28l1.42 -1.42l1.42 1.42l-1.42 1.42zM570.28 25.00l1.42 -1.42l1.42 1.42l-1.42 1.42zM567.78 36.40l1.42 -1.42l1.42 1.42l-1.42 1.42zM547.38 38.20l1.42 -1.42l1.42 1.42l-1.42 1.42zM553.68 41.40l1.42 -1.42l1.42 1.42l-1.42 1.42zM558.08 40.50l1.42 -1.42l1.42 1.42l-1.42 1.42zM550.38 41.60l1.42 -1.42l1.42 1.42l-1.42 1.42zM546.58 42.00l1.42 -1.42l1.42 1.42l-1.42 1.42zM521.08 50.70l1.42 -1.42l1.42 1.42l-1.42 1.42zM531.38 50.30l1.42 -1.42l1.42 1.42l-1.42 1.42zM539.28 50.70l1.42 -1.42l1.42 1.42l-1.42 1.42zM543.58 57.40l1.42 -1.42l1.42 1.42l-1.42 1.42zM556.98 69.00l1.42 -1.42l1.42 1.42l-1.42 1.42zM561.88 66.60l1.42 -1.42l1.42 1.42l-1.42 1.42zM565.58 65.00l1.42 -1.42l1.42 1.42l-1.42 1.42zM571.98 71.20l1.42 -1.42l1.42 1.42l-1.42 1.42zM574.58 61.70l1.42 -1.42l1.42 1.42l-1.42 1.42zM579.48 62.80l1.42 -1.42l1.42 1.42l-1.42 1.42zM590.08 42.00l1.42 -1.42l1.42 1.42l-1.42 1.42zM596.28 42.70l1.42 -1.42l1.42 1.42l-1.42 1.42zM617.95 48.39l1.42 -1.42l1.42 1.42l-1.42 1.42zM609.88 46.21l1.42 -1.42l1.42 1.42l-1.42 1.42zM612.54 47.76l1.42 -1.42l1.42 1.42l-1.42 1.42zM614.91 49.47l1.42 -1.42l1.42 1.42l-1.42 1.42zM605.04 45.58l1.42 -1.42l1.42 1.42l-1.42 1.42zM595.93 42.01l1.42 -1.42l1.42 1.42l-1.42 1.42zM598.59 45.01l1.42 -1.42l1.42 1.42l-1.42 1.42zM603.71 48.61l1.42 -1.42l1.42 1.42l-1.42 1.42zM620.79 52.31l1.42 -1.42l1.42 1.42l-1.42 1.42zM599.63 61.78l1.42 -1.42l1.42 1.42l-1.42 1.42zM604.76 59.44l1.42 -1.42l1.42 1.42l-1.42 1.42zM610.93 57.44l1.42 -1.42l1.42 1.42l-1.42 1.42zM610.17 59.69l1.42 -1.42l1.42 1.42l-1.42 1.42zM616.81 56.12l1.42 -1.42l1.42 1.42l-1.42 1.42zM616.14 57.92l1.42 -1.42l1.42 1.42l-1.42 1.42zM618.71 57.22l1.42 -1.42l1.42 1.42l-1.42 1.42zM621.27 54.87l1.42 -1.42l1.42 1.42l-1.42 1.42zM622.12 56.70l1.42 -1.42l1.42 1.42l-1.42 1.42zM628.01 55.88l1.42 -1.42l1.42 1.42l-1.42 1.42zM607.89 55.70l1.42 -1.42l1.42 1.42l-1.42 1.42zM543.67 53.07l1.42 -1.42l1.42 1.42l-1.42 1.42zM541.57 53.07l1.42 -1.42l1.42 1.42l-1.42 1.42zM550.92 62.50l1.42 -1.42l1.42 1.42l-1.42 1.42zM546.85 47.89l1.42 -1.42l1.42 1.42l-1.42 1.42zM554.54 51.64l1.42 -1.42l1.42 1.42l-1.42 1.42zM560.46 53.49l1.42 -1.42l1.42 1.42l-1.42 1.42zM554.49 45.61l1.42 -1.42l1.42 1.42l-1.42 1.42zM556.16 52.46l1.42 -1.42l1.42 1.42l-1.42 1.42zM559.50 63.24l1.42 -1.42l1.42 1.42l-1.42 1.42zM564.58 57.92l1.42 -1.42l1.42 1.42l-1.42 1.42zM564.71 50.23l1.42 -1.42l1.42 1.42l-1.42 1.42zM563.40 54.84l1.42 -1.42l1.42 1.42l-1.42 1.42zM561.81 50.15l1.42 -1.42l1.42 1.42l-1.42 1.42zM562.81 51.58l1.42 -1.42l1.42 1.42l-1.42 1.42zM572.10 51.45l1.42 -1.42l1.42 1.42l-1.42 1.42zM571.08 44.46l1.42 -1.42l1.42 1.42l-1.42 1.42zM572.63 60.12l1.42 -1.42l1.42 1.42l-1.42 1.42zM576.81 61.24l1.42 -1.42l1.42 1.42l-1.42 1.42zM578.39 54.73l1.42 -1.42l1.42 1.42l-1.42 1.42zM582.61 50.33l1.42 -1.42l1.42 1.42l-1.42 1.42zM583.12 50.39l1.42 -1.42l1.42 1.42l-1.42 1.42zM576.54 45.87l1.42 -1.42l1.42 1.42l-1.42 1.42zM579.02 58.98l1.42 -1.42l1.42 1.42l-1.42 1.42zM580.41 54.82l1.42 -1.42l1.42 1.42l-1.42 1.42zM578.01 48.09l1.42 -1.42l1.42 1.42l-1.42 1.42zM583.04 54.87l1.42 -1.42l1.42 1.42l-1.42 1.42zM583.37 57.87l1.42 -1.42l1.42 1.42l-1.42 1.42zM587.67 54.65l1.42 -1.42l1.42 1.42l-1.42 1.42zM587.43 54.16l1.42 -1.42l1.42 1.42l-1.42 1.42zM586.75 48.41l1.42 -1.42l1.42 1.42l-1.42 1.42zM589.49 49.48l1.42 -1.42l1.42 1.42l-1.42 1.42zM585.56 55.45l1.42 -1.42l1.42 1.42l-1.42 1.42zM590.70 58.61l1.42 -1.42l1.42 1.42l-1.42 1.42zM589.29 54.92l1.42 -1.42l1.42 1.42l-1.42 1.42zM588.85 52.90l1.42 -1.42l1.42 1.42l-1.42 1.42zM599.42 56.01l1.42 -1.42l1.42 1.42l-1.42 1.42zM596.48 57.83l1.42 -1.42l1.42 1.42l-1.42 1.42zM596.04 57.15l1.42 -1.42l1.42 1.42l-1.42 1.42zM592.92 57.60l1.42 -1.42l1.42 1.42l-1.42 1.42zM595.77 51.65l1.42 -1.42l1.42 1.42l-1.42 1.42zM600.99 58.16l1.42 -1.42l1.42 1.42l-1.42 1.42zM603.30 58.12l1.42 -1.42l1.42 1.42l-1.42 1.42zM603.44 60.37l1.42 -1.42l1.42 1.42l-1.42 1.42zM603.72 52.53l1.42 -1.42l1.42 1.42l-1.42 1.42zM605.45 48.42l1.42 -1.42l1.42 1.42l-1.42 1.42zM602.67 55.04l1.42 -1.42l1.42 1.42l-1.42 1.42zM600.63 51.24l1.42 -1.42l1.42 1.42l-1.42 1.42zM603.95 53.23l1.42 -1.42l1.42 1.42l-1.42 1.42zM599.82 54.42l1.42 -1.42l1.42 1.42l-1.42 1.42zM603.13 56.68l1.42 -1.42l1.42 1.42l-1.42 1.42zM607.35 52.30l1.42 -1.42l1.42 1.42l-1.42 1.42zM626.34 52.94l1.42 -1.42l1.42 1.42l-1.42 1.42z" fill="#000"/>
<path d="M562.04 346.52l1.42 -1.42l1.42 1.42l-1.42 1.42zM561.12 345.33l1.42 -1.42l1.42 1.42l-1.42 1.42zM581.83 350.79l1.42 -1.42l1.42 1.42l-1.42 1.42zM574.84 346.43l1.42 -1.42l1.42 1.42l-1.42 1.42zM564.05 332.28l1.42 -1.42l1.42 1.42l-1.42 1.42zM573.44 338.72l1.42 -1.42l1.42 1.42l-1.42 1.42zM565.74 327.80l1.42 -1.42l1.42 1.42l-1.42 1.42zM667.49 275.36l1.42 -1.42l1.42 1.42l-1.42 1.42zM661.76 303.74l1.42 -1.42l1.42 1.42l-1.42 1.42zM644.44 278.80l1.42 -1.42l1.42 1.42l-1.42 1.42zM637.41 276.01l1.42 -1.42l1.42 1.42l-1.42 1.42zM632.62 283.06l1.42 -1.42l1.42 1.42l-1.42 1.42zM630.13 299.28l1.42 -1.42l1.42 1.42l-1.42 1.42zM624.54 271.73l1.42 -1.42l1.42 1.42l-1.42 1.42zM572.68 278.40l1.42 -1.42l1.42 1.42l-1.42 1.42zM571.08 282.20l1.42 -1.42l1.42 1.42l-1.42 1.42zM572.18 285.40l1.42 -1.42l1.42 1.42l-1.42 1.42zM579.18 283.20l1.42 -1.42l1.42 1.42l-1.42 1.42zM586.88 278.50l1.42 -1.42l1.42 1.42l-1.42 1.42zM589.28 278.10l1.42 -1.42l1.42 1.42l-1.42 1.42zM594.58 270.80l1.42 -1.42l1.42 1.42l-1.42 1.42zM598.68 271.30l1.42 -1.42l1.42 1.42l-1.42 1.42zM602.58 268.50l1.42 -1.42l1.42 1.42l-1.42 1.42zM606.08 268.20l1.42 -1.42l1.42 1.42l-1.42 1.42zM608.98 260.00l1.42 -1.42l1.42 1.42l-1.42 1.42zM619.38 262.90l1.42 -1.42l1.42 1.42l-1.42 1.42zM615.29 286.67l1.42 -1.42l1.42 1.42l-1.42 1.42zM615.29 284.50l1.42 -1.42l1.42 1.42l-1.42 1.42zM610.93 288.55l1.42 -1.42l1.42 1.42l-1.42 1.42zM608.65 290.35l1.42 -1.42l1.42 1.42l-1.42 1.42zM610.07 286.85l1.42 -1.42l1.42 1.42l-1.42 1.42zM608.17 288.57l1.42 -1.42l1.42 1.42l-1.42 1.42zM607.23 291.07l1.42 -1.42l1.42 1.42l-1.42 1.42zM606.56 289.87l1.42 -1.42l1.42 1.42l-1.42 1.42zM602.58 299.63l1.42 -1.42l1.42 1.42l-1.42 1.42zM602.20 296.22l1.42 -1.42l1.42 1.42l-1.42 1.42zM604.76 290.22l1.42 -1.42l1.42 1.42l-1.42 1.42zM616.43 276.36l1.42 -1.42l1.42 1.42l-1.42 1.42zM617.76 274.75l1.42 -1.42l1.42 1.42l-1.42 1.42zM599.82 297.42l1.42 -1.42l1.42 1.42l-1.42 1.42zM600.87 295.53l1.42 -1.42l1.42 1.42l-1.42 1.42zM604.09 288.84l1.42 -1.42l1.42 1.42l-1.42 1.42zM606.56 285.11l1.42 -1.42l1.42 1.42l-1.42 1.42zM611.78 278.05l1.42 -1.42l1.42 1.42l-1.42 1.42zM613.58 276.17l1.42 -1.42l1.42 1.42l-1.42 1.42zM609.31 279.51l1.42 -1.42l1.42 1.42l-1.42 1.42zM599.54 295.52l1.42 -1.42l1.42 1.42l-1.42 1.42zM603.05 286.89l1.42 -1.42l1.42 1.42l-1.42 1.42zM604.47 285.34l1.42 -1.42l1.42 1.42l-1.42 1.42zM595.65 302.24l1.42 -1.42l1.42 1.42l-1.42 1.42zM594.23 303.83l1.42 -1.42l1.42 1.42l-1.42 1.42zM597.36 293.69l1.42 -1.42l1.42 1.42l-1.42 1.42zM599.82 288.30l1.42 -1.42l1.42 1.42l-1.42 1.42zM603.33 283.76l1.42 -1.42l1.42 1.42l-1.42 1.42zM609.31 276.00l1.42 -1.42l1.42 1.42l-1.42 1.42zM611.78 273.49l1.42 -1.42l1.42 1.42l-1.42 1.42zM613.20 272.62l1.42 -1.42l1.42 1.42l-1.42 1.42zM607.60 276.19l1.42 -1.42l1.42 1.42l-1.42 1.42zM612.63 268.22l1.42 -1.42l1.42 1.42l-1.42 1.42zM610.36 271.30l1.42 -1.42l1.42 1.42l-1.42 1.42zM607.32 276.40l1.42 -1.42l1.42 1.42l-1.42 1.42zM610.93 274.50l1.42 -1.42l1.42 1.42l-1.42 1.42zM612.63 277.03l1.42 -1.42l1.42 1.42l-1.42 1.42zM603.14 287.11l1.42 -1.42l1.42 1.42l-1.42 1.42zM604.00 286.27l1.42 -1.42l1.42 1.42l-1.42 1.42zM610.36 274.29l1.42 -1.42l1.42 1.42l-1.42 1.42zM603.33 315.49l1.42 -1.42l1.42 1.42l-1.42 1.42zM624.50 273.47l1.42 -1.42l1.42 1.42l-1.42 1.42zM621.36 273.65l1.42 -1.42l1.42 1.42l-1.42 1.42zM576.34 337.17l1.42 -1.42l1.42 1.42l-1.42 1.42zM575.61 335.79l1.42 -1.42l1.42 1.42l-1.42 1.42zM569.22 329.21l1.42 -1.42l1.42 1.42l-1.42 1.42zM574.48 327.89l1.42 -1.42l1.42 1.42l-1.42 1.42zM572.79 329.56l1.42 -1.42l1.42 1.42l-1.42 1.42zM569.45 320.37l1.42 -1.42l1.42 1.42l-1.42 1.42zM576.16 336.19l1.42 -1.42l1.42 1.42l-1.42 1.42zM576.39 321.26l1.42 -1.42l1.42 1.42l-1.42 1.42zM575.77 315.19l1.42 -1.42l1.42 1.42l-1.42 1.42zM579.15 332.44l1.42 -1.42l1.42 1.42l-1.42 1.42zM577.19 329.09l1.42 -1.42l1.42 1.42l-1.42 1.42zM577.34 330.11l1.42 -1.42l1.42 1.42l-1.42 1.42zM578.92 329.41l1.42 -1.42l1.42 1.42l-1.42 1.42zM578.47 323.35l1.42 -1.42l1.42 1.42l-1.42 1.42zM572.36 314.31l1.42 -1.42l1.42 1.42l-1.42 1.42zM575.88 316.17l1.42 -1.42l1.42 1.42l-1.42 1.42zM578.17 329.15l1.42 -1.42l1.42 1.42l-1.42 1.42zM573.16 319.06l1.42 -1.42l1.42 1.42l-1.42 1.42zM577.36 317.37l1.42 -1.42l1.42 1.42l-1.42 1.42zM578.18 319.69l1.42 -1.42l1.42 1.42l-1.42 1.42zM579.74 330.07l1.42 -1.42l1.42 1.42l-1.42 1.42zM579.26 329.66l1.42 -1.42l1.42 1.42l-1.42 1.42zM579.01 324.06l1.42 -1.42l1.42 1.42l-1.42 1.42zM574.12 324.82l1.42 -1.42l1.42 1.42l-1.42 1.42zM577.61 329.97l1.42 -1.42l1.42 1.42l-1.42 1.42zM577.14 325.30l1.42 -1.42l1.42 1.42l-1.42 1.42zM579.97 307.67l1.42 -1.42l1.42 1.42l-1.42 1.42zM582.86 316.80l1.42 -1.42l1.42 1.42l-1.42 1.42zM580.29 314.30l1.42 -1.42l1.42 1.42l-1.42 1.42zM577.99 306.00l1.42 -1.42l1.42 1.42l-1.42 1.42zM582.51 316.84l1.42 -1.42l1.42 1.42l-1.42 1.42zM579.52 307.77l1.42 -1.42l1.42 1.42l-1.42 1.42zM581.84 311.01l1.42 -1.42l1.42 1.42l-1.42 1.42zM574.20 306.18l1.42 -1.42l1.42 1.42l-1.42 1.42zM579.43 310.65l1.42 -1.42l1.42 1.42l-1.42 1.42zM575.52 309.94l1.42 -1.42l1.42 1.42l-1.42 1.42zM578.07 303.45l1.42 -1.42l1.42 1.42l-1.42 1.42zM576.75 296.51l1.42 -1.42l1.42 1.42l-1.42 1.42zM584.68 320.35l1.42 -1.42l1.42 1.42l-1.42 1.42zM577.07 315.74l1.42 -1.42l1.42 1.42l-1.42 1.42zM579.07 314.73l1.42 -1.42l1.42 1.42l-1.42 1.42zM583.15 312.95l1.42 -1.42l1.42 1.42l-1.42 1.42zM577.49 314.84l1.42 -1.42l1.42 1.42l-1.42 1.42zM579.36 317.35l1.42 -1.42l1.42 1.42l-1.42 1.42zM575.43 305.21l1.42 -1.42l1.42 1.42l-1.42 1.42zM580.80 309.41l1.42 -1.42l1.42 1.42l-1.42 1.42zM578.61 308.26l1.42 -1.42l1.42 1.42l-1.42 1.42zM580.14 314.78l1.42 -1.42l1.42 1.42l-1.42 1.42zM578.03 317.16l1.42 -1.42l1.42 1.42l-1.42 1.42zM576.46 302.56l1.42 -1.42l1.42 1.42l-1.42 1.42zM573.80 303.18l1.42 -1.42l1.42 1.42l-1.42 1.42zM574.95 310.52l1.42 -1.42l1.42 1.42l-1.42 1.42zM579.53 319.77l1.42 -1.42l1.42 1.42l-1.42 1.42zM580.16 313.80l1.42 -1.42l1.42 1.42l-1.42 1.42zM580.39 312.87l1.42 -1.42l1.42 1.42l-1.42 1.42zM573.85 301.13l1.42 -1.42l1.42 1.42l-1.42 1.42zM574.01 293.53l1.42 -1.42l1.42 1.42l-1.42 1.42zM577.05 309.82l1.42 -1.42l1.42 1.42l-1.42 1.42zM580.79 303.82l1.42 -1.42l1.42 1.42l-1.42 1.42zM581.08 300.38l1.42 -1.42l1.42 1.42l-1.42 1.42zM585.54 300.25l1.42 -1.42l1.42 1.42l-1.42 1.42zM581.04 304.89l1.42 -1.42l1.42 1.42l-1.42 1.42zM578.98 299.17l1.42 -1.42l1.42 1.42l-1.42 1.42zM581.71 296.28l1.42 -1.42l1.42 1.42l-1.42 1.42zM585.41 298.56l1.42 -1.42l1.42 1.42l-1.42 1.42zM585.02 298.66l1.42 -1.42l1.42 1.42l-1.42 1.42zM583.79 299.75l1.42 -1.42l1.42 1.42l-1.42 1.42zM585.82 317.90l1.42 -1.42l1.42 1.42l-1.42 1.42zM583.95 297.63l1.42 -1.42l1.42 1.42l-1.42 1.42zM584.06 301.03l1.42 -1.42l1.42 1.42l-1.42 1.42zM579.58 299.72l1.42 -1.42l1.42 1.42l-1.42 1.42zM582.19 300.33l1.42 -1.42l1.42 1.42l-1.42 1.42zM582.14 309.38l1.42 -1.42l1.42 1.42l-1.42 1.42zM585.40 302.45l1.42 -1.42l1.42 1.42l-1.42 1.42zM583.72 299.07l1.42 -1.42l1.42 1.42l-1.42 1.42zM585.10 301.45l1.42 -1.42l1.42 1.42l-1.42 1.42zM584.29 299.91l1.42 -1.42l1.42 1.42l-1.42 1.42zM578.55 292.91l1.42 -1.42l1.42 1.42l-1.42 1.42zM578.97 278.50l1.42 -1.42l1.42 1.42l-1.42 1.42zM586.54 316.47l1.42 -1.42l1.42 1.42l-1.42 1.42zM583.09 310.14l1.42 -1.42l1.42 1.42l-1.42 1.42zM582.42 302.80l1.42 -1.42l1.42 1.42l-1.42 1.42zM579.91 291.50l1.42 -1.42l1.42 1.42l-1.42 1.42zM579.71 296.55l1.42 -1.42l1.42 1.42l-1.42 1.42zM586.01 308.52l1.42 -1.42l1.42 1.42l-1.42 1.42zM578.71 283.57l1.42 -1.42l1.42 1.42l-1.42 1.42zM581.26 302.74l1.42 -1.42l1.42 1.42l-1.42 1.42zM585.16 305.77l1.42 -1.42l1.42 1.42l-1.42 1.42zM582.65 304.27l1.42 -1.42l1.42 1.42l-1.42 1.42zM585.44 304.10l1.42 -1.42l1.42 1.42l-1.42 1.42zM581.84 303.35l1.42 -1.42l1.42 1.42l-1.42 1.42zM588.81 312.03l1.42 -1.42l1.42 1.42l-1.42 1.42zM581.40 295.42l1.42 -1.42l1.42 1.42l-1.42 1.42zM581.41 292.17l1.42 -1.42l1.42 1.42l-1.42 1.42zM583.59 303.46l1.42 -1.42l1.42 1.42l-1.42 1.42zM587.77 305.53l1.42 -1.42l1.42 1.42l-1.42 1.42zM581.17 305.70l1.42 -1.42l1.42 1.42l-1.42 1.42zM584.27 309.52l1.42 -1.42l1.42 1.42l-1.42 1.42zM582.26 298.48l1.42 -1.42l1.42 1.42l-1.42 1.42zM578.72 299.73l1.42 -1.42l1.42 1.42l-1.42 1.42zM584.31 312.91l1.42 -1.42l1.42 1.42l-1.42 1.42zM587.24 307.87l1.42 -1.42l1.42 1.42l-1.42 1.42zM586.48 309.16l1.42 -1.42l1.42 1.42l-1.42 1.42zM584.10 295.67l1.42 -1.42l1.42 1.42l-1.42 1.42zM582.16 292.67l1.42 -1.42l1.42 1.42l-1.42 1.42zM584.95 287.62l1.42 -1.42l1.42 1.42l-1.42 1.42zM588.27 290.43l1.42 -1.42l1.42 1.42l-1.42 1.42zM587.99 297.69l1.42 -1.42l1.42 1.42l-1.42 1.42zM589.98 293.83l1.42 -1.42l1.42 1.42l-1.42 1.42zM585.01 285.23l1.42 -1.42l1.42 1.42l-1.42 1.42zM590.17 291.02l1.42 -1.42l1.42 1.42l-1.42 1.42zM588.89 291.48l1.42 -1.42l1.42 1.42l-1.42 1.42zM589.30 291.46l1.42 -1.42l1.42 1.42l-1.42 1.42zM588.13 292.32l1.42 -1.42l1.42 1.42l-1.42 1.42zM589.06 289.44l1.42 -1.42l1.42 1.42l-1.42 1.42zM588.55 296.82l1.42 -1.42l1.42 1.42l-1.42 1.42zM588.40 293.14l1.42 -1.42l1.42 1.42l-1.42 1.42zM586.02 298.10l1.42 -1.42l1.42 1.42l-1.42 1.42zM587.07 288.38l1.42 -1.42l1.42 1.42l-1.42 1.42zM589.57 293.54l1.42 -1.42l1.42 1.42l-1.42 1.42zM589.29 289.76l1.42 -1.42l1.42 1.42l-1.42 1.42zM584.63 279.99l1.42 -1.42l1.42 1.42l-1.42 1.42zM590.61 292.68l1.42 -1.42l1.42 1.42l-1.42 1.42zM586.76 292.50l1.42 -1.42l1.42 1.42l-1.42 1.42zM587.38 301.81l1.42 -1.42l1.42 1.42l-1.42 1.42zM588.23 291.01l1.42 -1.42l1.42 1.42l-1.42 1.42zM587.47 292.78l1.42 -1.42l1.42 1.42l-1.42 1.42zM587.82 294.80l1.42 -1.42l1.42 1.42l-1.42 1.42zM589.73 290.01l1.42 -1.42l1.42 1.42l-1.42 1.42zM585.26 293.46l1.42 -1.42l1.42 1.42l-1.42 1.42zM585.78 281.06l1.42 -1.42l1.42 1.42l-1.42 1.42zM590.50 303.94l1.42 -1.42l1.42 1.42l-1.42 1.42zM585.59 283.13l1.42 -1.42l1.42 1.42l-1.42 1.42zM587.31 290.94l1.42 -1.42l1.42 1.42l-1.42 1.42zM588.97 296.62l1.42 -1.42l1.42 1.42l-1.42 1.42zM590.38 292.19l1.42 -1.42l1.42 1.42l-1.42 1.42zM587.13 299.08l1.42 -1.42l1.42 1.42l-1.42 1.42zM586.73 301.65l1.42 -1.42l1.42 1.42l-1.42 1.42zM587.87 303.85l1.42 -1.42l1.42 1.42l-1.42 1.42zM588.12 295.03l1.42 -1.42l1.42 1.42l-1.42 1.42zM595.03 304.82l1.42 -1.42l1.42 1.42l-1.42 1.42zM583.86 290.86l1.42 -1.42l1.42 1.42l-1.42 1.42zM590.85 290.31l1.42 -1.42l1.42 1.42l-1.42 1.42zM587.48 290.52l1.42 -1.42l1.42 1.42l-1.42 1.42zM585.01 293.03l1.42 -1.42l1.42 1.42l-1.42 1.42zM586.84 297.16l1.42 -1.42l1.42 1.42l-1.42 1.42zM591.32 299.39l1.42 -1.42l1.42 1.42l-1.42 1.42zM586.97 288.37l1.42 -1.42l1.42 1.42l-1.42 1.42zM585.61 290.54l1.42 -1.42l1.42 1.42l-1.42 1.42zM590.94 294.11l1.42 -1.42l1.42 1.42l-1.42 1.42zM588.41 296.64l1.42 -1.42l1.42 1.42l-1.42 1.42zM590.67 304.61l1.42 -1.42l1.42 1.42l-1.42 1.42zM591.97 294.99l1.42 -1.42l1.42 1.42l-1.42 1.42zM586.11 297.97l1.42 -1.42l1.42 1.42l-1.42 1.42zM585.56 293.98l1.42 -1.42l1.42 1.42l-1.42 1.42zM592.94 287.53l1.42 -1.42l1.42 1.42l-1.42 1.42zM593.24 284.23l1.42 -1.42l1.42 1.42l-1.42 1.42zM589.02 280.22l1.42 -1.42l1.42 1.42l-1.42 1.42zM590.88 288.57l1.42 -1.42l1.42 1.42l-1.42 1.42zM591.55 286.26l1.42 -1.42l1.42 1.42l-1.42 1.42zM594.54 282.36l1.42 -1.42l1.42 1.42l-1.42 1.42zM593.49 282.02l1.42 -1.42l1.42 1.42l-1.42 1.42zM593.32 298.15l1.42 -1.42l1.42 1.42l-1.42 1.42zM591.86 292.58l1.42 -1.42l1.42 1.42l-1.42 1.42zM594.53 291.08l1.42 -1.42l1.42 1.42l-1.42 1.42zM594.86 279.24l1.42 -1.42l1.42 1.42l-1.42 1.42zM594.56 276.45l1.42 -1.42l1.42 1.42l-1.42 1.42zM595.38 281.13l1.42 -1.42l1.42 1.42l-1.42 1.42zM596.37 284.03l1.42 -1.42l1.42 1.42l-1.42 1.42zM592.16 284.20l1.42 -1.42l1.42 1.42l-1.42 1.42zM591.16 286.67l1.42 -1.42l1.42 1.42l-1.42 1.42zM595.28 290.41l1.42 -1.42l1.42 1.42l-1.42 1.42zM594.84 286.01l1.42 -1.42l1.42 1.42l-1.42 1.42zM593.95 277.35l1.42 -1.42l1.42 1.42l-1.42 1.42zM595.35 280.08l1.42 -1.42l1.42 1.42l-1.42 1.42zM592.21 281.75l1.42 -1.42l1.42 1.42l-1.42 1.42zM591.49 289.09l1.42 -1.42l1.42 1.42l-1.42 1.42zM594.29 275.64l1.42 -1.42l1.42 1.42l-1.42 1.42zM595.42 281.86l1.42 -1.42l1.42 1.42l-1.42 1.42zM597.24 286.44l1.42 -1.42l1.42 1.42l-1.42 1.42zM594.04 284.86l1.42 -1.42l1.42 1.42l-1.42 1.42zM593.21 278.66l1.42 -1.42l1.42 1.42l-1.42 1.42zM591.82 282.52l1.42 -1.42l1.42 1.42l-1.42 1.42zM591.78 288.28l1.42 -1.42l1.42 1.42l-1.42 1.42zM592.93 289.58l1.42 -1.42l1.42 1.42l-1.42 1.42zM595.96 288.77l1.42 -1.42l1.42 1.42l-1.42 1.42zM592.21 285.68l1.42 -1.42l1.42 1.42l-1.42 1.42zM591.63 277.34l1.42 -1.42l1.42 1.42l-1.42 1.42zM595.25 293.84l1.42 -1.42l1.42 1.42l-1.42 1.42zM596.68 284.12l1.42 -1.42l1.42 1.42l-1.42 1.42zM592.10 290.04l1.42 -1.42l1.42 1.42l-1.42 1.42zM593.80 287.20l1.42 -1.42l1.42 1.42l-1.42 1.42zM589.98 281.54l1.42 -1.42l1.42 1.42l-1.42 1.42zM595.64 280.61l1.42 -1.42l1.42 1.42l-1.42 1.42zM593.74 286.91l1.42 -1.42l1.42 1.42l-1.42 1.42zM593.99 292.43l1.42 -1.42l1.42 1.42l-1.42 1.42zM591.60 288.02l1.42 -1.42l1.42 1.42l-1.42 1.42zM588.71 266.76l1.42 -1.42l1.42 1.42l-1.42 1.42zM590.93 286.55l1.42 -1.42l1.42 1.42l-1.42 1.42zM591.27 290.72l1.42 -1.42l1.42 1.42l-1.42 1.42zM594.72 293.49l1.42 -1.42l1.42 1.42l-1.42 1.42zM600.70 283.57l1.42 -1.42l1.42 1.42l-1.42 1.42zM605.69 291.99l1.42 -1.42l1.42 1.42l-1.42 1.42zM604.39 285.80l1.42 -1.42l1.42 1.42l-1.42 1.42zM603.39 285.96l1.42 -1.42l1.42 1.42l-1.42 1.42zM601.06 284.90l1.42 -1.42l1.42 1.42l-1.42 1.42zM597.16 271.48l1.42 -1.42l1.42 1.42l-1.42 1.42zM600.14 284.97l1.42 -1.42l1.42 1.42l-1.42 1.42zM597.56 285.47l1.42 -1.42l1.42 1.42l-1.42 1.42zM600.87 274.78l1.42 -1.42l1.42 1.42l-1.42 1.42zM598.81 284.25l1.42 -1.42l1.42 1.42l-1.42 1.42zM597.23 284.47l1.42 -1.42l1.42 1.42l-1.42 1.42zM598.78 276.77l1.42 -1.42l1.42 1.42l-1.42 1.42zM600.86 277.61l1.42 -1.42l1.42 1.42l-1.42 1.42zM598.39 278.53l1.42 -1.42l1.42 1.42l-1.42 1.42zM600.94 280.03l1.42 -1.42l1.42 1.42l-1.42 1.42zM596.90 278.65l1.42 -1.42l1.42 1.42l-1.42 1.42zM600.94 282.22l1.42 -1.42l1.42 1.42l-1.42 1.42zM599.61 265.86l1.42 -1.42l1.42 1.42l-1.42 1.42zM598.70 278.15l1.42 -1.42l1.42 1.42l-1.42 1.42zM599.35 267.68l1.42 -1.42l1.42 1.42l-1.42 1.42zM595.91 279.14l1.42 -1.42l1.42 1.42l-1.42 1.42zM597.35 285.06l1.42 -1.42l1.42 1.42l-1.42 1.42zM600.28 279.06l1.42 -1.42l1.42 1.42l-1.42 1.42zM597.72 280.20l1.42 -1.42l1.42 1.42l-1.42 1.42zM603.81 276.97l1.42 -1.42l1.42 1.42l-1.42 1.42zM607.54 284.86l1.42 -1.42l1.42 1.42l-1.42 1.42zM603.62 269.04l1.42 -1.42l1.42 1.42l-1.42 1.42z" fill="#000"/>
<path d="M561.80 552.37l1.42 -1.42l1.42 1.42l-1.42 1.42zM561.14 548.39l1.42 -1.42l1.42 1.42l-1.42 1.42zM581.67 555.42l1.42 -1.42l1.42 1.42l-1.42 1.42zM574.68 551.15l1.42 -1.42l1.42 1.42l-1.42 1.42zM563.86 537.66l1.42 -1.42l1.42 1.42l-1.42 1.42zM573.44 541.96l1.42 -1.42l1.42 1.42l-1.42 1.42zM564.75 541.13l1.42 -1.42l1.42 1.42l-1.42 1.42zM667.48 479.09l1.42 -1.42l1.42 1.42l-1.42 1.42zM661.81 506.26l1.42 -1.42l1.42 1.42l-1.42 1.42zM644.32 483.38l1.42 -1.42l1.42 1.42l-1.42 1.42zM636.57 485.53l1.42 -1.42l1.42 1.42l-1.42 1.42zM631.63 493.87l1.42 -1.42l1.42 1.42l-1.42 1.42zM630.22 501.96l1.42 -1.42l1.42 1.42l-1.42 1.42zM624.89 473.62l1.42 -1.42l1.42 1.42l-1.42 1.42zM572.52 483.89l1.42 -1.42l1.42 1.42l-1.42 1.42zM570.05 493.91l1.42 -1.42l1.42 1.42l-1.42 1.42zM571.27 496.32l1.42 -1.42l1.42 1.42l-1.42 1.42zM579.38 486.06l1.42 -1.42l1.42 1.42l-1.42 1.42zM586.97 482.18l1.42 -1.42l1.42 1.42l-1.42 1.42zM589.50 480.88l1.42 -1.42l1.42 1.42l-1.42 1.42zM594.17 477.71l1.42 -1.42l1.42 1.42l-1.42 1.42zM598.60 476.08l1.42 -1.42l1.42 1.42l-1.42 1.42zM602.15 475.47l1.42 -1.42l1.42 1.42l-1.42 1.42zM606.70 468.84l1.42 -1.42l1.42 1.42l-1.42 1.42zM608.31 468.28l1.42 -1.42l1.42 1.42l-1.42 1.42zM619.29 467.77l1.42 -1.42l1.42 1.42l-1.42 1.42zM614.98 492.74l1.42 -1.42l1.42 1.42l-1.42 1.42zM615.19 489.07l1.42 -1.42l1.42 1.42l-1.42 1.42zM610.90 492.55l1.42 -1.42l1.42 1.42l-1.42 1.42zM608.37 496.20l1.42 -1.42l1.42 1.42l-1.42 1.42zM609.70 493.44l1.42 -1.42l1.42 1.42l-1.42 1.42zM608.11 492.89l1.42 -1.42l1.42 1.42l-1.42 1.42zM607.15 495.47l1.42 -1.42l1.42 1.42l-1.42 1.42zM606.21 496.34l1.42 -1.42l1.42 1.42l-1.42 1.42zM602.76 501.87l1.42 -1.42l1.42 1.42l-1.42 1.42zM602.64 496.56l1.42 -1.42l1.42 1.42l-1.42 1.42zM604.49 496.04l1.42 -1.42l1.42 1.42l-1.42 1.42zM616.49 480.02l1.42 -1.42l1.42 1.42l-1.42 1.42zM618.17 476.19l1.42 -1.42l1.42 1.42l-1.42 1.42zM600.02 499.65l1.42 -1.42l1.42 1.42l-1.42 1.42zM600.92 498.88l1.42 -1.42l1.42 1.42l-1.42 1.42zM604.42 490.38l1.42 -1.42l1.42 1.42l-1.42 1.42zM606.97 486.21l1.42 -1.42l1.42 1.42l-1.42 1.42zM611.64 483.00l1.42 -1.42l1.42 1.42l-1.42 1.42zM613.19 482.81l1.42 -1.42l1.42 1.42l-1.42 1.42zM609.26 483.87l1.42 -1.42l1.42 1.42l-1.42 1.42zM599.71 497.96l1.42 -1.42l1.42 1.42l-1.42 1.42zM602.78 492.77l1.42 -1.42l1.42 1.42l-1.42 1.42zM604.09 492.05l1.42 -1.42l1.42 1.42l-1.42 1.42zM595.65 505.94l1.42 -1.42l1.42 1.42l-1.42 1.42zM593.88 510.32l1.42 -1.42l1.42 1.42l-1.42 1.42zM596.81 501.77l1.42 -1.42l1.42 1.42l-1.42 1.42zM599.79 492.46l1.42 -1.42l1.42 1.42l-1.42 1.42zM603.54 486.35l1.42 -1.42l1.42 1.42l-1.42 1.42zM609.08 481.64l1.42 -1.42l1.42 1.42l-1.42 1.42zM611.58 478.91l1.42 -1.42l1.42 1.42l-1.42 1.42zM612.75 479.70l1.42 -1.42l1.42 1.42l-1.42 1.42zM607.94 478.13l1.42 -1.42l1.42 1.42l-1.42 1.42zM612.73 471.90l1.42 -1.42l1.42 1.42l-1.42 1.42zM610.52 474.52l1.42 -1.42l1.42 1.42l-1.42 1.42zM607.83 477.24l1.42 -1.42l1.42 1.42l-1.42 1.42zM610.77 479.67l1.42 -1.42l1.42 1.42l-1.42 1.42zM612.35 482.96l1.42 -1.42l1.42 1.42l-1.42 1.42zM603.31 489.86l1.42 -1.42l1.42 1.42l-1.42 1.42zM603.37 494.76l1.42 -1.42l1.42 1.42l-1.42 1.42zM609.98 480.90l1.42 -1.42l1.42 1.42l-1.42 1.42zM603.02 521.64l1.42 -1.42l1.42 1.42l-1.42 1.42zM624.26 479.03l1.42 -1.42l1.42 1.42l-1.42 1.42zM620.98 480.17l1.42 -1.42l1.42 1.42l-1.42 1.42zM576.17 542.15l1.42 -1.42l1.42 1.42l-1.42 1.42zM575.53 539.85l1.42 -1.42l1.42 1.42l-1.42 1.42zM568.92 535.64l1.42 -1.42l1.42 1.42l-1.42 1.42zM574.30 533.03l1.42 -1.42l1.42 1.42l-1.42 1.42zM572.27 538.13l1.42 -1.42l1.42 1.42l-1.42 1.42zM569.00 528.19l1.42 -1.42l1.42 1.42l-1.42 1.42zM575.95 541.59l1.42 -1.42l1.42 1.42l-1.42 1.42zM576.06 527.81l1.42 -1.42l1.42 1.42l-1.42 1.42zM575.13 524.64l1.42 -1.42l1.42 1.42l-1.42 1.42zM578.86 538.65l1.42 -1.42l1.42 1.42l-1.42 1.42zM576.94 534.90l1.42 -1.42l1.42 1.42l-1.42 1.42zM577.14 535.37l1.42 -1.42l1.42 1.42l-1.42 1.42zM578.87 533.20l1.42 -1.42l1.42 1.42l-1.42 1.42zM578.40 527.41l1.42 -1.42l1.42 1.42l-1.42 1.42zM572.34 518.25l1.42 -1.42l1.42 1.42l-1.42 1.42zM576.69 512.68l1.42 -1.42l1.42 1.42l-1.42 1.42zM577.76 536.55l1.42 -1.42l1.42 1.42l-1.42 1.42zM572.76 526.35l1.42 -1.42l1.42 1.42l-1.42 1.42zM576.83 525.87l1.42 -1.42l1.42 1.42l-1.42 1.42zM577.84 526.39l1.42 -1.42l1.42 1.42l-1.42 1.42zM579.45 536.19l1.42 -1.42l1.42 1.42l-1.42 1.42zM579.09 534.61l1.42 -1.42l1.42 1.42l-1.42 1.42zM578.66 530.83l1.42 -1.42l1.42 1.42l-1.42 1.42zM573.55 533.82l1.42 -1.42l1.42 1.42l-1.42 1.42zM577.08 538.64l1.42 -1.42l1.42 1.42l-1.42 1.42zM576.59 534.03l1.42 -1.42l1.42 1.42l-1.42 1.42zM580.82 504.43l1.42 -1.42l1.42 1.42l-1.42 1.42zM582.51 523.54l1.42 -1.42l1.42 1.42l-1.42 1.42zM580.10 519.60l1.42 -1.42l1.42 1.42l-1.42 1.42zM577.42 514.69l1.42 -1.42l1.42 1.42l-1.42 1.42zM582.38 521.53l1.42 -1.42l1.42 1.42l-1.42 1.42zM579.27 513.69l1.42 -1.42l1.42 1.42l-1.42 1.42zM582.31 510.66l1.42 -1.42l1.42 1.42l-1.42 1.42zM573.79 513.44l1.42 -1.42l1.42 1.42l-1.42 1.42zM579.43 514.34l1.42 -1.42l1.42 1.42l-1.42 1.42zM575.17 516.70l1.42 -1.42l1.42 1.42l-1.42 1.42zM577.96 508.20l1.42 -1.42l1.42 1.42l-1.42 1.42zM576.43 502.99l1.42 -1.42l1.42 1.42l-1.42 1.42zM584.51 525.28l1.42 -1.42l1.42 1.42l-1.42 1.42zM576.61 523.53l1.42 -1.42l1.42 1.42l-1.42 1.42zM578.71 521.62l1.42 -1.42l1.42 1.42l-1.42 1.42zM583.23 515.89l1.42 -1.42l1.42 1.42l-1.42 1.42zM576.72 525.44l1.42 -1.42l1.42 1.42l-1.42 1.42zM579.20 522.41l1.42 -1.42l1.42 1.42l-1.42 1.42zM574.81 514.26l1.42 -1.42l1.42 1.42l-1.42 1.42zM580.88 512.46l1.42 -1.42l1.42 1.42l-1.42 1.42zM578.75 510.81l1.42 -1.42l1.42 1.42l-1.42 1.42zM579.87 520.82l1.42 -1.42l1.42 1.42l-1.42 1.42zM577.62 524.42l1.42 -1.42l1.42 1.42l-1.42 1.42zM576.90 502.92l1.42 -1.42l1.42 1.42l-1.42 1.42zM573.86 506.56l1.42 -1.42l1.42 1.42l-1.42 1.42zM574.77 515.86l1.42 -1.42l1.42 1.42l-1.42 1.42zM578.88 529.39l1.42 -1.42l1.42 1.42l-1.42 1.42zM580.92 510.90l1.42 -1.42l1.42 1.42l-1.42 1.42zM580.05 519.46l1.42 -1.42l1.42 1.42l-1.42 1.42zM573.90 504.64l1.42 -1.42l1.42 1.42l-1.42 1.42zM573.60 500.78l1.42 -1.42l1.42 1.42l-1.42 1.42zM577.05 513.55l1.42 -1.42l1.42 1.42l-1.42 1.42zM580.48 510.17l1.42 -1.42l1.42 1.42l-1.42 1.42zM580.23 511.23l1.42 -1.42l1.42 1.42l-1.42 1.42zM585.21 506.74l1.42 -1.42l1.42 1.42l-1.42 1.42zM580.73 511.24l1.42 -1.42l1.42 1.42l-1.42 1.42zM579.22 501.17l1.42 -1.42l1.42 1.42l-1.42 1.42zM581.30 503.41l1.42 -1.42l1.42 1.42l-1.42 1.42zM585.38 502.66l1.42 -1.42l1.42 1.42l-1.42 1.42zM585.29 500.43l1.42 -1.42l1.42 1.42l-1.42 1.42zM583.67 504.53l1.42 -1.42l1.42 1.42l-1.42 1.42zM585.74 522.07l1.42 -1.42l1.42 1.42l-1.42 1.42zM583.46 505.44l1.42 -1.42l1.42 1.42l-1.42 1.42zM583.94 505.79l1.42 -1.42l1.42 1.42l-1.42 1.42zM579.71 502.64l1.42 -1.42l1.42 1.42l-1.42 1.42zM581.40 510.72l1.42 -1.42l1.42 1.42l-1.42 1.42zM581.60 517.68l1.42 -1.42l1.42 1.42l-1.42 1.42zM584.72 511.86l1.42 -1.42l1.42 1.42l-1.42 1.42zM583.30 506.31l1.42 -1.42l1.42 1.42l-1.42 1.42zM585.02 505.94l1.42 -1.42l1.42 1.42l-1.42 1.42zM584.36 503.23l1.42 -1.42l1.42 1.42l-1.42 1.42zM578.57 496.81l1.42 -1.42l1.42 1.42l-1.42 1.42zM578.25 487.80l1.42 -1.42l1.42 1.42l-1.42 1.42zM586.35 521.65l1.42 -1.42l1.42 1.42l-1.42 1.42zM583.57 509.76l1.42 -1.42l1.42 1.42l-1.42 1.42zM582.29 507.61l1.42 -1.42l1.42 1.42l-1.42 1.42zM580.60 490.49l1.42 -1.42l1.42 1.42l-1.42 1.42zM579.48 502.25l1.42 -1.42l1.42 1.42l-1.42 1.42zM586.38 509.14l1.42 -1.42l1.42 1.42l-1.42 1.42zM579.41 483.05l1.42 -1.42l1.42 1.42l-1.42 1.42zM581.06 508.17l1.42 -1.42l1.42 1.42l-1.42 1.42zM585.05 510.38l1.42 -1.42l1.42 1.42l-1.42 1.42zM583.29 502.84l1.42 -1.42l1.42 1.42l-1.42 1.42zM584.99 511.64l1.42 -1.42l1.42 1.42l-1.42 1.42zM580.80 516.00l1.42 -1.42l1.42 1.42l-1.42 1.42zM589.24 511.92l1.42 -1.42l1.42 1.42l-1.42 1.42zM581.63 497.61l1.42 -1.42l1.42 1.42l-1.42 1.42zM581.55 495.13l1.42 -1.42l1.42 1.42l-1.42 1.42zM583.54 507.72l1.42 -1.42l1.42 1.42l-1.42 1.42zM587.12 514.74l1.42 -1.42l1.42 1.42l-1.42 1.42zM580.81 512.47l1.42 -1.42l1.42 1.42l-1.42 1.42zM584.43 511.79l1.42 -1.42l1.42 1.42l-1.42 1.42zM582.26 502.36l1.42 -1.42l1.42 1.42l-1.42 1.42zM579.37 498.54l1.42 -1.42l1.42 1.42l-1.42 1.42zM584.30 516.65l1.42 -1.42l1.42 1.42l-1.42 1.42zM586.74 515.83l1.42 -1.42l1.42 1.42l-1.42 1.42zM586.52 512.52l1.42 -1.42l1.42 1.42l-1.42 1.42zM583.90 501.18l1.42 -1.42l1.42 1.42l-1.42 1.42zM581.49 501.85l1.42 -1.42l1.42 1.42l-1.42 1.42zM584.11 497.95l1.42 -1.42l1.42 1.42l-1.42 1.42zM588.40 493.48l1.42 -1.42l1.42 1.42l-1.42 1.42zM588.22 499.73l1.42 -1.42l1.42 1.42l-1.42 1.42zM589.65 500.31l1.42 -1.42l1.42 1.42l-1.42 1.42zM585.11 488.67l1.42 -1.42l1.42 1.42l-1.42 1.42zM589.53 499.86l1.42 -1.42l1.42 1.42l-1.42 1.42zM587.96 502.63l1.42 -1.42l1.42 1.42l-1.42 1.42zM589.05 497.29l1.42 -1.42l1.42 1.42l-1.42 1.42zM588.11 496.42l1.42 -1.42l1.42 1.42l-1.42 1.42zM588.65 496.47l1.42 -1.42l1.42 1.42l-1.42 1.42zM589.38 494.36l1.42 -1.42l1.42 1.42l-1.42 1.42zM588.29 497.91l1.42 -1.42l1.42 1.42l-1.42 1.42zM586.42 498.89l1.42 -1.42l1.42 1.42l-1.42 1.42zM585.75 502.42l1.42 -1.42l1.42 1.42l-1.42 1.42zM589.38 498.88l1.42 -1.42l1.42 1.42l-1.42 1.42zM589.28 493.82l1.42 -1.42l1.42 1.42l-1.42 1.42zM586.19 474.17l1.42 -1.42l1.42 1.42l-1.42 1.42zM590.87 494.69l1.42 -1.42l1.42 1.42l-1.42 1.42zM586.30 500.01l1.42 -1.42l1.42 1.42l-1.42 1.42zM586.93 509.23l1.42 -1.42l1.42 1.42l-1.42 1.42zM588.96 489.69l1.42 -1.42l1.42 1.42l-1.42 1.42zM586.88 501.21l1.42 -1.42l1.42 1.42l-1.42 1.42zM587.06 504.69l1.42 -1.42l1.42 1.42l-1.42 1.42zM589.50 495.69l1.42 -1.42l1.42 1.42l-1.42 1.42zM585.17 498.13l1.42 -1.42l1.42 1.42l-1.42 1.42zM585.21 489.23l1.42 -1.42l1.42 1.42l-1.42 1.42zM591.05 503.21l1.42 -1.42l1.42 1.42l-1.42 1.42zM585.43 488.44l1.42 -1.42l1.42 1.42l-1.42 1.42zM586.66 499.88l1.42 -1.42l1.42 1.42l-1.42 1.42zM588.39 505.06l1.42 -1.42l1.42 1.42l-1.42 1.42zM590.48 495.39l1.42 -1.42l1.42 1.42l-1.42 1.42zM588.05 495.89l1.42 -1.42l1.42 1.42l-1.42 1.42zM586.64 506.12l1.42 -1.42l1.42 1.42l-1.42 1.42zM588.16 505.17l1.42 -1.42l1.42 1.42l-1.42 1.42zM587.85 501.07l1.42 -1.42l1.42 1.42l-1.42 1.42zM595.39 505.56l1.42 -1.42l1.42 1.42l-1.42 1.42zM583.19 499.99l1.42 -1.42l1.42 1.42l-1.42 1.42zM591.13 492.25l1.42 -1.42l1.42 1.42l-1.42 1.42zM587.18 496.78l1.42 -1.42l1.42 1.42l-1.42 1.42zM585.20 495.58l1.42 -1.42l1.42 1.42l-1.42 1.42zM586.16 506.43l1.42 -1.42l1.42 1.42l-1.42 1.42zM591.11 504.92l1.42 -1.42l1.42 1.42l-1.42 1.42zM587.07 491.67l1.42 -1.42l1.42 1.42l-1.42 1.42zM586.19 490.35l1.42 -1.42l1.42 1.42l-1.42 1.42zM590.48 501.58l1.42 -1.42l1.42 1.42l-1.42 1.42zM588.17 502.38l1.42 -1.42l1.42 1.42l-1.42 1.42zM590.98 505.77l1.42 -1.42l1.42 1.42l-1.42 1.42zM592.26 496.67l1.42 -1.42l1.42 1.42l-1.42 1.42zM585.82 504.18l1.42 -1.42l1.42 1.42l-1.42 1.42zM585.29 500.03l1.42 -1.42l1.42 1.42l-1.42 1.42zM593.22 489.59l1.42 -1.42l1.42 1.42l-1.42 1.42zM592.76 491.71l1.42 -1.42l1.42 1.42l-1.42 1.42zM588.47 488.20l1.42 -1.42l1.42 1.42l-1.42 1.42zM590.68 494.02l1.42 -1.42l1.42 1.42l-1.42 1.42zM590.92 494.93l1.42 -1.42l1.42 1.42l-1.42 1.42zM594.49 486.81l1.42 -1.42l1.42 1.42l-1.42 1.42zM593.14 488.56l1.42 -1.42l1.42 1.42l-1.42 1.42zM593.22 502.75l1.42 -1.42l1.42 1.42l-1.42 1.42zM591.37 500.24l1.42 -1.42l1.42 1.42l-1.42 1.42zM595.02 491.40l1.42 -1.42l1.42 1.42l-1.42 1.42zM594.05 489.01l1.42 -1.42l1.42 1.42l-1.42 1.42zM594.87 478.62l1.42 -1.42l1.42 1.42l-1.42 1.42zM595.98 481.20l1.42 -1.42l1.42 1.42l-1.42 1.42zM595.97 490.86l1.42 -1.42l1.42 1.42l-1.42 1.42zM591.62 492.10l1.42 -1.42l1.42 1.42l-1.42 1.42zM591.91 485.45l1.42 -1.42l1.42 1.42l-1.42 1.42zM595.54 492.47l1.42 -1.42l1.42 1.42l-1.42 1.42zM595.19 487.53l1.42 -1.42l1.42 1.42l-1.42 1.42zM593.27 486.19l1.42 -1.42l1.42 1.42l-1.42 1.42zM595.15 485.58l1.42 -1.42l1.42 1.42l-1.42 1.42zM592.12 486.50l1.42 -1.42l1.42 1.42l-1.42 1.42zM591.14 495.70l1.42 -1.42l1.42 1.42l-1.42 1.42zM594.71 477.19l1.42 -1.42l1.42 1.42l-1.42 1.42zM595.77 483.57l1.42 -1.42l1.42 1.42l-1.42 1.42zM597.53 488.33l1.42 -1.42l1.42 1.42l-1.42 1.42zM593.68 491.45l1.42 -1.42l1.42 1.42l-1.42 1.42zM592.93 484.77l1.42 -1.42l1.42 1.42l-1.42 1.42zM591.41 489.52l1.42 -1.42l1.42 1.42l-1.42 1.42zM591.14 497.05l1.42 -1.42l1.42 1.42l-1.42 1.42zM593.52 489.34l1.42 -1.42l1.42 1.42l-1.42 1.42zM596.11 491.65l1.42 -1.42l1.42 1.42l-1.42 1.42zM592.02 491.04l1.42 -1.42l1.42 1.42l-1.42 1.42zM591.84 480.22l1.42 -1.42l1.42 1.42l-1.42 1.42zM594.70 502.00l1.42 -1.42l1.42 1.42l-1.42 1.42zM596.06 492.57l1.42 -1.42l1.42 1.42l-1.42 1.42zM591.47 498.74l1.42 -1.42l1.42 1.42l-1.42 1.42zM593.67 492.16l1.42 -1.42l1.42 1.42l-1.42 1.42zM590.01 485.56l1.42 -1.42l1.42 1.42l-1.42 1.42zM595.01 489.11l1.42 -1.42l1.42 1.42l-1.42 1.42zM593.82 490.38l1.42 -1.42l1.42 1.42l-1.42 1.42zM593.72 498.38l1.42 -1.42l1.42 1.42l-1.42 1.42zM590.84 497.70l1.42 -1.42l1.42 1.42l-1.42 1.42zM589.03 469.34l1.42 -1.42l1.42 1.42l-1.42 1.42zM590.83 491.33l1.42 -1.42l1.42 1.42l-1.42 1.42zM590.87 497.73l1.42 -1.42l1.42 1.42l-1.42 1.42zM594.39 499.90l1.42 -1.42l1.42 1.42l-1.42 1.42zM600.36 490.05l1.42 -1.42l1.42 1.42l-1.42 1.42zM606.12 492.59l1.42 -1.42l1.42 1.42l-1.42 1.42zM604.20 491.05l1.42 -1.42l1.42 1.42l-1.42 1.42zM603.63 488.20l1.42 -1.42l1.42 1.42l-1.42 1.42zM601.45 486.13l1.42 -1.42l1.42 1.42l-1.42 1.42zM597.54 473.47l1.42 -1.42l1.42 1.42l-1.42 1.42zM600.10 489.25l1.42 -1.42l1.42 1.42l-1.42 1.42zM597.92 486.93l1.42 -1.42l1.42 1.42l-1.42 1.42zM600.65 480.38l1.42 -1.42l1.42 1.42l-1.42 1.42zM597.97 494.31l1.42 -1.42l1.42 1.42l-1.42 1.42zM597.18 488.81l1.42 -1.42l1.42 1.42l-1.42 1.42zM598.09 485.59l1.42 -1.42l1.42 1.42l-1.42 1.42zM600.62 483.34l1.42 -1.42l1.42 1.42l-1.42 1.42zM598.40 482.60l1.42 -1.42l1.42 1.42l-1.42 1.42zM601.26 481.99l1.42 -1.42l1.42 1.42l-1.42 1.42zM596.43 486.04l1.42 -1.42l1.42 1.42l-1.42 1.42zM600.28 490.92l1.42 -1.42l1.42 1.42l-1.42 1.42zM600.53 464.97l1.42 -1.42l1.42 1.42l-1.42 1.42zM598.23 485.46l1.42 -1.42l1.42 1.42l-1.42 1.42zM598.51 477.24l1.42 -1.42l1.42 1.42l-1.42 1.42zM596.21 481.32l1.42 -1.42l1.42 1.42l-1.42 1.42zM596.80 493.07l1.42 -1.42l1.42 1.42l-1.42 1.42zM600.99 478.51l1.42 -1.42l1.42 1.42l-1.42 1.42zM597.50 485.87l1.42 -1.42l1.42 1.42l-1.42 1.42zM603.51 483.14l1.42 -1.42l1.42 1.42l-1.42 1.42zM607.21 491.14l1.42 -1.42l1.42 1.42l-1.42 1.42zM602.84 478.23l1.42 -1.42l1.42 1.42l-1.42 1.42z" fill="#000"/>
</svg></body></html>
